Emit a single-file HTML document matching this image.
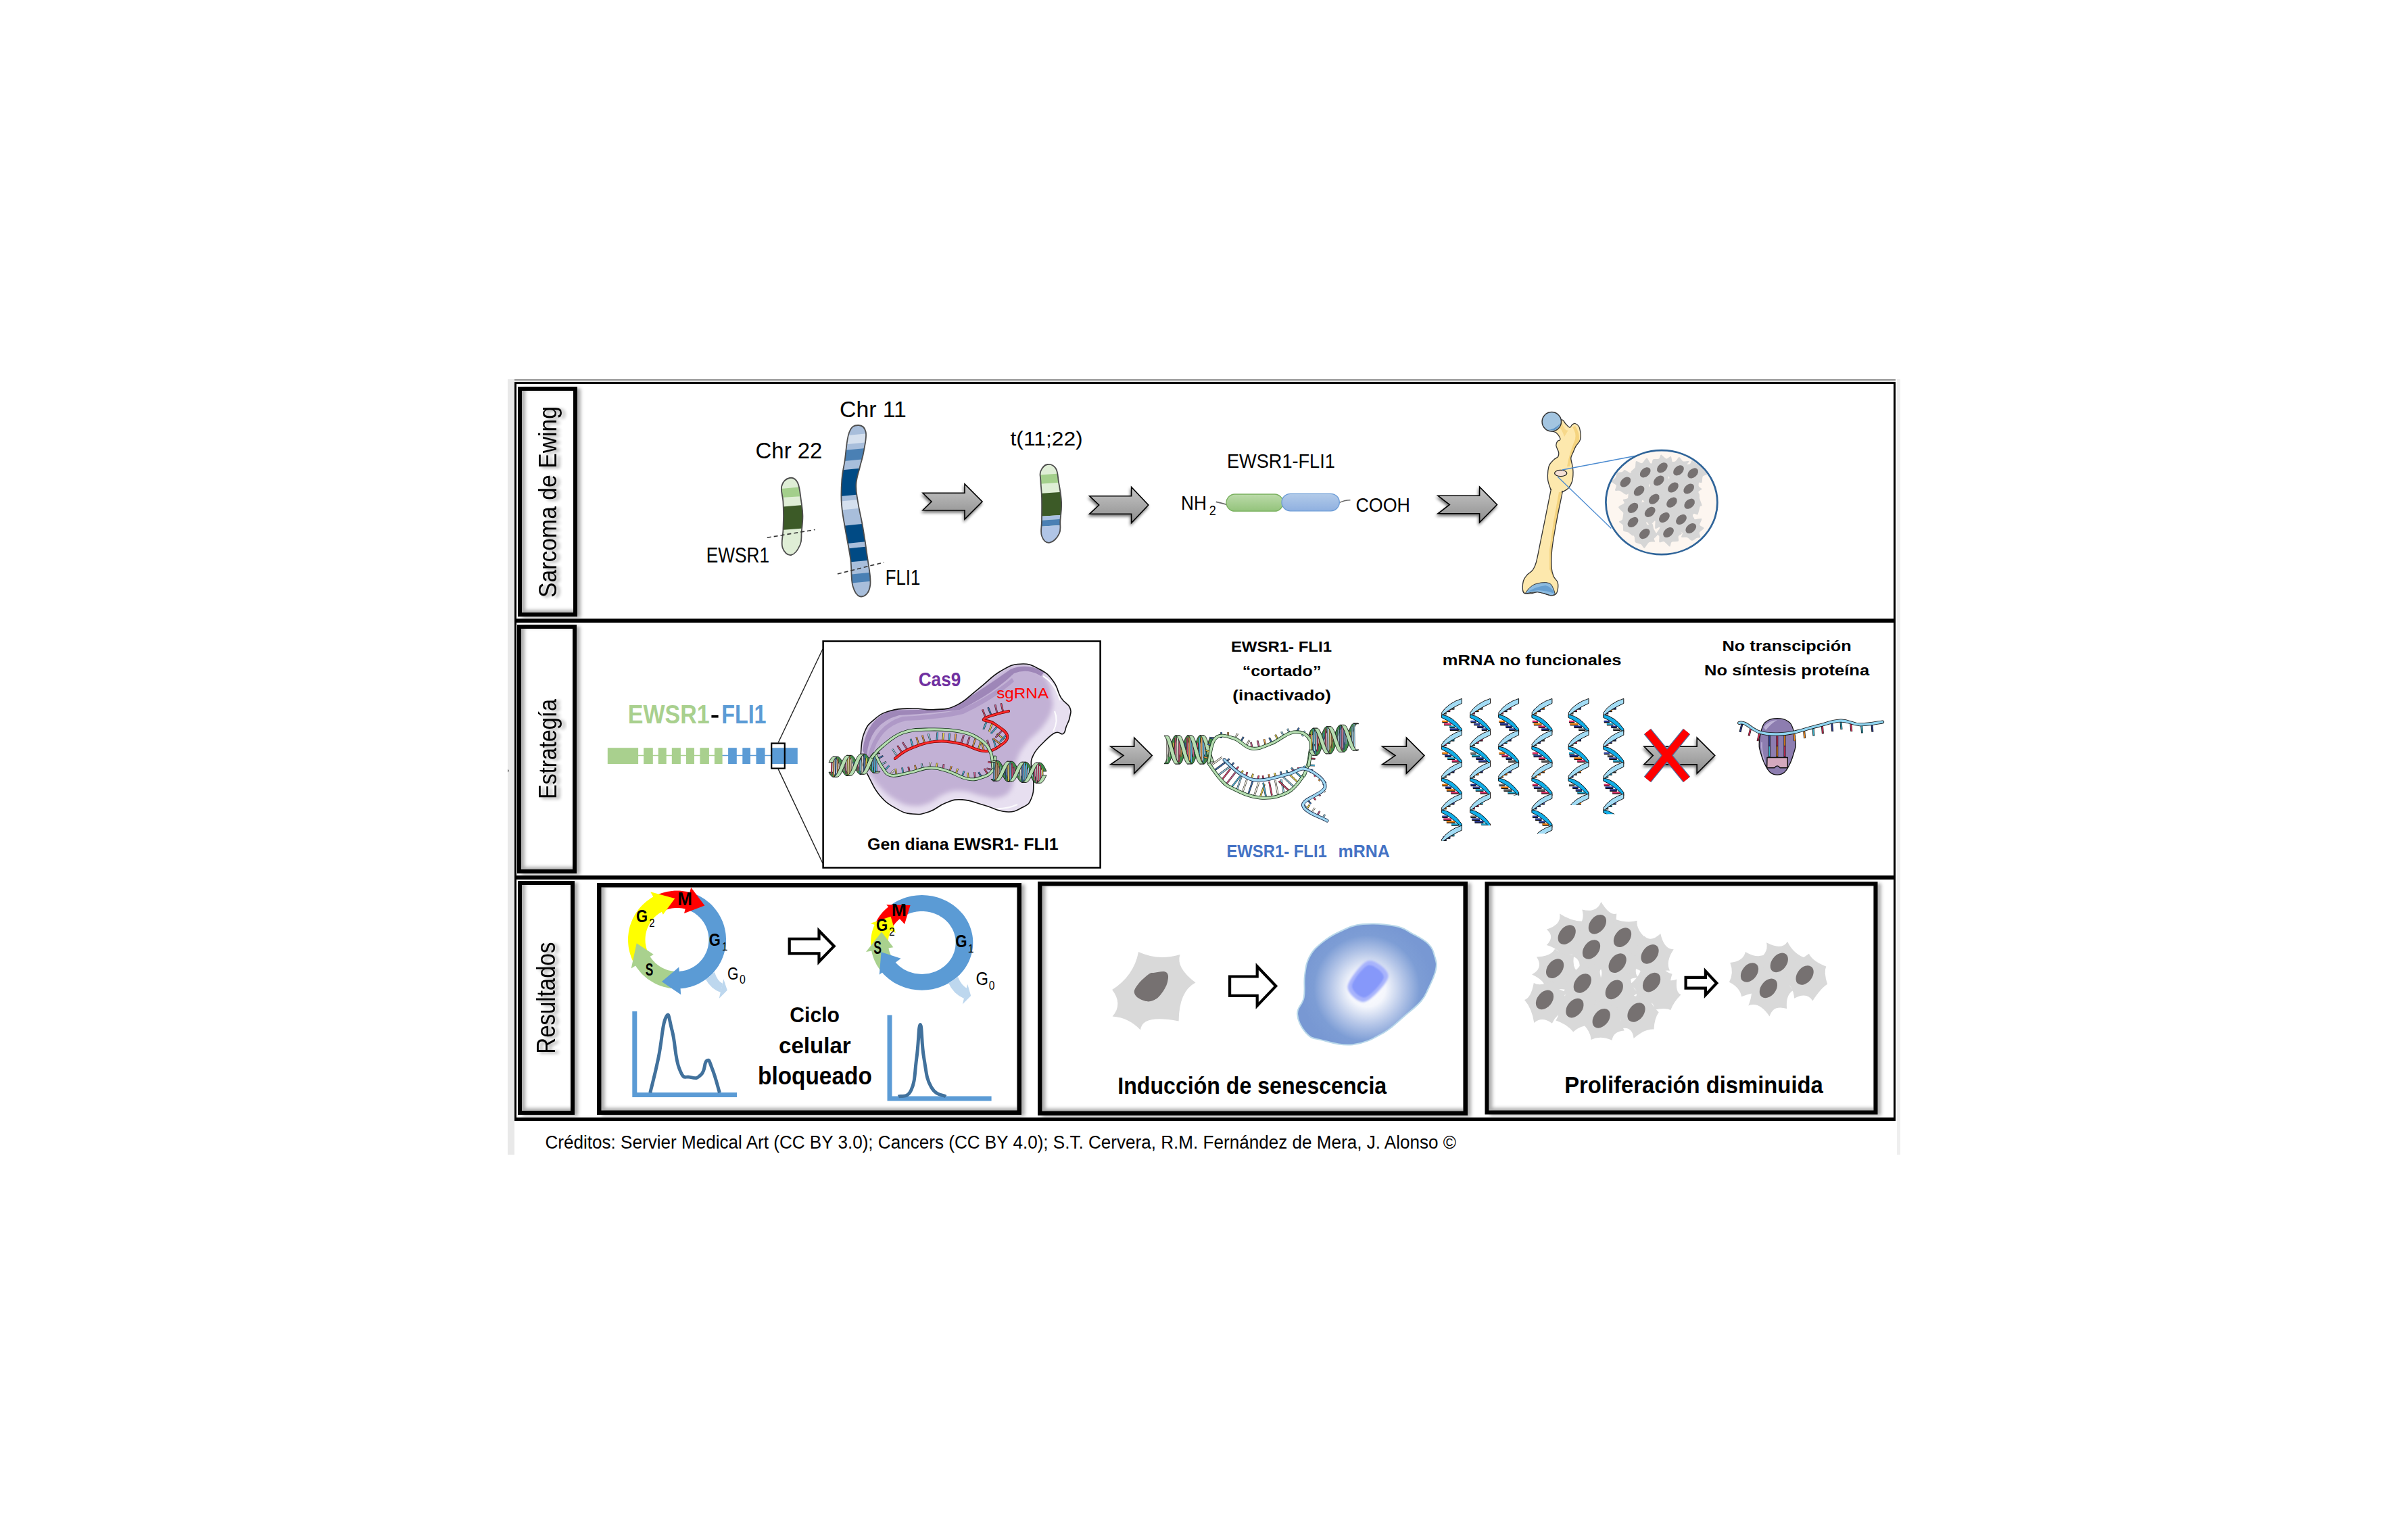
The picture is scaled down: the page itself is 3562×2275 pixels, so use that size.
<!DOCTYPE html>
<html><head><meta charset="utf-8"><style>
html,body{margin:0;padding:0;background:#fff;overflow:hidden}
svg{display:block}
text{font-family:"Liberation Sans",sans-serif}
</style></head><body>
<svg width="3562" height="2275" viewBox="0 0 3562 2275">
<rect width="3562" height="2275" fill="#fff"/>

<defs>
 <filter id="tshadow" x="-20%" y="-20%" width="140%" height="140%">
  <feGaussianBlur in="SourceAlpha" stdDeviation="2.4"/>
  <feOffset dx="4.5" dy="1.5" result="b"/>
  <feComponentTransfer><feFuncA type="linear" slope="0.38"/></feComponentTransfer>
  <feMerge><feMergeNode/><feMergeNode in="SourceGraphic"/></feMerge>
 </filter>
 <filter id="boxshadow" x="-10%" y="-10%" width="130%" height="130%">
  <feGaussianBlur in="SourceAlpha" stdDeviation="2.5"/>
  <feOffset dx="5" dy="2" result="b"/>
  <feComponentTransfer><feFuncA type="linear" slope="0.35"/></feComponentTransfer>
  <feMerge><feMergeNode/><feMergeNode in="SourceGraphic"/></feMerge>
 </filter>
 <filter id="innerblur" x="-10%" y="-10%" width="120%" height="120%">
  <feGaussianBlur stdDeviation="2.6"/>
 </filter>
 <filter id="arrowshadow" x="-20%" y="-20%" width="140%" height="160%">
  <feGaussianBlur in="SourceAlpha" stdDeviation="2"/>
  <feOffset dx="-1" dy="3" result="b"/>
  <feComponentTransfer><feFuncA type="linear" slope="0.55"/></feComponentTransfer>
  <feMerge><feMergeNode/><feMergeNode in="SourceGraphic"/></feMerge>
 </filter>
 <linearGradient id="arrowgrad" x1="0" y1="0" x2="0" y2="1">
  <stop offset="0" stop-color="#c6c6c6"/><stop offset="1" stop-color="#8e8e8e"/>
 </linearGradient>
</defs>

<rect x="751" y="561" width="10" height="1147" fill="#e9e9e9"/>
<rect x="2806" y="561" width="5" height="1147" fill="#efefef"/>
<path d="M751,1137.4 L753.2,1140.2 L751,1142.6 Z" fill="#666"/>
<rect x="761" y="561" width="2043" height="1.8" fill="#8f8f8f"/>
<rect x="761" y="562.8" width="2043" height="1.6" fill="#c4c4c4"/>
<rect x="761" y="565" width="2043" height="3" fill="#000"/>
<rect x="761" y="565" width="3" height="1093" fill="#000"/>
<rect x="2801" y="565" width="3" height="1093" fill="#000"/>
<rect x="761" y="1653" width="2043" height="5" fill="#000"/>
<rect x="761" y="915" width="2043" height="6" fill="#000"/>
<rect x="761" y="1295" width="2043" height="6" fill="#000"/>
<rect x="768" y="573" width="86" height="339" fill="#000" fill-opacity="0.32" filter="url(#innerblur)" transform="translate(5,1.5)"/>
<rect x="772" y="578" width="76" height="328" fill="#fff"/>
<clipPath id="clip12_766_572"><rect x="772" y="578" width="76" height="328"/></clipPath>
<g clip-path="url(#clip12_766_572)"><rect x="769.0" y="575.0" width="82" height="334" fill="none" stroke="#000" stroke-opacity="0.32" stroke-width="8" filter="url(#innerblur)" transform="translate(4,-2.5)"/></g>
<rect x="769.0" y="575.0" width="82" height="334" fill="none" stroke="#000" stroke-width="6"/>
<rect x="767" y="925" width="86" height="367" fill="#000" fill-opacity="0.32" filter="url(#innerblur)" transform="translate(5,1.5)"/>
<rect x="771" y="930" width="76" height="356" fill="#fff"/>
<clipPath id="clip13_765_924"><rect x="771" y="930" width="76" height="356"/></clipPath>
<g clip-path="url(#clip13_765_924)"><rect x="768.0" y="927.0" width="82" height="362" fill="none" stroke="#000" stroke-opacity="0.32" stroke-width="8" filter="url(#innerblur)" transform="translate(4,-2.5)"/></g>
<rect x="768.0" y="927.0" width="82" height="362" fill="none" stroke="#000" stroke-width="6"/>
<rect x="768" y="1304" width="82" height="345" fill="#000" fill-opacity="0.32" filter="url(#innerblur)" transform="translate(5,1.5)"/>
<rect x="772" y="1309" width="72" height="334" fill="#fff"/>
<clipPath id="clip14_766_1303"><rect x="772" y="1309" width="72" height="334"/></clipPath>
<g clip-path="url(#clip14_766_1303)"><rect x="769.0" y="1306.0" width="78" height="340" fill="none" stroke="#000" stroke-opacity="0.32" stroke-width="8" filter="url(#innerblur)" transform="translate(4,-2.5)"/></g>
<rect x="769.0" y="1306.0" width="78" height="340" fill="none" stroke="#000" stroke-width="6"/>
<rect x="885" y="1307" width="626" height="342" fill="#000" fill-opacity="0.32" filter="url(#innerblur)" transform="translate(5,1.5)"/>
<rect x="889.5" y="1312.5" width="615.0" height="330.0" fill="#fff"/>
<clipPath id="clip15_883_1306"><rect x="889.5" y="1312.5" width="615.0" height="330.0"/></clipPath>
<g clip-path="url(#clip15_883_1306)"><rect x="886.25" y="1309.25" width="621.5" height="336.5" fill="none" stroke="#000" stroke-opacity="0.32" stroke-width="8.5" filter="url(#innerblur)" transform="translate(4,-2.5)"/></g>
<rect x="886.25" y="1309.25" width="621.5" height="336.5" fill="none" stroke="#000" stroke-width="6.5"/>
<rect x="1537" y="1305" width="634" height="345" fill="#000" fill-opacity="0.32" filter="url(#innerblur)" transform="translate(5,1.5)"/>
<rect x="1541.5" y="1310.5" width="623.0" height="333.0" fill="#fff"/>
<clipPath id="clip16_1535_1304"><rect x="1541.5" y="1310.5" width="623.0" height="333.0"/></clipPath>
<g clip-path="url(#clip16_1535_1304)"><rect x="1538.25" y="1307.25" width="629.5" height="339.5" fill="none" stroke="#000" stroke-opacity="0.32" stroke-width="8.5" filter="url(#innerblur)" transform="translate(4,-2.5)"/></g>
<rect x="1538.25" y="1307.25" width="629.5" height="339.5" fill="none" stroke="#000" stroke-width="6.5"/>
<rect x="2198.5" y="1305.3" width="579.0" height="343.20000000000005" fill="#000" fill-opacity="0.32" filter="url(#innerblur)" transform="translate(5,1.5)"/>
<rect x="2202.5" y="1310.3" width="569.0" height="332.20000000000005" fill="#fff"/>
<clipPath id="clip17_2196_1304"><rect x="2202.5" y="1310.3" width="569.0" height="332.20000000000005"/></clipPath>
<g clip-path="url(#clip17_2196_1304)"><rect x="2199.5" y="1307.3" width="575.0" height="338.20000000000005" fill="none" stroke="#000" stroke-opacity="0.32" stroke-width="8" filter="url(#innerblur)" transform="translate(4,-2.5)"/></g>
<rect x="2199.5" y="1307.3" width="575.0" height="338.20000000000005" fill="none" stroke="#000" stroke-width="6"/>
<g filter="url(#tshadow)"><text transform="translate(823.20,884.00) rotate(-90)" x="0.00" y="0" font-size="37.36" textLength="283.00" lengthAdjust="spacingAndGlyphs" fill="#000">Sarcoma de Ewing</text></g>
<g filter="url(#tshadow)"><text transform="translate(822.70,1182.10) rotate(-90)" x="0.00" y="0" font-size="36.48" textLength="148.07" lengthAdjust="spacingAndGlyphs" fill="#000">Estrategía</text></g>
<g filter="url(#tshadow)"><text transform="translate(821.30,1558.70) rotate(-90)" x="0.00" y="0" font-size="38.08" textLength="165.10" lengthAdjust="spacingAndGlyphs" fill="#000">Resultados</text></g>
<text x="806.50" y="1699.30" font-size="27.62" font-weight="normal" fill="#000" textLength="1347.50" lengthAdjust="spacingAndGlyphs" >Créditos: Servier Medical Art (CC BY 3.0); Cancers (CC BY 4.0); S.T. Cervera, R.M. Fernández de Mera, J. Alonso ©</text>
<text x="1117.60" y="678.40" font-size="34.01" font-weight="normal" fill="#000" textLength="98.82" lengthAdjust="spacingAndGlyphs" >Chr 22</text>
<text x="1242.00" y="616.80" font-size="33.72" font-weight="normal" fill="#000" textLength="98.81" lengthAdjust="spacingAndGlyphs" >Chr 11</text>
<text x="1044.70" y="831.80" font-size="31.25" font-weight="normal" fill="#000" textLength="93.30" lengthAdjust="spacingAndGlyphs" >EWSR1</text>
<text x="1309.70" y="865.00" font-size="31.11" font-weight="normal" fill="#000" textLength="51.50" lengthAdjust="spacingAndGlyphs" >FLI1</text>
<text x="1494.50" y="659.00" font-size="30.09" font-weight="normal" fill="#000" textLength="107.20" lengthAdjust="spacingAndGlyphs" >t(11;22)</text>
<text x="1815.00" y="691.50" font-size="29.51" font-weight="normal" fill="#000" textLength="159.80" lengthAdjust="spacingAndGlyphs" >EWSR1-FLI1</text>
<text x="1747.00" y="753.60" font-size="29.80" font-weight="normal" fill="#000" textLength="37.81" lengthAdjust="spacingAndGlyphs" >NH</text>
<text x="1788.70" y="761.90" font-size="20.20" font-weight="normal" fill="#000" textLength="10.10" lengthAdjust="spacingAndGlyphs" >2</text>
<text x="2005.50" y="756.90" font-size="29.80" font-weight="normal" fill="#000" textLength="80.50" lengthAdjust="spacingAndGlyphs" >COOH</text>
<clipPath id="c22"><path d="M1168.0,707.0 C1172.7,706.0 1176.5,707.1 1179.9,714.0 C1183.3,720.9 1183.7,731.9 1185.2,741.7 C1186.7,751.5 1187.3,754.0 1187.4,763.0 C1187.5,772.0 1186.5,778.1 1185.7,786.7 C1184.9,795.3 1186.6,799.1 1183.5,806.0 C1180.4,812.9 1175.4,820.2 1170.2,821.0 C1165.0,821.8 1159.9,817.3 1157.5,810.0 C1155.1,802.7 1158.1,794.0 1158.4,784.6 C1158.7,775.2 1159.0,771.6 1159.0,763.0 C1159.0,754.4 1158.9,750.5 1158.4,741.7 C1157.9,732.9 1154.4,725.9 1156.3,719.0 C1158.2,712.1 1163.3,708.0 1168.0,707.0 Z"/></clipPath>
<path d="M1168.0,707.0 C1172.7,706.0 1176.5,707.1 1179.9,714.0 C1183.3,720.9 1183.7,731.9 1185.2,741.7 C1186.7,751.5 1187.3,754.0 1187.4,763.0 C1187.5,772.0 1186.5,778.1 1185.7,786.7 C1184.9,795.3 1186.6,799.1 1183.5,806.0 C1180.4,812.9 1175.4,820.2 1170.2,821.0 C1165.0,821.8 1159.9,817.3 1157.5,810.0 C1155.1,802.7 1158.1,794.0 1158.4,784.6 C1158.7,775.2 1159.0,771.6 1159.0,763.0 C1159.0,754.4 1158.9,750.5 1158.4,741.7 C1157.9,732.9 1154.4,725.9 1156.3,719.0 C1158.2,712.1 1163.3,708.0 1168.0,707.0 Z" fill="#dfeed6"/>
<g clip-path="url(#c22)">
<path d="M1150.0,723.4 L1195.0,719.5 L1195.0,733.5 L1150.0,736.3 Z" fill="#a3cf8b"/>
<path d="M1150.0,750.2 L1195.0,746.5 L1195.0,781.0 L1150.0,784.6 Z" fill="#3c5a27"/>
</g>
<path d="M1168.0,707.0 C1172.7,706.0 1176.5,707.1 1179.9,714.0 C1183.3,720.9 1183.7,731.9 1185.2,741.7 C1186.7,751.5 1187.3,754.0 1187.4,763.0 C1187.5,772.0 1186.5,778.1 1185.7,786.7 C1184.9,795.3 1186.6,799.1 1183.5,806.0 C1180.4,812.9 1175.4,820.2 1170.2,821.0 C1165.0,821.8 1159.9,817.3 1157.5,810.0 C1155.1,802.7 1158.1,794.0 1158.4,784.6 C1158.7,775.2 1159.0,771.6 1159.0,763.0 C1159.0,754.4 1158.9,750.5 1158.4,741.7 C1157.9,732.9 1154.4,725.9 1156.3,719.0 C1158.2,712.1 1163.3,708.0 1168.0,707.0 Z" fill="none" stroke="#4d4d4d" stroke-width="1.8"/>
<clipPath id="c11"><path d="M1269.0,629.0 C1273.9,628.8 1279.0,631.1 1280.7,639.0 C1282.4,646.9 1279.2,658.5 1277.5,668.7 C1275.8,678.9 1274.3,680.7 1272.1,690.2 C1269.9,699.7 1267.0,705.7 1266.4,716.0 C1265.8,726.3 1266.9,728.8 1268.9,741.7 C1270.9,754.6 1273.6,764.0 1276.4,780.3 C1279.2,796.6 1280.7,806.1 1282.9,823.2 C1285.1,840.3 1288.9,854.1 1287.2,866.0 C1285.5,877.9 1279.4,882.3 1274.3,882.5 C1269.2,882.7 1264.7,878.0 1261.5,867.0 C1258.3,856.0 1260.4,844.0 1258.2,827.5 C1256.0,811.0 1253.4,800.9 1250.7,784.6 C1248.0,768.3 1246.0,761.0 1244.9,746.0 C1243.8,731.0 1244.4,722.4 1245.3,709.5 C1246.2,696.6 1247.5,695.5 1249.6,681.6 C1251.7,667.7 1252.1,650.5 1256.0,640.0 C1259.9,629.5 1264.1,629.2 1269.0,629.0 Z"/></clipPath>
<path d="M1269.0,629.0 C1273.9,628.8 1279.0,631.1 1280.7,639.0 C1282.4,646.9 1279.2,658.5 1277.5,668.7 C1275.8,678.9 1274.3,680.7 1272.1,690.2 C1269.9,699.7 1267.0,705.7 1266.4,716.0 C1265.8,726.3 1266.9,728.8 1268.9,741.7 C1270.9,754.6 1273.6,764.0 1276.4,780.3 C1279.2,796.6 1280.7,806.1 1282.9,823.2 C1285.1,840.3 1288.9,854.1 1287.2,866.0 C1285.5,877.9 1279.4,882.3 1274.3,882.5 C1269.2,882.7 1264.7,878.0 1261.5,867.0 C1258.3,856.0 1260.4,844.0 1258.2,827.5 C1256.0,811.0 1253.4,800.9 1250.7,784.6 C1248.0,768.3 1246.0,761.0 1244.9,746.0 C1243.8,731.0 1244.4,722.4 1245.3,709.5 C1246.2,696.6 1247.5,695.5 1249.6,681.6 C1251.7,667.7 1252.1,650.5 1256.0,640.0 C1259.9,629.5 1264.1,629.2 1269.0,629.0 Z" fill="#a8bedb"/>
<g clip-path="url(#c11)">
<path d="M1235.0,646.0 L1295.0,640.0 L1295.0,653.0 L1235.0,659.0 Z" fill="#d5e0ee"/>
<path d="M1235.0,667.4 L1295.0,661.4 L1295.0,677.5 L1235.0,683.5 Z" fill="#4a80b4"/>
<path d="M1235.0,696.4 L1295.0,690.4 L1295.0,729.0 L1235.0,735.0 Z" fill="#004a84"/>
<path d="M1235.0,742.5 L1295.0,736.5 L1295.0,749.4 L1235.0,755.4 Z" fill="#d5e0ee"/>
<path d="M1235.0,779.0 L1295.0,773.0 L1295.0,799.8 L1235.0,805.8 Z" fill="#004a84"/>
<path d="M1235.0,813.3 L1295.0,807.3 L1295.0,827.7 L1235.0,833.7 Z" fill="#004a84"/>
<path d="M1235.0,852.0 L1295.0,846.0 L1295.0,859.0 L1235.0,865.0 Z" fill="#4a80b4"/>
</g>
<path d="M1269.0,629.0 C1273.9,628.8 1279.0,631.1 1280.7,639.0 C1282.4,646.9 1279.2,658.5 1277.5,668.7 C1275.8,678.9 1274.3,680.7 1272.1,690.2 C1269.9,699.7 1267.0,705.7 1266.4,716.0 C1265.8,726.3 1266.9,728.8 1268.9,741.7 C1270.9,754.6 1273.6,764.0 1276.4,780.3 C1279.2,796.6 1280.7,806.1 1282.9,823.2 C1285.1,840.3 1288.9,854.1 1287.2,866.0 C1285.5,877.9 1279.4,882.3 1274.3,882.5 C1269.2,882.7 1264.7,878.0 1261.5,867.0 C1258.3,856.0 1260.4,844.0 1258.2,827.5 C1256.0,811.0 1253.4,800.9 1250.7,784.6 C1248.0,768.3 1246.0,761.0 1244.9,746.0 C1243.8,731.0 1244.4,722.4 1245.3,709.5 C1246.2,696.6 1247.5,695.5 1249.6,681.6 C1251.7,667.7 1252.1,650.5 1256.0,640.0 C1259.9,629.5 1264.1,629.2 1269.0,629.0 Z" fill="none" stroke="#4d4d4d" stroke-width="1.8"/>
<line x1="1134.8" y1="795.3" x2="1205.6" y2="783.5" stroke="#333" stroke-width="1.6" stroke-dasharray="6,4"/>
<line x1="1238.9" y1="849" x2="1307.5" y2="831.8" stroke="#333" stroke-width="1.6" stroke-dasharray="6,4"/>
<clipPath id="ct"><path d="M1549.3,687.0 C1553.8,686.2 1558.5,687.8 1561.8,693.0 C1565.1,698.2 1564.3,703.0 1566.0,713.0 C1567.7,723.0 1569.6,731.7 1570.1,743.0 C1570.6,754.3 1569.1,760.2 1568.4,769.5 C1567.7,778.8 1569.9,782.8 1566.8,789.4 C1563.7,796.0 1557.9,802.0 1552.7,802.7 C1547.5,803.4 1543.3,799.4 1541.0,792.8 C1538.7,786.2 1541.0,780.8 1541.0,769.5 C1541.0,758.2 1541.3,747.9 1541.0,736.3 C1540.7,724.7 1539.7,719.3 1539.4,711.4 C1539.1,703.5 1537.4,701.9 1539.4,697.0 C1541.4,692.1 1544.8,687.8 1549.3,687.0 Z"/></clipPath>
<path d="M1549.3,687.0 C1553.8,686.2 1558.5,687.8 1561.8,693.0 C1565.1,698.2 1564.3,703.0 1566.0,713.0 C1567.7,723.0 1569.6,731.7 1570.1,743.0 C1570.6,754.3 1569.1,760.2 1568.4,769.5 C1567.7,778.8 1569.9,782.8 1566.8,789.4 C1563.7,796.0 1557.9,802.0 1552.7,802.7 C1547.5,803.4 1543.3,799.4 1541.0,792.8 C1538.7,786.2 1541.0,780.8 1541.0,769.5 C1541.0,758.2 1541.3,747.9 1541.0,736.3 C1540.7,724.7 1539.7,719.3 1539.4,711.4 C1539.1,703.5 1537.4,701.9 1539.4,697.0 C1541.4,692.1 1544.8,687.8 1549.3,687.0 Z" fill="#dfeed6"/>
<g clip-path="url(#ct)">
<path d="M1530.0,703.0 L1580.0,699.7 L1580.0,713.0 L1530.0,716.3 Z" fill="#a3cf8b"/>
<path d="M1530.0,730.5 L1580.0,727.0 L1580.0,761.2 L1530.0,764.5 Z" fill="#3c5a27"/>
<path d="M1530.0,764.5 L1580.0,761.2 L1580.0,767.0 L1530.0,770.3 Z" fill="#a9c0e2"/>
<path d="M1530.0,770.3 L1580.0,767.0 L1580.0,776.0 L1530.0,779.5 Z" fill="#4a80b4"/>
<path d="M1530.0,779.5 L1580.0,776.0 L1580.0,810.0 L1530.0,810.0 Z" fill="#b0c5e6"/>
</g>
<path d="M1549.3,687.0 C1553.8,686.2 1558.5,687.8 1561.8,693.0 C1565.1,698.2 1564.3,703.0 1566.0,713.0 C1567.7,723.0 1569.6,731.7 1570.1,743.0 C1570.6,754.3 1569.1,760.2 1568.4,769.5 C1567.7,778.8 1569.9,782.8 1566.8,789.4 C1563.7,796.0 1557.9,802.0 1552.7,802.7 C1547.5,803.4 1543.3,799.4 1541.0,792.8 C1538.7,786.2 1541.0,780.8 1541.0,769.5 C1541.0,758.2 1541.3,747.9 1541.0,736.3 C1540.7,724.7 1539.7,719.3 1539.4,711.4 C1539.1,703.5 1537.4,701.9 1539.4,697.0 C1541.4,692.1 1544.8,687.8 1549.3,687.0 Z" fill="none" stroke="#4d4d4d" stroke-width="1.8"/>
<path d="M1365.0,729.2 L1427.0,729.2 L1427.0,716.0 L1453.0,742.0 L1427.0,768.0 L1427.0,754.8 L1365.0,754.8 L1378.0,742.0 Z" fill="url(#arrowgrad)" stroke="#000" stroke-width="1.6" stroke-linejoin="miter" filter="url(#arrowshadow)"/>
<path d="M1611.6,733.7 L1673.6,733.7 L1673.6,720.5 L1698.8,747.0 L1673.6,773.5 L1673.6,760.3 L1611.6,760.3 L1625.7,747.0 Z" fill="url(#arrowgrad)" stroke="#000" stroke-width="1.6" stroke-linejoin="miter" filter="url(#arrowshadow)"/>
<path d="M2127.0,733.2 L2188.6,733.2 L2188.6,720.1 L2214.5,746.5 L2188.6,772.9 L2188.6,759.8 L2127.0,759.8 L2144.3,746.5 Z" fill="url(#arrowgrad)" stroke="#000" stroke-width="1.6" stroke-linejoin="miter" filter="url(#arrowshadow)"/>
<defs><linearGradient id="gpill" x1="0" y1="0" x2="0" y2="1"><stop offset="0" stop-color="#bcdbaa"/><stop offset="1" stop-color="#93c37b"/></linearGradient><linearGradient id="bpill" x1="0" y1="0" x2="0" y2="1"><stop offset="0" stop-color="#b3cbe9"/><stop offset="1" stop-color="#8fb0e0"/></linearGradient></defs>
<path d="M1798.8,742.4 Q1806,744 1815,746.5" fill="none" stroke="#666" stroke-width="1.6"/>
<path d="M1980,744 Q1990,739.5 1997.5,739.8" fill="none" stroke="#666" stroke-width="1.6"/>
<rect x="1814" y="731" width="84" height="25.2" rx="12.6" fill="url(#gpill)" stroke="#79b05e" stroke-width="1.3"/>
<rect x="1896" y="730.3" width="85.3" height="25.5" rx="12.7" fill="url(#bpill)" stroke="#6b9bd6" stroke-width="1.3"/>
<clipPath id="boneclip"><path d="M2309.2,621.0 C2313.1,619.7 2313.9,625.1 2316.0,627.0 C2318.1,628.9 2320.4,632.1 2322.0,632.3 C2323.6,632.5 2324.2,629.2 2325.6,628.2 C2326.9,627.2 2328.4,626.0 2330.1,626.5 C2331.8,627.0 2334.3,628.8 2335.6,631.0 C2336.9,633.2 2337.4,637.4 2337.9,640.0 C2338.4,642.6 2338.5,644.3 2338.3,646.4 C2338.1,648.5 2337.7,650.5 2336.5,652.8 C2335.3,655.1 2332.5,657.5 2331.0,660.1 C2329.5,662.7 2328.6,665.4 2327.4,668.3 C2326.2,671.2 2324.1,674.2 2323.8,677.4 C2323.5,680.6 2325.1,683.9 2325.6,687.4 C2326.1,690.9 2327.0,694.2 2327.0,698.3 C2327.0,702.4 2326.8,708.0 2325.6,712.0 C2324.4,716.0 2322.5,719.3 2320.1,722.0 C2317.7,724.7 2312.6,726.7 2311.0,728.0 C2309.4,729.3 2312.2,722.7 2310.8,730.0 C2309.4,737.3 2304.9,757.7 2302.4,771.6 C2299.9,785.5 2296.9,801.8 2295.7,813.2 C2294.5,824.7 2294.8,833.7 2295.2,840.3 C2295.6,846.9 2296.8,849.3 2298.3,852.8 C2299.8,856.3 2303.0,858.1 2304.0,861.1 C2305.0,864.1 2304.9,867.5 2304.5,870.5 C2304.1,873.5 2303.1,877.1 2301.4,878.8 C2299.7,880.5 2297.1,881.1 2294.1,880.9 C2291.1,880.7 2287.0,878.7 2283.7,877.8 C2280.4,876.9 2277.4,875.7 2274.3,875.7 C2271.2,875.7 2268.1,877.4 2265.0,877.8 C2261.9,878.1 2257.7,878.7 2255.6,877.8 C2253.5,876.9 2252.8,875.7 2252.5,872.6 C2252.2,869.5 2252.5,862.6 2253.5,859.0 C2254.5,855.4 2256.4,853.3 2258.7,850.7 C2260.9,848.1 2264.7,846.5 2267.0,843.4 C2269.3,840.3 2270.2,839.6 2272.3,832.0 C2274.4,824.4 2276.0,814.6 2279.5,797.6 C2283.0,780.6 2290.7,742.3 2293.1,730.0 C2295.5,717.7 2294.3,727.2 2293.7,723.8 C2293.1,720.3 2290.0,714.9 2289.6,709.3 C2289.2,703.7 2289.6,695.0 2291.0,690.1 C2292.4,685.2 2296.0,682.5 2298.3,680.1 C2300.6,677.7 2303.4,677.4 2304.6,675.6 C2305.8,673.8 2306.0,671.9 2305.6,669.2 C2305.2,666.5 2302.2,661.9 2301.9,659.2 C2301.6,656.5 2302.8,654.2 2303.7,652.8 C2304.6,651.4 2306.8,651.9 2307.4,651.0 C2308.0,650.1 2308.3,649.1 2307.4,647.3 C2306.5,645.5 2304.3,642.1 2301.9,640.1 C2299.5,638.1 2291.6,638.2 2292.8,635.0 C2294.0,631.8 2305.3,622.3 2309.2,621.0 Z"/></clipPath>
<path d="M2309.2,621.0 C2313.1,619.7 2313.9,625.1 2316.0,627.0 C2318.1,628.9 2320.4,632.1 2322.0,632.3 C2323.6,632.5 2324.2,629.2 2325.6,628.2 C2326.9,627.2 2328.4,626.0 2330.1,626.5 C2331.8,627.0 2334.3,628.8 2335.6,631.0 C2336.9,633.2 2337.4,637.4 2337.9,640.0 C2338.4,642.6 2338.5,644.3 2338.3,646.4 C2338.1,648.5 2337.7,650.5 2336.5,652.8 C2335.3,655.1 2332.5,657.5 2331.0,660.1 C2329.5,662.7 2328.6,665.4 2327.4,668.3 C2326.2,671.2 2324.1,674.2 2323.8,677.4 C2323.5,680.6 2325.1,683.9 2325.6,687.4 C2326.1,690.9 2327.0,694.2 2327.0,698.3 C2327.0,702.4 2326.8,708.0 2325.6,712.0 C2324.4,716.0 2322.5,719.3 2320.1,722.0 C2317.7,724.7 2312.6,726.7 2311.0,728.0 C2309.4,729.3 2312.2,722.7 2310.8,730.0 C2309.4,737.3 2304.9,757.7 2302.4,771.6 C2299.9,785.5 2296.9,801.8 2295.7,813.2 C2294.5,824.7 2294.8,833.7 2295.2,840.3 C2295.6,846.9 2296.8,849.3 2298.3,852.8 C2299.8,856.3 2303.0,858.1 2304.0,861.1 C2305.0,864.1 2304.9,867.5 2304.5,870.5 C2304.1,873.5 2303.1,877.1 2301.4,878.8 C2299.7,880.5 2297.1,881.1 2294.1,880.9 C2291.1,880.7 2287.0,878.7 2283.7,877.8 C2280.4,876.9 2277.4,875.7 2274.3,875.7 C2271.2,875.7 2268.1,877.4 2265.0,877.8 C2261.9,878.1 2257.7,878.7 2255.6,877.8 C2253.5,876.9 2252.8,875.7 2252.5,872.6 C2252.2,869.5 2252.5,862.6 2253.5,859.0 C2254.5,855.4 2256.4,853.3 2258.7,850.7 C2260.9,848.1 2264.7,846.5 2267.0,843.4 C2269.3,840.3 2270.2,839.6 2272.3,832.0 C2274.4,824.4 2276.0,814.6 2279.5,797.6 C2283.0,780.6 2290.7,742.3 2293.1,730.0 C2295.5,717.7 2294.3,727.2 2293.7,723.8 C2293.1,720.3 2290.0,714.9 2289.6,709.3 C2289.2,703.7 2289.6,695.0 2291.0,690.1 C2292.4,685.2 2296.0,682.5 2298.3,680.1 C2300.6,677.7 2303.4,677.4 2304.6,675.6 C2305.8,673.8 2306.0,671.9 2305.6,669.2 C2305.2,666.5 2302.2,661.9 2301.9,659.2 C2301.6,656.5 2302.8,654.2 2303.7,652.8 C2304.6,651.4 2306.8,651.9 2307.4,651.0 C2308.0,650.1 2308.3,649.1 2307.4,647.3 C2306.5,645.5 2304.3,642.1 2301.9,640.1 C2299.5,638.1 2291.6,638.2 2292.8,635.0 C2294.0,631.8 2305.3,622.3 2309.2,621.0 Z" fill="#fde8ad"/>
<g clip-path="url(#boneclip)">
<path d="M2330,630 Q2337,640 2336,652 Q2328,668 2322,690 L2318,690 Q2322,668 2330,650 Q2332,640 2326,632 Z" fill="#f4d27a" opacity="0.9"/>
<path d="M2306,728 L2298,772 L2292,813 L2292,842 L2298,856 L2296,842 L2296.5,813 L2303,772 L2310,728 Z" fill="#f4d27a" opacity="0.9"/>
<path d="M2309.5,624 Q2316,640 2320,636 L2314,646 Q2310,634 2306,632 Z" fill="#f4d27a" opacity="0.7"/>
</g>
<path d="M2309.2,621.0 C2313.1,619.7 2313.9,625.1 2316.0,627.0 C2318.1,628.9 2320.4,632.1 2322.0,632.3 C2323.6,632.5 2324.2,629.2 2325.6,628.2 C2326.9,627.2 2328.4,626.0 2330.1,626.5 C2331.8,627.0 2334.3,628.8 2335.6,631.0 C2336.9,633.2 2337.4,637.4 2337.9,640.0 C2338.4,642.6 2338.5,644.3 2338.3,646.4 C2338.1,648.5 2337.7,650.5 2336.5,652.8 C2335.3,655.1 2332.5,657.5 2331.0,660.1 C2329.5,662.7 2328.6,665.4 2327.4,668.3 C2326.2,671.2 2324.1,674.2 2323.8,677.4 C2323.5,680.6 2325.1,683.9 2325.6,687.4 C2326.1,690.9 2327.0,694.2 2327.0,698.3 C2327.0,702.4 2326.8,708.0 2325.6,712.0 C2324.4,716.0 2322.5,719.3 2320.1,722.0 C2317.7,724.7 2312.6,726.7 2311.0,728.0 C2309.4,729.3 2312.2,722.7 2310.8,730.0 C2309.4,737.3 2304.9,757.7 2302.4,771.6 C2299.9,785.5 2296.9,801.8 2295.7,813.2 C2294.5,824.7 2294.8,833.7 2295.2,840.3 C2295.6,846.9 2296.8,849.3 2298.3,852.8 C2299.8,856.3 2303.0,858.1 2304.0,861.1 C2305.0,864.1 2304.9,867.5 2304.5,870.5 C2304.1,873.5 2303.1,877.1 2301.4,878.8 C2299.7,880.5 2297.1,881.1 2294.1,880.9 C2291.1,880.7 2287.0,878.7 2283.7,877.8 C2280.4,876.9 2277.4,875.7 2274.3,875.7 C2271.2,875.7 2268.1,877.4 2265.0,877.8 C2261.9,878.1 2257.7,878.7 2255.6,877.8 C2253.5,876.9 2252.8,875.7 2252.5,872.6 C2252.2,869.5 2252.5,862.6 2253.5,859.0 C2254.5,855.4 2256.4,853.3 2258.7,850.7 C2260.9,848.1 2264.7,846.5 2267.0,843.4 C2269.3,840.3 2270.2,839.6 2272.3,832.0 C2274.4,824.4 2276.0,814.6 2279.5,797.6 C2283.0,780.6 2290.7,742.3 2293.1,730.0 C2295.5,717.7 2294.3,727.2 2293.7,723.8 C2293.1,720.3 2290.0,714.9 2289.6,709.3 C2289.2,703.7 2289.6,695.0 2291.0,690.1 C2292.4,685.2 2296.0,682.5 2298.3,680.1 C2300.6,677.7 2303.4,677.4 2304.6,675.6 C2305.8,673.8 2306.0,671.9 2305.6,669.2 C2305.2,666.5 2302.2,661.9 2301.9,659.2 C2301.6,656.5 2302.8,654.2 2303.7,652.8 C2304.6,651.4 2306.8,651.9 2307.4,651.0 C2308.0,650.1 2308.3,649.1 2307.4,647.3 C2306.5,645.5 2304.3,642.1 2301.9,640.1 C2299.5,638.1 2291.6,638.2 2292.8,635.0 C2294.0,631.8 2305.3,622.3 2309.2,621.0 Z" fill="none" stroke="#333" stroke-width="1.3"/>
<circle cx="2295.3" cy="623.7" r="14.2" fill="#a3c5e1" stroke="#333" stroke-width="1.5"/>
<path d="M2287,636 Q2300,636 2308,626 Q2306,632 2300,636 Z" fill="#5c95c9"/>
<path d="M2256.6,877.2 Q2262,868 2270.2,864.2 Q2280,861 2286.8,861.6 Q2293,862 2295.2,865.3 Q2299,872 2300.4,878.8 Q2297,881 2294.1,880.9 Q2284,877 2274.3,875.7 Q2265,876 2256.6,878 Z" fill="#8cbbe0" stroke="#333" stroke-width="1"/>
<path d="M2258,877 Q2270,868 2286,866 Q2296,868 2299,878 Q2290,874 2275,873 Q2265,874 2258,877 Z" fill="#5e98cc" opacity="0.8"/>
<ellipse cx="2308.7" cy="700" rx="9.1" ry="4.6" fill="#f6e0d4" stroke="#222" stroke-width="1.3"/>
<line x1="2311" y1="695" x2="2418.5" y2="674.5" stroke="#4a8ad0" stroke-width="1.3"/>
<line x1="2304" y1="705" x2="2383.3" y2="781.5" stroke="#4a8ad0" stroke-width="1.3"/>
<ellipse cx="2457.9" cy="743.2" rx="82.5" ry="77" fill="#fdf6f0"/>
<clipPath id="magclip"><ellipse cx="2457.9" cy="743.2" rx="81" ry="75.5"/></clipPath>
<g clip-path="url(#magclip)"><path d="M2424.3,711.4 C2424.2,712.7 2420.0,716.7 2419.2,718.5 C2418.3,720.2 2417.5,725.4 2416.8,726.4 C2416.1,727.4 2414.1,726.4 2412.8,727.1 C2411.5,727.7 2407.7,731.9 2405.8,731.8 C2403.9,731.7 2398.4,726.9 2396.5,726.2 C2394.5,725.4 2389.8,726.4 2389.1,725.5 C2388.5,724.5 2391.5,719.5 2390.8,718.0 C2390.1,716.4 2383.4,713.5 2383.3,712.1 C2383.1,710.8 2388.5,708.2 2389.5,706.7 C2390.6,705.2 2391.0,700.5 2392.2,699.5 C2393.4,698.5 2398.2,698.6 2399.5,698.1 C2400.8,697.5 2401.9,694.8 2403.3,694.9 C2404.8,695.1 2409.8,699.0 2411.8,699.5 C2413.8,700.0 2419.3,698.1 2420.3,699.0 C2421.3,700.0 2419.7,706.2 2420.1,707.6 C2420.6,709.1 2424.4,710.2 2424.3,711.4 Z" fill="#d6d6d6"/>
<path d="M2454.6,698.1 C2454.6,699.4 2450.3,703.2 2449.2,704.9 C2448.1,706.7 2446.1,712.4 2445.1,713.2 C2444.1,713.9 2442.4,711.1 2440.7,711.6 C2439.1,712.2 2432.5,718.1 2431.0,718.2 C2429.4,718.3 2428.8,713.0 2427.5,712.3 C2426.2,711.7 2420.9,713.3 2420.0,712.5 C2419.0,711.7 2420.4,707.1 2419.5,705.4 C2418.6,703.8 2412.5,699.9 2412.5,698.3 C2412.4,696.6 2417.8,693.5 2418.7,691.6 C2419.6,689.7 2419.0,682.8 2420.2,682.0 C2421.3,681.3 2427.0,685.7 2428.8,685.1 C2430.7,684.6 2434.6,677.4 2436.0,677.5 C2437.5,677.5 2440.0,684.1 2441.4,685.2 C2442.8,686.2 2446.9,685.4 2447.8,686.4 C2448.6,687.5 2447.9,692.9 2448.7,694.3 C2449.5,695.6 2454.5,696.9 2454.6,698.1 Z" fill="#d6d6d6"/>
<path d="M2477.1,690.6 C2477.1,692.4 2473.9,698.2 2473.7,699.8 C2473.5,701.5 2476.4,704.0 2475.4,704.6 C2474.3,705.2 2466.6,704.1 2464.8,705.0 C2463.0,705.9 2461.7,712.6 2460.2,712.5 C2458.7,712.4 2453.8,705.2 2452.1,704.2 C2450.4,703.2 2446.5,705.1 2445.6,704.2 C2444.8,703.3 2445.7,698.3 2444.7,696.6 C2443.8,694.9 2437.7,690.7 2437.5,689.3 C2437.3,688.0 2442.4,686.5 2443.3,685.3 C2444.3,684.2 2444.0,680.4 2445.3,679.6 C2446.5,678.8 2452.5,679.4 2453.9,678.6 C2455.3,677.7 2455.9,672.4 2457.1,672.4 C2458.4,672.4 2463.2,678.3 2464.9,678.6 C2466.6,678.9 2470.6,674.3 2471.7,675.0 C2472.7,675.7 2473.3,682.7 2474.0,684.5 C2474.6,686.4 2477.1,688.8 2477.1,690.6 Z" fill="#d6d6d6"/>
<path d="M2502.2,698.1 C2502.5,699.6 2498.0,700.1 2497.4,701.6 C2496.7,703.0 2497.6,709.6 2496.6,710.6 C2495.6,711.7 2490.7,709.9 2488.8,710.5 C2486.9,711.0 2481.7,715.4 2480.4,715.5 C2479.0,715.5 2478.3,711.4 2477.2,710.8 C2476.0,710.2 2471.7,711.6 2470.6,710.3 C2469.5,709.0 2468.6,701.3 2468.0,699.6 C2467.3,697.9 2464.9,696.6 2465.0,695.5 C2465.0,694.4 2468.2,691.6 2468.4,690.2 C2468.6,688.8 2465.7,684.6 2466.8,683.7 C2467.9,682.8 2476.1,683.4 2478.1,682.5 C2480.1,681.6 2482.4,676.2 2483.8,676.1 C2485.1,676.1 2487.8,681.5 2489.5,682.2 C2491.2,682.9 2497.8,681.4 2498.5,682.1 C2499.2,682.9 2494.8,686.7 2495.2,688.5 C2495.7,690.4 2502.0,696.6 2502.2,698.1 Z" fill="#d6d6d6"/>
<path d="M2525.6,701.0 C2525.7,702.4 2519.7,703.2 2518.8,704.7 C2517.8,706.2 2518.3,712.8 2517.4,713.8 C2516.4,714.8 2511.9,712.7 2510.5,713.4 C2509.0,714.2 2506.3,719.9 2505.0,720.0 C2503.7,720.1 2501.0,715.2 2499.3,714.2 C2497.6,713.2 2491.6,712.6 2490.4,711.6 C2489.2,710.6 2489.8,707.0 2489.2,705.8 C2488.6,704.5 2485.2,702.5 2485.4,701.0 C2485.7,699.5 2490.7,694.6 2491.2,693.1 C2491.6,691.5 2488.2,688.2 2489.1,687.4 C2490.1,686.6 2497.9,687.1 2499.5,686.4 C2501.2,685.6 2501.8,680.7 2503.2,680.7 C2504.6,680.7 2509.6,685.6 2511.4,686.4 C2513.2,687.3 2517.9,687.4 2518.7,688.2 C2519.5,689.0 2517.7,691.6 2518.5,693.1 C2519.4,694.6 2525.6,699.7 2525.6,701.0 Z" fill="#d6d6d6"/>
<path d="M2473.3,713.3 C2473.2,714.2 2468.2,714.1 2467.5,715.4 C2466.7,716.7 2467.9,723.0 2466.9,724.3 C2465.9,725.6 2460.0,726.0 2458.7,726.7 C2457.3,727.3 2457.0,730.1 2455.6,729.9 C2454.2,729.7 2448.4,725.8 2446.4,725.0 C2444.5,724.2 2439.7,724.1 2439.0,723.3 C2438.3,722.5 2441.3,719.8 2440.8,718.2 C2440.3,716.5 2435.0,710.8 2434.9,709.3 C2434.7,707.9 2438.9,707.2 2439.5,705.8 C2440.1,704.5 2438.5,698.6 2439.7,697.6 C2440.9,696.5 2448.7,697.9 2450.0,697.0 C2451.3,696.1 2449.2,689.9 2450.6,689.8 C2452.0,689.8 2459.9,695.6 2462.0,696.3 C2464.1,697.0 2467.9,694.3 2468.6,695.6 C2469.3,696.8 2467.4,705.1 2468.0,707.2 C2468.5,709.2 2473.3,712.3 2473.3,713.3 Z" fill="#d6d6d6"/>
<path d="M2445.6,727.5 C2445.4,729.1 2439.4,731.3 2438.6,732.6 C2437.8,733.9 2439.9,738.0 2439.0,738.7 C2438.2,739.4 2432.8,737.9 2431.1,738.7 C2429.4,739.4 2425.6,745.0 2424.1,745.0 C2422.6,745.0 2419.8,739.3 2418.0,738.5 C2416.2,737.8 2409.6,739.6 2408.5,738.6 C2407.4,737.7 2409.1,732.1 2408.6,730.3 C2408.2,728.6 2404.6,724.6 2404.7,723.6 C2404.7,722.6 2408.4,723.2 2409.0,722.1 C2409.6,720.9 2408.6,715.1 2409.8,713.9 C2411.1,712.7 2417.7,712.5 2419.4,711.4 C2421.0,710.3 2422.7,704.5 2424.0,704.6 C2425.4,704.7 2429.1,711.7 2430.8,712.3 C2432.5,713.0 2437.4,709.2 2438.4,710.0 C2439.4,710.9 2438.7,717.6 2439.6,719.7 C2440.4,721.7 2445.7,726.0 2445.6,727.5 Z" fill="#d6d6d6"/>
<path d="M2493.7,720.2 C2493.8,721.7 2490.3,725.8 2490.0,727.4 C2489.7,729.0 2492.4,733.1 2491.1,734.2 C2489.9,735.3 2481.4,736.2 2479.3,736.7 C2477.2,737.3 2474.6,739.0 2473.3,738.9 C2472.0,738.9 2469.3,736.3 2468.1,736.0 C2467.0,735.6 2464.3,737.0 2463.5,736.1 C2462.7,735.2 2462.1,729.6 2461.1,727.9 C2460.1,726.2 2455.1,723.0 2455.3,721.5 C2455.5,719.9 2461.9,715.9 2462.5,714.6 C2463.1,713.2 2459.7,710.5 2460.3,709.8 C2461.0,709.1 2466.0,709.7 2468.1,708.5 C2470.2,707.4 2476.7,700.4 2478.0,700.1 C2479.3,699.9 2478.0,705.3 2479.1,706.1 C2480.2,706.9 2486.6,705.8 2487.8,706.7 C2489.0,707.7 2488.7,712.7 2489.4,714.3 C2490.1,715.9 2493.6,718.6 2493.7,720.2 Z" fill="#d6d6d6"/>
<path d="M2517.5,723.5 C2517.5,724.5 2512.9,726.0 2512.5,727.4 C2512.1,728.8 2514.9,734.3 2513.8,735.5 C2512.7,736.6 2504.6,736.6 2503.1,737.3 C2501.5,738.0 2501.7,741.4 2500.5,741.5 C2499.3,741.5 2494.7,738.5 2492.7,737.8 C2490.7,737.1 2484.5,736.7 2483.4,735.5 C2482.3,734.3 2483.7,729.1 2483.1,727.7 C2482.6,726.3 2478.8,724.7 2478.9,723.4 C2478.9,722.1 2482.9,718.6 2483.4,716.9 C2483.9,715.2 2482.3,709.7 2483.4,708.9 C2484.4,708.0 2490.6,710.2 2492.4,709.5 C2494.2,708.7 2497.3,702.6 2498.4,702.5 C2499.6,702.4 2500.5,707.7 2502.2,708.3 C2503.9,708.9 2511.6,706.4 2512.8,707.7 C2514.1,709.0 2512.2,717.3 2512.8,719.1 C2513.3,720.9 2517.5,722.5 2517.5,723.5 Z" fill="#d6d6d6"/>
<path d="M2467.5,740.7 C2467.6,741.7 2461.9,741.8 2461.4,743.0 C2460.9,744.3 2464.2,750.0 2463.2,751.2 C2462.1,752.5 2454.5,752.9 2452.4,753.8 C2450.3,754.6 2446.5,758.7 2445.0,758.5 C2443.5,758.3 2441.1,752.7 2439.8,752.2 C2438.6,751.7 2435.0,754.8 2434.4,754.0 C2433.7,753.3 2435.1,747.7 2434.4,745.6 C2433.8,743.6 2428.9,738.0 2428.7,736.7 C2428.5,735.4 2432.2,735.9 2433.0,734.4 C2433.8,732.8 2434.6,724.8 2435.2,723.6 C2435.8,722.4 2437.4,724.8 2438.4,724.1 C2439.5,723.4 2442.6,717.4 2444.4,717.3 C2446.2,717.2 2451.7,722.4 2453.9,723.4 C2456.0,724.4 2462.0,724.8 2462.8,726.1 C2463.5,727.3 2459.7,732.3 2460.3,734.0 C2460.8,735.7 2467.4,739.6 2467.5,740.7 Z" fill="#d6d6d6"/>
<path d="M2492.8,744.8 C2492.6,746.2 2486.5,747.8 2485.9,749.5 C2485.2,751.2 2487.6,758.6 2486.9,759.4 C2486.3,760.2 2482.2,755.6 2480.5,756.1 C2478.8,756.7 2474.0,764.1 2472.6,764.2 C2471.2,764.3 2470.0,757.7 2468.5,757.0 C2467.0,756.4 2461.0,759.6 2459.8,758.5 C2458.7,757.5 2459.3,749.6 2458.6,747.9 C2457.9,746.2 2453.6,745.1 2453.6,744.0 C2453.6,742.8 2458.3,739.5 2458.7,738.0 C2459.1,736.5 2456.1,732.2 2457.4,731.1 C2458.6,729.9 2467.2,729.2 2469.2,728.5 C2471.2,727.7 2473.1,724.7 2474.4,724.7 C2475.6,724.7 2478.5,728.0 2480.0,728.6 C2481.6,729.3 2486.9,728.9 2487.8,729.9 C2488.6,730.9 2487.0,735.3 2487.6,737.1 C2488.2,738.8 2493.0,743.3 2492.8,744.8 Z" fill="#d6d6d6"/>
<path d="M2517.6,747.4 C2517.7,748.9 2515.5,748.0 2514.7,749.5 C2514.0,751.1 2512.5,759.7 2511.4,760.9 C2510.3,762.1 2506.8,759.6 2505.6,759.9 C2504.4,760.3 2502.3,764.1 2501.0,764.1 C2499.7,764.1 2496.2,760.7 2494.5,760.2 C2492.9,759.6 2487.9,760.3 2486.6,759.2 C2485.3,758.1 2484.3,752.2 2483.4,750.7 C2482.5,749.2 2478.6,747.8 2478.7,746.5 C2478.8,745.1 2483.0,741.1 2483.9,739.3 C2484.7,737.6 2485.1,732.2 2486.1,731.5 C2487.2,730.7 2491.2,733.3 2492.7,732.7 C2494.2,732.0 2497.8,726.0 2499.1,725.8 C2500.3,725.6 2501.9,730.3 2503.6,730.8 C2505.2,731.3 2511.9,729.0 2513.1,729.7 C2514.3,730.5 2513.4,735.1 2514.0,737.1 C2514.5,739.2 2517.5,746.0 2517.6,747.4 Z" fill="#d6d6d6"/>
<path d="M2435.7,751.2 C2435.8,752.4 2431.6,755.6 2430.7,757.4 C2429.8,759.2 2429.3,765.7 2428.2,766.7 C2427.2,767.8 2423.5,765.7 2421.7,766.1 C2420.0,766.6 2415.0,770.6 2413.4,770.6 C2411.8,770.6 2409.3,767.0 2408.0,766.3 C2406.7,765.6 2403.1,765.6 2402.3,764.7 C2401.5,763.8 2402.2,760.3 2401.2,758.6 C2400.2,756.9 2393.9,751.8 2394.1,750.2 C2394.2,748.5 2401.8,745.5 2402.6,744.3 C2403.4,743.0 2400.3,740.0 2400.9,739.2 C2401.6,738.4 2406.0,738.2 2408.0,737.1 C2410.0,736.1 2416.3,730.4 2417.8,730.2 C2419.3,730.0 2419.4,734.9 2420.7,735.7 C2421.9,736.4 2427.5,735.4 2428.5,736.7 C2429.5,738.0 2428.2,745.1 2429.0,746.8 C2429.9,748.4 2435.5,749.9 2435.7,751.2 Z" fill="#d6d6d6"/>
<path d="M2461.5,754.7 C2461.5,756.2 2455.7,760.2 2454.9,762.2 C2454.1,764.2 2455.6,771.2 2454.8,772.1 C2454.0,773.0 2450.0,769.6 2448.4,770.1 C2446.8,770.7 2442.5,776.8 2441.1,777.0 C2439.6,777.3 2437.8,773.2 2436.0,772.3 C2434.1,771.3 2426.2,770.2 2425.2,769.0 C2424.2,767.9 2427.9,763.8 2427.3,762.6 C2426.8,761.4 2420.6,759.8 2420.4,758.7 C2420.1,757.5 2423.7,754.6 2424.8,752.8 C2425.9,750.9 2428.0,744.0 2429.4,742.8 C2430.8,741.7 2435.3,743.4 2436.8,742.7 C2438.3,742.0 2441.3,736.7 2442.4,736.6 C2443.5,736.6 2444.3,741.5 2445.9,742.2 C2447.5,743.0 2455.1,742.3 2456.1,743.2 C2457.2,744.1 2454.5,748.7 2455.2,750.1 C2455.8,751.4 2461.6,753.3 2461.5,754.7 Z" fill="#d6d6d6"/>
<path d="M2482.1,768.2 C2482.0,769.4 2475.9,769.8 2475.1,771.0 C2474.3,772.3 2476.5,777.9 2475.5,779.0 C2474.6,780.1 2468.7,779.9 2467.0,780.5 C2465.4,781.1 2462.9,784.1 2461.5,784.1 C2460.2,784.0 2456.7,780.0 2455.2,779.7 C2453.7,779.5 2449.2,782.9 2448.4,781.8 C2447.6,780.7 2448.9,772.5 2448.4,770.3 C2447.8,768.1 2443.7,764.2 2443.5,763.0 C2443.4,761.8 2446.2,761.4 2446.8,760.0 C2447.3,758.6 2447.0,751.9 2448.2,750.9 C2449.3,749.8 2455.2,751.5 2456.7,751.0 C2458.1,750.5 2459.8,746.9 2460.9,746.8 C2461.9,746.7 2464.2,749.2 2466.1,749.9 C2468.0,750.6 2475.9,751.2 2477.0,752.4 C2478.2,753.7 2475.6,758.8 2476.2,760.7 C2476.8,762.5 2482.3,767.0 2482.1,768.2 Z" fill="#d6d6d6"/>
<path d="M2506.3,767.0 C2506.1,768.5 2500.1,773.5 2499.4,775.2 C2498.7,777.0 2501.2,780.9 2500.3,781.8 C2499.4,782.6 2493.1,782.0 2491.6,782.7 C2490.2,783.4 2489.3,787.8 2488.0,787.8 C2486.7,787.9 2482.4,783.8 2480.6,783.3 C2478.8,782.8 2473.5,784.8 2472.8,783.9 C2472.0,783.0 2474.6,777.2 2474.1,775.6 C2473.6,774.1 2468.9,772.3 2468.7,770.6 C2468.6,768.9 2472.3,762.7 2472.7,761.0 C2473.2,759.4 2471.7,757.4 2472.6,756.5 C2473.5,755.6 2478.5,754.7 2480.5,753.7 C2482.4,752.6 2487.5,747.6 2489.0,747.8 C2490.4,748.0 2491.6,754.4 2492.9,755.2 C2494.2,756.0 2498.8,753.9 2499.8,754.8 C2500.8,755.6 2500.7,761.1 2501.5,762.5 C2502.3,764.0 2506.6,765.6 2506.3,767.0 Z" fill="#d6d6d6"/>
<path d="M2434.3,770.7 C2434.0,772.2 2428.7,776.8 2428.0,778.9 C2427.4,781.0 2430.1,787.7 2429.1,788.7 C2428.1,789.6 2421.0,786.6 2419.4,787.0 C2417.7,787.5 2416.5,792.4 2415.2,792.5 C2413.9,792.6 2410.1,788.5 2408.5,787.6 C2406.8,786.8 2402.2,786.4 2401.3,785.1 C2400.4,783.8 2401.5,778.3 2400.7,776.7 C2400.0,775.2 2395.0,772.7 2394.9,771.8 C2394.8,770.8 2398.9,770.1 2399.8,768.5 C2400.6,766.9 2401.1,759.0 2402.2,757.8 C2403.4,756.6 2408.4,758.8 2409.7,758.2 C2411.1,757.6 2412.5,752.7 2413.7,752.6 C2414.8,752.5 2417.5,756.7 2419.4,757.4 C2421.3,758.2 2428.6,758.1 2430.0,759.2 C2431.3,760.2 2430.6,765.0 2431.1,766.3 C2431.6,767.7 2434.7,769.2 2434.3,770.7 Z" fill="#d6d6d6"/>
<path d="M2451.1,791.8 C2451.1,793.5 2447.1,795.8 2446.7,796.9 C2446.4,798.0 2448.9,800.7 2448.1,801.3 C2447.2,801.9 2441.0,801.2 2439.2,802.3 C2437.4,803.4 2433.8,810.6 2432.5,810.9 C2431.1,811.3 2428.8,806.2 2427.2,805.1 C2425.6,804.1 2420.0,803.2 2418.9,801.9 C2417.8,800.6 2418.4,795.8 2417.6,794.0 C2416.8,792.3 2412.1,788.3 2412.3,787.0 C2412.5,785.7 2418.5,784.5 2419.3,782.9 C2420.1,781.3 2418.0,774.1 2419.1,773.2 C2420.1,772.3 2426.6,775.3 2428.4,774.9 C2430.2,774.6 2433.3,769.8 2434.2,769.9 C2435.2,770.0 2435.4,775.4 2436.6,776.0 C2437.7,776.5 2443.0,774.1 2444.2,774.8 C2445.3,775.5 2445.5,780.3 2446.3,782.3 C2447.1,784.3 2451.0,790.1 2451.1,791.8 Z" fill="#d6d6d6"/>
<path d="M2487.9,788.7 C2488.2,790.2 2483.4,791.8 2482.8,793.2 C2482.2,794.6 2483.9,799.6 2482.7,800.6 C2481.5,801.6 2474.2,801.0 2472.7,801.9 C2471.2,802.9 2471.4,808.7 2470.0,808.6 C2468.7,808.5 2463.1,801.8 2461.3,801.0 C2459.5,800.3 2455.3,803.1 2454.5,802.1 C2453.7,801.1 2454.9,794.1 2454.3,792.7 C2453.7,791.3 2449.4,791.7 2449.5,790.3 C2449.6,788.9 2454.6,782.7 2455.2,780.9 C2455.8,779.0 2453.9,775.2 2454.6,774.4 C2455.3,773.7 2459.8,775.3 2461.3,774.6 C2462.8,774.0 2466.3,769.0 2467.5,768.9 C2468.7,768.8 2470.0,773.2 2471.6,773.6 C2473.1,774.0 2479.5,771.4 2480.5,772.2 C2481.5,773.0 2479.3,778.5 2480.2,780.4 C2481.1,782.4 2487.6,787.2 2487.9,788.7 Z" fill="#d6d6d6"/>
<path d="M2520.7,781.2 C2520.6,782.5 2514.6,786.1 2513.9,787.7 C2513.3,789.3 2515.8,793.9 2515.3,794.8 C2514.8,795.8 2511.2,795.3 2509.7,795.9 C2508.3,796.5 2504.4,799.9 2502.7,799.8 C2501.1,799.7 2497.6,795.5 2495.8,794.9 C2493.9,794.3 2487.9,795.4 2487.1,794.6 C2486.3,793.8 2489.4,790.0 2488.8,788.4 C2488.2,786.7 2482.4,781.8 2482.3,780.2 C2482.1,778.6 2486.7,776.0 2487.6,774.4 C2488.4,772.8 2488.8,767.1 2489.6,766.4 C2490.4,765.7 2493.0,768.9 2494.5,768.3 C2496.1,767.7 2501.8,761.4 2503.1,761.3 C2504.5,761.3 2504.4,767.4 2506.1,768.0 C2507.7,768.7 2516.2,766.2 2517.2,767.2 C2518.2,768.1 2513.9,774.8 2514.3,776.5 C2514.7,778.1 2520.7,779.9 2520.7,781.2 Z" fill="#d6d6d6"/>
<ellipse cx="2404.4" cy="713.0" rx="9" ry="6.2" transform="rotate(-42 2404.4 713.0)" fill="#767171"/>
<ellipse cx="2433.7" cy="698.8" rx="9" ry="6.2" transform="rotate(-42 2433.7 698.8)" fill="#767171"/>
<ellipse cx="2458.9" cy="691.8" rx="9" ry="6.2" transform="rotate(-42 2458.9 691.8)" fill="#767171"/>
<ellipse cx="2483.0" cy="695.8" rx="9" ry="6.2" transform="rotate(-42 2483.0 695.8)" fill="#767171"/>
<ellipse cx="2504.2" cy="699.9" rx="9" ry="6.2" transform="rotate(-42 2504.2 699.9)" fill="#767171"/>
<ellipse cx="2453.8" cy="711.0" rx="9" ry="6.2" transform="rotate(-42 2453.8 711.0)" fill="#767171"/>
<ellipse cx="2424.6" cy="726.0" rx="9" ry="6.2" transform="rotate(-42 2424.6 726.0)" fill="#767171"/>
<ellipse cx="2475.0" cy="721.0" rx="9" ry="6.2" transform="rotate(-42 2475.0 721.0)" fill="#767171"/>
<ellipse cx="2498.2" cy="723.0" rx="9" ry="6.2" transform="rotate(-42 2498.2 723.0)" fill="#767171"/>
<ellipse cx="2446.8" cy="738.2" rx="9" ry="6.2" transform="rotate(-42 2446.8 738.2)" fill="#767171"/>
<ellipse cx="2473.0" cy="743.2" rx="9" ry="6.2" transform="rotate(-42 2473.0 743.2)" fill="#767171"/>
<ellipse cx="2499.2" cy="745.2" rx="9" ry="6.2" transform="rotate(-42 2499.2 745.2)" fill="#767171"/>
<ellipse cx="2415.5" cy="751.3" rx="9" ry="6.2" transform="rotate(-42 2415.5 751.3)" fill="#767171"/>
<ellipse cx="2440.7" cy="757.3" rx="9" ry="6.2" transform="rotate(-42 2440.7 757.3)" fill="#767171"/>
<ellipse cx="2461.9" cy="765.4" rx="9" ry="6.2" transform="rotate(-42 2461.9 765.4)" fill="#767171"/>
<ellipse cx="2487.0" cy="768.4" rx="9" ry="6.2" transform="rotate(-42 2487.0 768.4)" fill="#767171"/>
<ellipse cx="2415.5" cy="772.4" rx="9" ry="6.2" transform="rotate(-42 2415.5 772.4)" fill="#767171"/>
<ellipse cx="2432.7" cy="789.6" rx="9" ry="6.2" transform="rotate(-42 2432.7 789.6)" fill="#767171"/>
<ellipse cx="2468.0" cy="787.5" rx="9" ry="6.2" transform="rotate(-42 2468.0 787.5)" fill="#767171"/>
<ellipse cx="2501.2" cy="781.5" rx="9" ry="6.2" transform="rotate(-42 2501.2 781.5)" fill="#767171"/></g>
<ellipse cx="2457.9" cy="743.2" rx="82.5" ry="77" fill="none" stroke="#2f6499" stroke-width="2.7"/>
<text x="928.80" y="1070.20" font-size="38.95" font-weight="bold" fill="#a9d08e" textLength="120.81" lengthAdjust="spacingAndGlyphs" >EWSR1</text>
<rect x="1052.4" y="1058" width="10.2" height="3.6" fill="#000"/>
<text x="1067.20" y="1070.20" font-size="38.95" font-weight="bold" fill="#5b9bd5" textLength="66.39" lengthAdjust="spacingAndGlyphs" >FLI1</text>
<line x1="944" y1="1117.5" x2="1057" y2="1117.5" stroke="#a9d08e" stroke-width="1.6"/>
<line x1="1057" y1="1117.5" x2="1142" y2="1117.5" stroke="#5b9bd5" stroke-width="1.6"/>
<rect x="898.8" y="1106.2" width="45.3" height="23.8" fill="#a9d08e"/>
<rect x="952.1" y="1106.2" width="13.7" height="23.8" fill="#a9d08e"/>
<rect x="973.7" y="1106.2" width="12.0" height="23.8" fill="#a9d08e"/>
<rect x="993.8" y="1106.2" width="13.1" height="23.8" fill="#a9d08e"/>
<rect x="1015" y="1106.2" width="12.0" height="23.8" fill="#a9d08e"/>
<rect x="1035.4" y="1106.2" width="13.5" height="23.8" fill="#a9d08e"/>
<rect x="1056.9" y="1106.2" width="11.7" height="23.8" fill="#a9d08e"/>
<rect x="1077.1" y="1106.2" width="12.7" height="23.8" fill="#5b9bd5"/>
<rect x="1098.3" y="1106.2" width="11.7" height="23.8" fill="#5b9bd5"/>
<rect x="1118.5" y="1106.2" width="13.0" height="23.8" fill="#5b9bd5"/>
<rect x="1142" y="1106.2" width="37.8" height="23.8" fill="#5b9bd5"/>
<rect x="1141.2" y="1099.5" width="19.6" height="37.1" fill="none" stroke="#000" stroke-width="2.2"/>
<line x1="1151.2" y1="1098.5" x2="1217" y2="960" stroke="#222" stroke-width="1.4"/>
<line x1="1151.2" y1="1137.6" x2="1217" y2="1277" stroke="#222" stroke-width="1.4"/>
<rect x="1217.6" y="948.5" width="410" height="335" fill="#fff" stroke="#000" stroke-width="2.5"/>
<defs><radialGradient id="casg" cx="0.35" cy="0.45" r="0.75"><stop offset="0" stop-color="#c4b3d6"/><stop offset="0.6" stop-color="#c1b0d4"/><stop offset="0.85" stop-color="#d9cfe6"/><stop offset="1" stop-color="#ece6f3"/></radialGradient><clipPath id="casclip"><path d="M1273.6,1111.4 C1274.3,1101.2 1274.0,1094.8 1278.5,1083.8 C1283.0,1072.8 1284.0,1071.9 1293.1,1064.3 C1302.2,1056.7 1304.2,1055.1 1317.5,1051.3 C1330.8,1047.5 1334.8,1048.4 1350.0,1048.0 C1365.2,1047.6 1367.3,1050.7 1382.5,1049.6 C1397.7,1048.5 1399.8,1050.3 1415.0,1043.1 C1430.2,1035.9 1432.3,1030.5 1447.5,1018.8 C1462.7,1007.1 1465.6,1001.3 1480.0,992.8 C1494.4,984.3 1496.0,983.0 1509.3,982.2 C1522.6,981.4 1525.5,983.6 1536.9,989.5 C1548.3,995.4 1550.4,997.5 1558.0,1007.4 C1565.6,1017.3 1563.7,1022.7 1569.4,1031.8 C1575.1,1040.9 1579.4,1039.6 1582.4,1046.4 C1585.4,1053.2 1583.5,1054.6 1582.4,1061.0 C1581.3,1067.4 1579.8,1068.3 1577.5,1074.0 C1575.2,1079.7 1576.5,1083.1 1572.7,1085.4 C1568.9,1087.7 1567.8,1081.1 1561.3,1083.8 C1554.8,1086.5 1552.6,1089.2 1545.0,1096.8 C1537.4,1104.4 1533.3,1107.2 1528.8,1116.3 C1524.2,1125.4 1525.5,1126.3 1525.5,1135.8 C1525.5,1145.3 1528.8,1146.3 1528.8,1156.9 C1528.8,1167.5 1529.3,1172.6 1525.5,1181.3 C1521.7,1190.0 1521.2,1189.8 1512.5,1194.3 C1503.8,1198.8 1501.5,1201.6 1488.2,1200.8 C1474.9,1200.0 1470.9,1195.2 1455.7,1191.0 C1440.5,1186.8 1436.5,1183.6 1423.2,1182.9 C1409.9,1182.2 1410.2,1183.6 1398.8,1187.8 C1387.4,1192.0 1385.8,1197.0 1374.4,1200.8 C1363.0,1204.6 1361.4,1205.1 1350.0,1204.0 C1338.6,1202.9 1337.0,1202.3 1325.6,1195.9 C1314.2,1189.5 1310.8,1187.4 1301.3,1176.4 C1291.8,1165.4 1291.1,1160.2 1285.0,1148.8 C1278.9,1137.4 1278.0,1136.3 1275.3,1127.6 C1272.6,1118.9 1272.9,1121.6 1273.6,1111.4 Z"/></clipPath></defs>
<path d="M1273.6,1111.4 C1274.3,1101.2 1274.0,1094.8 1278.5,1083.8 C1283.0,1072.8 1284.0,1071.9 1293.1,1064.3 C1302.2,1056.7 1304.2,1055.1 1317.5,1051.3 C1330.8,1047.5 1334.8,1048.4 1350.0,1048.0 C1365.2,1047.6 1367.3,1050.7 1382.5,1049.6 C1397.7,1048.5 1399.8,1050.3 1415.0,1043.1 C1430.2,1035.9 1432.3,1030.5 1447.5,1018.8 C1462.7,1007.1 1465.6,1001.3 1480.0,992.8 C1494.4,984.3 1496.0,983.0 1509.3,982.2 C1522.6,981.4 1525.5,983.6 1536.9,989.5 C1548.3,995.4 1550.4,997.5 1558.0,1007.4 C1565.6,1017.3 1563.7,1022.7 1569.4,1031.8 C1575.1,1040.9 1579.4,1039.6 1582.4,1046.4 C1585.4,1053.2 1583.5,1054.6 1582.4,1061.0 C1581.3,1067.4 1579.8,1068.3 1577.5,1074.0 C1575.2,1079.7 1576.5,1083.1 1572.7,1085.4 C1568.9,1087.7 1567.8,1081.1 1561.3,1083.8 C1554.8,1086.5 1552.6,1089.2 1545.0,1096.8 C1537.4,1104.4 1533.3,1107.2 1528.8,1116.3 C1524.2,1125.4 1525.5,1126.3 1525.5,1135.8 C1525.5,1145.3 1528.8,1146.3 1528.8,1156.9 C1528.8,1167.5 1529.3,1172.6 1525.5,1181.3 C1521.7,1190.0 1521.2,1189.8 1512.5,1194.3 C1503.8,1198.8 1501.5,1201.6 1488.2,1200.8 C1474.9,1200.0 1470.9,1195.2 1455.7,1191.0 C1440.5,1186.8 1436.5,1183.6 1423.2,1182.9 C1409.9,1182.2 1410.2,1183.6 1398.8,1187.8 C1387.4,1192.0 1385.8,1197.0 1374.4,1200.8 C1363.0,1204.6 1361.4,1205.1 1350.0,1204.0 C1338.6,1202.9 1337.0,1202.3 1325.6,1195.9 C1314.2,1189.5 1310.8,1187.4 1301.3,1176.4 C1291.8,1165.4 1291.1,1160.2 1285.0,1148.8 C1278.9,1137.4 1278.0,1136.3 1275.3,1127.6 C1272.6,1118.9 1272.9,1121.6 1273.6,1111.4 Z" fill="#e7dff0"/>
<filter id="casblur" x="-10%" y="-10%" width="120%" height="120%"><feGaussianBlur stdDeviation="3.5"/></filter>
<g clip-path="url(#casclip)">
<path d="M1276.0,1111.0 C1276.9,1101.0 1276.6,1094.7 1281.0,1084.0 C1285.4,1073.3 1286.4,1072.5 1295.0,1065.0 C1303.6,1057.5 1305.2,1055.7 1318.0,1052.0 C1330.8,1048.3 1335.1,1049.5 1350.0,1049.0 C1364.9,1048.5 1366.8,1051.2 1382.0,1050.0 C1397.2,1048.8 1399.8,1051.0 1415.0,1044.0 C1430.2,1037.0 1431.8,1031.7 1447.0,1020.0 C1462.2,1008.3 1465.5,1002.4 1480.0,994.0 C1494.5,985.6 1496.2,984.5 1509.0,984.0 C1521.8,983.5 1525.4,986.4 1535.0,992.0 C1544.6,997.6 1545.1,999.1 1550.0,1008.0 C1554.9,1016.9 1554.6,1020.2 1556.0,1030.0 C1557.4,1039.8 1559.3,1039.5 1556.0,1050.0 C1552.7,1060.5 1550.9,1063.3 1542.0,1075.0 C1533.1,1086.7 1526.9,1088.3 1518.0,1100.0 C1509.1,1111.7 1508.2,1113.3 1504.0,1125.0 C1499.8,1136.7 1502.3,1139.5 1500.0,1150.0 C1497.7,1160.5 1499.6,1163.0 1494.0,1170.0 C1488.4,1177.0 1485.1,1178.1 1476.0,1180.0 C1466.9,1181.9 1467.4,1180.3 1455.0,1178.0 C1442.6,1175.7 1436.3,1170.9 1423.0,1170.0 C1409.7,1169.1 1409.4,1169.8 1398.0,1174.0 C1386.6,1178.2 1385.2,1183.8 1374.0,1188.0 C1362.8,1192.2 1361.2,1192.9 1350.0,1192.0 C1338.8,1191.1 1337.0,1190.1 1326.0,1184.0 C1315.0,1177.9 1312.1,1175.1 1303.0,1166.0 C1293.9,1156.9 1293.1,1154.1 1287.0,1145.0 C1280.9,1135.9 1279.6,1134.9 1277.0,1127.0 C1274.4,1119.1 1275.1,1121.0 1276.0,1111.0 Z" fill="#c2b1d5" filter="url(#casblur)"/>
<path d="M1282,1120 Q1285,1070 1330,1058 Q1380,1055 1420,1050 Q1470,1025 1500,996 Q1520,988 1540,1000 L1545,994 Q1520,980 1495,990 Q1460,1015 1415,1043 Q1370,1052 1320,1050 Q1282,1062 1276,1110 Z" fill="#9a82b5" opacity="0.9"/>
<path d="M1290,1120 Q1300,1075 1340,1066 Q1390,1064 1425,1056 Q1470,1035 1500,1008 L1497,1003 Q1465,1030 1420,1050 Q1380,1058 1335,1060 Q1295,1072 1284,1118 Z" fill="#ab95c4" opacity="0.85"/>
<path d="M1543,1000 Q1562,1012 1568,1036" fill="none" stroke="#fff" stroke-width="2.2" opacity="0.95"/>
<path d="M1560,1052 Q1566,1066 1558,1082" fill="none" stroke="#fff" stroke-width="2" opacity="0.9"/>
<path d="M1470,1196 Q1490,1197 1505,1190" fill="none" stroke="#fff" stroke-width="2" opacity="0.8"/>
</g>
<path d="M1273.6,1111.4 C1274.3,1101.2 1274.0,1094.8 1278.5,1083.8 C1283.0,1072.8 1284.0,1071.9 1293.1,1064.3 C1302.2,1056.7 1304.2,1055.1 1317.5,1051.3 C1330.8,1047.5 1334.8,1048.4 1350.0,1048.0 C1365.2,1047.6 1367.3,1050.7 1382.5,1049.6 C1397.7,1048.5 1399.8,1050.3 1415.0,1043.1 C1430.2,1035.9 1432.3,1030.5 1447.5,1018.8 C1462.7,1007.1 1465.6,1001.3 1480.0,992.8 C1494.4,984.3 1496.0,983.0 1509.3,982.2 C1522.6,981.4 1525.5,983.6 1536.9,989.5 C1548.3,995.4 1550.4,997.5 1558.0,1007.4 C1565.6,1017.3 1563.7,1022.7 1569.4,1031.8 C1575.1,1040.9 1579.4,1039.6 1582.4,1046.4 C1585.4,1053.2 1583.5,1054.6 1582.4,1061.0 C1581.3,1067.4 1579.8,1068.3 1577.5,1074.0 C1575.2,1079.7 1576.5,1083.1 1572.7,1085.4 C1568.9,1087.7 1567.8,1081.1 1561.3,1083.8 C1554.8,1086.5 1552.6,1089.2 1545.0,1096.8 C1537.4,1104.4 1533.3,1107.2 1528.8,1116.3 C1524.2,1125.4 1525.5,1126.3 1525.5,1135.8 C1525.5,1145.3 1528.8,1146.3 1528.8,1156.9 C1528.8,1167.5 1529.3,1172.6 1525.5,1181.3 C1521.7,1190.0 1521.2,1189.8 1512.5,1194.3 C1503.8,1198.8 1501.5,1201.6 1488.2,1200.8 C1474.9,1200.0 1470.9,1195.2 1455.7,1191.0 C1440.5,1186.8 1436.5,1183.6 1423.2,1182.9 C1409.9,1182.2 1410.2,1183.6 1398.8,1187.8 C1387.4,1192.0 1385.8,1197.0 1374.4,1200.8 C1363.0,1204.6 1361.4,1205.1 1350.0,1204.0 C1338.6,1202.9 1337.0,1202.3 1325.6,1195.9 C1314.2,1189.5 1310.8,1187.4 1301.3,1176.4 C1291.8,1165.4 1291.1,1160.2 1285.0,1148.8 C1278.9,1137.4 1278.0,1136.3 1275.3,1127.6 C1272.6,1118.9 1272.9,1121.6 1273.6,1111.4 Z" fill="none" stroke="#111" stroke-width="1.6"/>
<path d="M1226.0,1142.2 L1226.8,1143.7 L1227.6,1145.1 L1228.4,1146.3 L1229.2,1147.3 L1230.0,1148.2 L1230.8,1148.8 L1231.6,1149.2 L1232.4,1149.3 L1238.4,1149.3 L1237.6,1149.2 L1236.8,1148.8 L1236.0,1148.2 L1235.2,1147.3 L1234.4,1146.3 L1233.6,1145.1 L1232.8,1143.7 L1232.0,1142.2 Z" fill="#3f8c4a" stroke="#111" stroke-width="0.9" stroke-linejoin="round"/>
<path d="M1252.6,1117.4 L1253.4,1117.3 L1254.2,1117.5 L1255.0,1117.9 L1255.8,1118.6 L1256.6,1119.5 L1257.4,1120.6 L1258.2,1121.8 L1259.0,1123.2 L1259.8,1124.8 L1260.6,1126.4 L1261.4,1128.2 L1262.2,1129.9 L1263.0,1131.8 L1263.8,1133.6 L1264.6,1135.3 L1265.4,1137.0 L1266.2,1138.6 L1267.0,1140.1 L1267.8,1141.5 L1268.6,1142.6 L1269.4,1143.6 L1270.3,1144.4 L1271.1,1144.9 L1271.9,1145.2 L1277.9,1145.2 L1277.1,1144.9 L1276.3,1144.4 L1275.4,1143.6 L1274.6,1142.6 L1273.8,1141.5 L1273.0,1140.1 L1272.2,1138.6 L1271.4,1137.0 L1270.6,1135.3 L1269.8,1133.6 L1269.0,1131.8 L1268.2,1129.9 L1267.4,1128.2 L1266.6,1126.4 L1265.8,1124.8 L1265.0,1123.2 L1264.2,1121.8 L1263.4,1120.6 L1262.6,1119.5 L1261.8,1118.6 L1261.0,1117.9 L1260.2,1117.5 L1259.4,1117.3 L1258.6,1117.4 Z" fill="#3f8c4a" stroke="#111" stroke-width="0.9" stroke-linejoin="round"/>
<path d="M1292.8,1113.3 L1293.6,1113.4 L1294.4,1113.6 L1295.2,1114.1 L1296.0,1114.8 L1302.0,1114.8 L1301.2,1114.1 L1300.4,1113.6 L1299.6,1113.4 L1298.8,1113.3 Z" fill="#3f8c4a" stroke="#111" stroke-width="0.9" stroke-linejoin="round"/>
<path d="M1232.4,1119.4 L1233.2,1119.3 L1234.0,1119.5 L1234.9,1119.9 L1235.7,1120.5 L1236.5,1121.3 L1237.3,1122.4 L1238.1,1123.6 L1238.9,1125.0 L1239.7,1126.5 L1240.5,1128.2 L1241.3,1129.9 L1242.1,1131.7 L1242.9,1133.5 L1243.7,1135.3 L1244.5,1137.1 L1245.3,1138.8 L1246.1,1140.4 L1246.9,1141.9 L1247.7,1143.3 L1248.5,1144.5 L1249.3,1145.5 L1250.1,1146.3 L1250.9,1146.9 L1251.7,1147.2 L1257.7,1147.2 L1256.9,1146.9 L1256.1,1146.3 L1255.3,1145.5 L1254.5,1144.5 L1253.7,1143.3 L1252.9,1141.9 L1252.1,1140.4 L1251.3,1138.8 L1250.5,1137.1 L1249.7,1135.3 L1248.9,1133.5 L1248.1,1131.7 L1247.3,1129.9 L1246.5,1128.2 L1245.7,1126.5 L1244.9,1125.0 L1244.1,1123.6 L1243.3,1122.4 L1242.5,1121.3 L1241.7,1120.5 L1240.9,1119.9 L1240.0,1119.5 L1239.2,1119.3 L1238.4,1119.4 Z" fill="#3f8c4a" stroke="#111" stroke-width="0.9" stroke-linejoin="round"/>
<path d="M1272.7,1115.3 L1273.5,1115.3 L1274.3,1115.6 L1275.1,1116.0 L1275.9,1116.7 L1276.7,1117.6 L1277.5,1118.7 L1278.3,1120.0 L1279.1,1121.4 L1279.9,1123.0 L1280.7,1124.7 L1281.5,1126.4 L1282.3,1128.2 L1283.1,1130.0 L1283.9,1131.8 L1284.7,1133.6 L1285.5,1135.3 L1286.3,1136.9 L1287.1,1138.3 L1288.0,1139.6 L1288.8,1140.8 L1289.6,1141.7 L1290.4,1142.5 L1291.2,1143.0 L1292.0,1143.3 L1298.0,1143.3 L1297.2,1143.0 L1296.4,1142.5 L1295.6,1141.7 L1294.8,1140.8 L1294.0,1139.6 L1293.1,1138.3 L1292.3,1136.9 L1291.5,1135.3 L1290.7,1133.6 L1289.9,1131.8 L1289.1,1130.0 L1288.3,1128.2 L1287.5,1126.4 L1286.7,1124.7 L1285.9,1123.0 L1285.1,1121.4 L1284.3,1120.0 L1283.5,1118.7 L1282.7,1117.6 L1281.9,1116.7 L1281.1,1116.0 L1280.3,1115.6 L1279.5,1115.3 L1278.7,1115.3 Z" fill="#3f8c4a" stroke="#111" stroke-width="0.9" stroke-linejoin="round"/>
<line x1="1230.0" y1="1145.7" x2="1230.5" y2="1123.9" stroke="#222" stroke-width="2.2"/>
<line x1="1230.0" y1="1145.7" x2="1230.5" y2="1123.9" stroke="#d9436a" stroke-width="1.2"/>
<line x1="1233.0" y1="1148.9" x2="1233.5" y2="1120.1" stroke="#222" stroke-width="2.2"/>
<line x1="1233.0" y1="1148.9" x2="1233.5" y2="1120.1" stroke="#e9a04a" stroke-width="1.2"/>
<line x1="1236.0" y1="1148.9" x2="1236.5" y2="1119.5" stroke="#222" stroke-width="2.2"/>
<line x1="1236.0" y1="1148.9" x2="1236.5" y2="1119.5" stroke="#3d6fb0" stroke-width="1.2"/>
<line x1="1239.0" y1="1145.8" x2="1239.5" y2="1122.0" stroke="#222" stroke-width="2.2"/>
<line x1="1239.0" y1="1145.8" x2="1239.5" y2="1122.0" stroke="#e9a04a" stroke-width="1.2"/>
<line x1="1242.0" y1="1140.0" x2="1242.5" y2="1127.2" stroke="#222" stroke-width="2.2"/>
<line x1="1242.0" y1="1140.0" x2="1242.5" y2="1127.2" stroke="#f5f0e0" stroke-width="1.2"/>
<line x1="1245.0" y1="1132.9" x2="1245.5" y2="1133.7" stroke="#222" stroke-width="2.2"/>
<line x1="1245.0" y1="1132.9" x2="1245.5" y2="1133.7" stroke="#f5f0e0" stroke-width="1.2"/>
<line x1="1248.0" y1="1125.8" x2="1248.5" y2="1140.2" stroke="#222" stroke-width="2.2"/>
<line x1="1248.0" y1="1125.8" x2="1248.5" y2="1140.2" stroke="#f5f0e0" stroke-width="1.2"/>
<line x1="1251.0" y1="1120.3" x2="1251.5" y2="1145.1" stroke="#222" stroke-width="2.2"/>
<line x1="1251.0" y1="1120.3" x2="1251.5" y2="1145.1" stroke="#c85a8a" stroke-width="1.2"/>
<line x1="1254.0" y1="1117.5" x2="1254.5" y2="1147.3" stroke="#222" stroke-width="2.2"/>
<line x1="1254.0" y1="1117.5" x2="1254.5" y2="1147.3" stroke="#f0d84a" stroke-width="1.2"/>
<line x1="1257.0" y1="1118.0" x2="1257.5" y2="1146.2" stroke="#222" stroke-width="2.2"/>
<line x1="1257.0" y1="1118.0" x2="1257.5" y2="1146.2" stroke="#e9a04a" stroke-width="1.2"/>
<line x1="1260.0" y1="1121.5" x2="1260.5" y2="1142.1" stroke="#222" stroke-width="2.2"/>
<line x1="1260.0" y1="1121.5" x2="1260.5" y2="1142.1" stroke="#f5f0e0" stroke-width="1.2"/>
<line x1="1263.0" y1="1127.3" x2="1263.5" y2="1135.7" stroke="#222" stroke-width="2.2"/>
<line x1="1263.0" y1="1127.3" x2="1263.5" y2="1135.7" stroke="#4bb3d9" stroke-width="1.2"/>
<line x1="1266.0" y1="1134.0" x2="1266.5" y2="1128.4" stroke="#222" stroke-width="2.2"/>
<line x1="1266.0" y1="1134.0" x2="1266.5" y2="1128.4" stroke="#c85a8a" stroke-width="1.2"/>
<line x1="1269.0" y1="1140.1" x2="1269.5" y2="1121.7" stroke="#222" stroke-width="2.2"/>
<line x1="1269.0" y1="1140.1" x2="1269.5" y2="1121.7" stroke="#c85a8a" stroke-width="1.2"/>
<line x1="1272.0" y1="1144.2" x2="1272.5" y2="1117.0" stroke="#222" stroke-width="2.2"/>
<line x1="1272.0" y1="1144.2" x2="1272.5" y2="1117.0" stroke="#4bb3d9" stroke-width="1.2"/>
<line x1="1275.0" y1="1145.3" x2="1275.5" y2="1115.3" stroke="#222" stroke-width="2.2"/>
<line x1="1275.0" y1="1145.3" x2="1275.5" y2="1115.3" stroke="#f5f0e0" stroke-width="1.2"/>
<line x1="1278.0" y1="1143.2" x2="1278.5" y2="1116.8" stroke="#222" stroke-width="2.2"/>
<line x1="1278.0" y1="1143.2" x2="1278.5" y2="1116.8" stroke="#3d6fb0" stroke-width="1.2"/>
<line x1="1281.0" y1="1138.2" x2="1281.5" y2="1121.2" stroke="#222" stroke-width="2.2"/>
<line x1="1281.0" y1="1138.2" x2="1281.5" y2="1121.2" stroke="#f0d84a" stroke-width="1.2"/>
<line x1="1284.0" y1="1131.3" x2="1284.5" y2="1127.5" stroke="#222" stroke-width="2.2"/>
<line x1="1284.0" y1="1131.3" x2="1284.5" y2="1127.5" stroke="#e9a04a" stroke-width="1.2"/>
<line x1="1287.0" y1="1124.1" x2="1287.5" y2="1134.1" stroke="#222" stroke-width="2.2"/>
<line x1="1287.0" y1="1124.1" x2="1287.5" y2="1134.1" stroke="#9ad0e8" stroke-width="1.2"/>
<line x1="1290.0" y1="1117.9" x2="1290.5" y2="1139.7" stroke="#222" stroke-width="2.2"/>
<line x1="1290.0" y1="1117.9" x2="1290.5" y2="1139.7" stroke="#4bb3d9" stroke-width="1.2"/>
<line x1="1293.0" y1="1114.1" x2="1293.5" y2="1142.9" stroke="#222" stroke-width="2.2"/>
<line x1="1293.0" y1="1114.1" x2="1293.5" y2="1142.9" stroke="#4bb3d9" stroke-width="1.2"/>
<line x1="1296.0" y1="1113.5" x2="1296.5" y2="1142.9" stroke="#222" stroke-width="2.2"/>
<line x1="1296.0" y1="1113.5" x2="1296.5" y2="1142.9" stroke="#4bb3d9" stroke-width="1.2"/>
<path d="M1232.4,1149.3 L1233.2,1149.2 L1234.0,1148.9 L1234.9,1148.4 L1235.7,1147.6 L1236.5,1146.6 L1237.3,1145.4 L1238.1,1144.0 L1238.9,1142.4 L1239.7,1140.7 L1240.5,1138.9 L1241.3,1137.0 L1242.1,1135.1 L1242.9,1133.1 L1243.7,1131.2 L1244.5,1129.2 L1245.3,1127.3 L1246.1,1125.6 L1246.9,1123.9 L1247.7,1122.4 L1248.5,1121.0 L1249.3,1119.9 L1250.1,1118.9 L1250.9,1118.2 L1251.7,1117.6 L1252.6,1117.4 L1258.6,1117.4 L1257.7,1117.6 L1256.9,1118.2 L1256.1,1118.9 L1255.3,1119.9 L1254.5,1121.0 L1253.7,1122.4 L1252.9,1123.9 L1252.1,1125.6 L1251.3,1127.3 L1250.5,1129.2 L1249.7,1131.2 L1248.9,1133.1 L1248.1,1135.1 L1247.3,1137.0 L1246.5,1138.9 L1245.7,1140.7 L1244.9,1142.4 L1244.1,1144.0 L1243.3,1145.4 L1242.5,1146.6 L1241.7,1147.6 L1240.9,1148.4 L1240.0,1148.9 L1239.2,1149.2 L1238.4,1149.3 Z" fill="#b5ddb0" stroke="#111" stroke-width="0.9" stroke-linejoin="round"/>
<path d="M1271.9,1145.2 L1272.7,1145.3 L1273.5,1145.2 L1274.3,1144.8 L1275.1,1144.2 L1275.9,1143.3 L1276.7,1142.2 L1277.5,1141.0 L1278.3,1139.5 L1279.1,1138.0 L1279.9,1136.2 L1280.7,1134.4 L1281.5,1132.5 L1282.3,1130.5 L1283.1,1128.6 L1283.9,1126.6 L1284.7,1124.7 L1285.5,1122.8 L1286.3,1121.1 L1287.1,1119.4 L1288.0,1118.0 L1288.8,1116.7 L1289.6,1115.6 L1290.4,1114.7 L1291.2,1114.0 L1292.0,1113.5 L1292.8,1113.3 L1298.8,1113.3 L1298.0,1113.5 L1297.2,1114.0 L1296.4,1114.7 L1295.6,1115.6 L1294.8,1116.7 L1294.0,1118.0 L1293.1,1119.4 L1292.3,1121.1 L1291.5,1122.8 L1290.7,1124.7 L1289.9,1126.6 L1289.1,1128.6 L1288.3,1130.5 L1287.5,1132.5 L1286.7,1134.4 L1285.9,1136.2 L1285.1,1138.0 L1284.3,1139.5 L1283.5,1141.0 L1282.7,1142.2 L1281.9,1143.3 L1281.1,1144.2 L1280.3,1144.8 L1279.5,1145.2 L1278.7,1145.3 L1277.9,1145.2 Z" fill="#b5ddb0" stroke="#111" stroke-width="0.9" stroke-linejoin="round"/>
<path d="M1226.0,1127.8 L1226.8,1126.1 L1227.6,1124.6 L1228.4,1123.2 L1229.2,1122.0 L1230.0,1121.0 L1230.8,1120.2 L1231.6,1119.7 L1232.4,1119.4 L1238.4,1119.4 L1237.6,1119.7 L1236.8,1120.2 L1236.0,1121.0 L1235.2,1122.0 L1234.4,1123.2 L1233.6,1124.6 L1232.8,1126.1 L1232.0,1127.8 Z" fill="#b5ddb0" stroke="#111" stroke-width="0.9" stroke-linejoin="round"/>
<path d="M1251.7,1147.2 L1252.6,1147.3 L1253.4,1147.2 L1254.2,1146.9 L1255.0,1146.3 L1255.8,1145.4 L1256.6,1144.4 L1257.4,1143.2 L1258.2,1141.8 L1259.0,1140.2 L1259.8,1138.5 L1260.6,1136.7 L1261.4,1134.8 L1262.2,1132.8 L1263.0,1130.8 L1263.8,1128.9 L1264.6,1126.9 L1265.4,1125.1 L1266.2,1123.3 L1267.0,1121.7 L1267.8,1120.2 L1268.6,1118.8 L1269.4,1117.7 L1270.3,1116.8 L1271.1,1116.1 L1271.9,1115.6 L1272.7,1115.3 L1278.7,1115.3 L1277.9,1115.6 L1277.1,1116.1 L1276.3,1116.8 L1275.4,1117.7 L1274.6,1118.8 L1273.8,1120.2 L1273.0,1121.7 L1272.2,1123.3 L1271.4,1125.1 L1270.6,1126.9 L1269.8,1128.9 L1269.0,1130.8 L1268.2,1132.8 L1267.4,1134.8 L1266.6,1136.7 L1265.8,1138.5 L1265.0,1140.2 L1264.2,1141.8 L1263.4,1143.2 L1262.6,1144.4 L1261.8,1145.4 L1261.0,1146.3 L1260.2,1146.9 L1259.4,1147.2 L1258.6,1147.3 L1257.7,1147.2 Z" fill="#b5ddb0" stroke="#111" stroke-width="0.9" stroke-linejoin="round"/>
<path d="M1292.0,1143.3 L1292.8,1143.3 L1293.6,1143.1 L1294.4,1142.7 L1295.2,1142.0 L1296.0,1141.2 L1302.0,1141.2 L1301.2,1142.0 L1300.4,1142.7 L1299.6,1143.1 L1298.8,1143.3 L1298.0,1143.3 Z" fill="#b5ddb0" stroke="#111" stroke-width="0.9" stroke-linejoin="round"/>
<line x1="1298.3" y1="1122.4" x2="1306.3" y2="1118.2" stroke="#222" stroke-width="2.6"/><line x1="1298.3" y1="1122.4" x2="1306.3" y2="1118.2" stroke="#3d6fb0" stroke-width="1.4"/>
<line x1="1303.0" y1="1131.3" x2="1311.0" y2="1127.0" stroke="#222" stroke-width="2.6"/><line x1="1303.0" y1="1131.3" x2="1311.0" y2="1127.0" stroke="#9ad0e8" stroke-width="1.4"/>
<line x1="1309.2" y1="1138.9" x2="1315.3" y2="1132.3" stroke="#222" stroke-width="2.6"/><line x1="1309.2" y1="1138.9" x2="1315.3" y2="1132.3" stroke="#4bb3d9" stroke-width="1.4"/>
<line x1="1316.6" y1="1145.7" x2="1322.7" y2="1139.1" stroke="#222" stroke-width="2.6"/><line x1="1316.6" y1="1145.7" x2="1322.7" y2="1139.1" stroke="#f5f0e0" stroke-width="1.4"/>
<line x1="1326.0" y1="1145.8" x2="1324.7" y2="1136.9" stroke="#222" stroke-width="2.6"/><line x1="1326.0" y1="1145.8" x2="1324.7" y2="1136.9" stroke="#f0d84a" stroke-width="1.4"/>
<line x1="1335.9" y1="1144.4" x2="1334.6" y2="1135.4" stroke="#222" stroke-width="2.6"/><line x1="1335.9" y1="1144.4" x2="1334.6" y2="1135.4" stroke="#4bb3d9" stroke-width="1.4"/>
<line x1="1345.8" y1="1142.8" x2="1343.6" y2="1134.1" stroke="#222" stroke-width="2.6"/><line x1="1345.8" y1="1142.8" x2="1343.6" y2="1134.1" stroke="#d9436a" stroke-width="1.4"/>
<line x1="1355.5" y1="1140.5" x2="1353.4" y2="1131.7" stroke="#222" stroke-width="2.6"/><line x1="1355.5" y1="1140.5" x2="1353.4" y2="1131.7" stroke="#e9a04a" stroke-width="1.4"/>
<line x1="1365.2" y1="1138.1" x2="1363.1" y2="1129.4" stroke="#222" stroke-width="2.6"/><line x1="1365.2" y1="1138.1" x2="1363.1" y2="1129.4" stroke="#9ad0e8" stroke-width="1.4"/>
<line x1="1374.9" y1="1136.1" x2="1376.3" y2="1127.2" stroke="#222" stroke-width="2.6"/><line x1="1374.9" y1="1136.1" x2="1376.3" y2="1127.2" stroke="#f5f0e0" stroke-width="1.4"/>
<line x1="1384.8" y1="1137.7" x2="1386.2" y2="1128.8" stroke="#222" stroke-width="2.6"/><line x1="1384.8" y1="1137.7" x2="1386.2" y2="1128.8" stroke="#f0d84a" stroke-width="1.4"/>
<line x1="1394.7" y1="1139.2" x2="1396.1" y2="1130.3" stroke="#222" stroke-width="2.6"/><line x1="1394.7" y1="1139.2" x2="1396.1" y2="1130.3" stroke="#c85a8a" stroke-width="1.4"/>
<line x1="1404.3" y1="1141.7" x2="1407.6" y2="1133.3" stroke="#222" stroke-width="2.6"/><line x1="1404.3" y1="1141.7" x2="1407.6" y2="1133.3" stroke="#e9a04a" stroke-width="1.4"/>
<line x1="1413.7" y1="1145.3" x2="1416.9" y2="1136.9" stroke="#222" stroke-width="2.6"/><line x1="1413.7" y1="1145.3" x2="1416.9" y2="1136.9" stroke="#f0d84a" stroke-width="1.4"/>
<line x1="1423.0" y1="1148.9" x2="1426.2" y2="1140.5" stroke="#222" stroke-width="2.6"/><line x1="1423.0" y1="1148.9" x2="1426.2" y2="1140.5" stroke="#4bb3d9" stroke-width="1.4"/>
<line x1="1432.4" y1="1151.9" x2="1431.5" y2="1142.9" stroke="#222" stroke-width="2.6"/><line x1="1432.4" y1="1151.9" x2="1431.5" y2="1142.9" stroke="#f0d84a" stroke-width="1.4"/>
<line x1="1442.3" y1="1150.9" x2="1441.5" y2="1142.0" stroke="#222" stroke-width="2.6"/><line x1="1442.3" y1="1150.9" x2="1441.5" y2="1142.0" stroke="#c85a8a" stroke-width="1.4"/>
<line x1="1452.3" y1="1149.8" x2="1447.5" y2="1142.2" stroke="#222" stroke-width="2.6"/><line x1="1452.3" y1="1149.8" x2="1447.5" y2="1142.2" stroke="#3d6fb0" stroke-width="1.4"/>
<line x1="1460.7" y1="1144.5" x2="1456.0" y2="1136.9" stroke="#222" stroke-width="2.6"/><line x1="1460.7" y1="1144.5" x2="1456.0" y2="1136.9" stroke="#d9436a" stroke-width="1.4"/>
<line x1="1468.3" y1="1138.6" x2="1459.5" y2="1136.8" stroke="#222" stroke-width="2.6"/><line x1="1468.3" y1="1138.6" x2="1459.5" y2="1136.8" stroke="#c85a8a" stroke-width="1.4"/>
<line x1="1470.2" y1="1128.8" x2="1461.4" y2="1127.0" stroke="#222" stroke-width="2.6"/><line x1="1470.2" y1="1128.8" x2="1461.4" y2="1127.0" stroke="#d9436a" stroke-width="1.4"/>
<path d="M1296.0,1118.0 C1297.8,1121.4 1300.6,1129.2 1305.0,1135.0 C1309.4,1140.8 1310.0,1145.4 1318.0,1147.0 C1326.0,1148.6 1333.8,1145.2 1345.0,1143.0 C1356.2,1140.8 1363.0,1136.6 1374.0,1136.0 C1385.0,1135.4 1388.6,1136.8 1400.0,1140.0 C1411.4,1143.2 1420.6,1150.0 1431.0,1152.0 C1441.4,1154.0 1444.6,1152.4 1452.0,1150.0 C1459.4,1147.6 1464.0,1146.0 1468.0,1140.0 C1472.0,1134.0 1471.2,1124.0 1472.0,1120.0" fill="none" stroke="#13301a" stroke-width="4.800000000000001" stroke-linecap="round"/><path d="M1296.0,1118.0 C1297.8,1121.4 1300.6,1129.2 1305.0,1135.0 C1309.4,1140.8 1310.0,1145.4 1318.0,1147.0 C1326.0,1148.6 1333.8,1145.2 1345.0,1143.0 C1356.2,1140.8 1363.0,1136.6 1374.0,1136.0 C1385.0,1135.4 1388.6,1136.8 1400.0,1140.0 C1411.4,1143.2 1420.6,1150.0 1431.0,1152.0 C1441.4,1154.0 1444.6,1152.4 1452.0,1150.0 C1459.4,1147.6 1464.0,1146.0 1468.0,1140.0 C1472.0,1134.0 1471.2,1124.0 1472.0,1120.0" fill="none" stroke="#b5ddb0" stroke-width="3.2" stroke-linecap="round"/>
<line x1="1327.7" y1="1119.5" x2="1320.0" y2="1107.9" stroke="#222" stroke-width="2.6"/><line x1="1327.7" y1="1119.5" x2="1320.0" y2="1107.9" stroke="#9ad0e8" stroke-width="1.4"/>
<line x1="1335.2" y1="1114.5" x2="1327.5" y2="1102.9" stroke="#222" stroke-width="2.6"/><line x1="1335.2" y1="1114.5" x2="1327.5" y2="1102.9" stroke="#d9436a" stroke-width="1.4"/>
<line x1="1342.7" y1="1109.5" x2="1335.0" y2="1097.9" stroke="#222" stroke-width="2.6"/><line x1="1342.7" y1="1109.5" x2="1335.0" y2="1097.9" stroke="#c85a8a" stroke-width="1.4"/>
<line x1="1351.0" y1="1106.2" x2="1347.0" y2="1092.8" stroke="#222" stroke-width="2.6"/><line x1="1351.0" y1="1106.2" x2="1347.0" y2="1092.8" stroke="#4bb3d9" stroke-width="1.4"/>
<line x1="1359.6" y1="1103.7" x2="1355.6" y2="1090.2" stroke="#222" stroke-width="2.6"/><line x1="1359.6" y1="1103.7" x2="1355.6" y2="1090.2" stroke="#e9a04a" stroke-width="1.4"/>
<line x1="1368.3" y1="1101.1" x2="1364.3" y2="1087.7" stroke="#222" stroke-width="2.6"/><line x1="1368.3" y1="1101.1" x2="1364.3" y2="1087.7" stroke="#e9a04a" stroke-width="1.4"/>
<line x1="1376.9" y1="1098.5" x2="1372.9" y2="1085.1" stroke="#222" stroke-width="2.6"/><line x1="1376.9" y1="1098.5" x2="1372.9" y2="1085.1" stroke="#9ad0e8" stroke-width="1.4"/>
<line x1="1385.6" y1="1097.3" x2="1386.8" y2="1083.3" stroke="#222" stroke-width="2.6"/><line x1="1385.6" y1="1097.3" x2="1386.8" y2="1083.3" stroke="#4bb3d9" stroke-width="1.4"/>
<line x1="1394.6" y1="1098.0" x2="1395.7" y2="1084.0" stroke="#222" stroke-width="2.6"/><line x1="1394.6" y1="1098.0" x2="1395.7" y2="1084.0" stroke="#f0d84a" stroke-width="1.4"/>
<line x1="1403.6" y1="1098.7" x2="1404.7" y2="1084.7" stroke="#222" stroke-width="2.6"/><line x1="1403.6" y1="1098.7" x2="1404.7" y2="1084.7" stroke="#4bb3d9" stroke-width="1.4"/>
<line x1="1412.6" y1="1099.4" x2="1413.7" y2="1085.5" stroke="#222" stroke-width="2.6"/><line x1="1412.6" y1="1099.4" x2="1413.7" y2="1085.5" stroke="#e9a04a" stroke-width="1.4"/>
<line x1="1421.5" y1="1100.5" x2="1425.7" y2="1087.1" stroke="#222" stroke-width="2.6"/><line x1="1421.5" y1="1100.5" x2="1425.7" y2="1087.1" stroke="#c85a8a" stroke-width="1.4"/>
<line x1="1430.1" y1="1103.2" x2="1434.3" y2="1089.8" stroke="#222" stroke-width="2.6"/><line x1="1430.1" y1="1103.2" x2="1434.3" y2="1089.8" stroke="#c85a8a" stroke-width="1.4"/>
<line x1="1438.6" y1="1105.9" x2="1442.8" y2="1092.5" stroke="#222" stroke-width="2.6"/><line x1="1438.6" y1="1105.9" x2="1442.8" y2="1092.5" stroke="#e9a04a" stroke-width="1.4"/>
<line x1="1447.2" y1="1108.6" x2="1451.4" y2="1095.2" stroke="#222" stroke-width="2.6"/><line x1="1447.2" y1="1108.6" x2="1451.4" y2="1095.2" stroke="#f0d84a" stroke-width="1.4"/>
<line x1="1455.8" y1="1110.8" x2="1451.7" y2="1097.4" stroke="#222" stroke-width="2.6"/><line x1="1455.8" y1="1110.8" x2="1451.7" y2="1097.4" stroke="#e9a04a" stroke-width="1.4"/>
<line x1="1464.4" y1="1108.1" x2="1460.4" y2="1094.7" stroke="#222" stroke-width="2.6"/><line x1="1464.4" y1="1108.1" x2="1460.4" y2="1094.7" stroke="#c85a8a" stroke-width="1.4"/>
<line x1="1473.0" y1="1105.5" x2="1469.0" y2="1092.1" stroke="#222" stroke-width="2.6"/><line x1="1473.0" y1="1105.5" x2="1469.0" y2="1092.1" stroke="#4bb3d9" stroke-width="1.4"/>
<line x1="1480.3" y1="1100.9" x2="1469.1" y2="1092.5" stroke="#222" stroke-width="2.6"/><line x1="1480.3" y1="1100.9" x2="1469.1" y2="1092.5" stroke="#e9a04a" stroke-width="1.4"/>
<line x1="1485.7" y1="1093.7" x2="1474.5" y2="1085.3" stroke="#222" stroke-width="2.6"/><line x1="1485.7" y1="1093.7" x2="1474.5" y2="1085.3" stroke="#f0d84a" stroke-width="1.4"/>
<line x1="1488.7" y1="1086.8" x2="1479.3" y2="1097.2" stroke="#222" stroke-width="2.6"/><line x1="1488.7" y1="1086.8" x2="1479.3" y2="1097.2" stroke="#4bb3d9" stroke-width="1.4"/>
<line x1="1482.0" y1="1080.8" x2="1472.6" y2="1091.2" stroke="#222" stroke-width="2.6"/><line x1="1482.0" y1="1080.8" x2="1472.6" y2="1091.2" stroke="#c85a8a" stroke-width="1.4"/>
<line x1="1475.3" y1="1074.7" x2="1465.9" y2="1085.2" stroke="#222" stroke-width="2.6"/><line x1="1475.3" y1="1074.7" x2="1465.9" y2="1085.2" stroke="#4bb3d9" stroke-width="1.4"/>
<line x1="1468.2" y1="1069.3" x2="1463.0" y2="1082.3" stroke="#222" stroke-width="2.6"/><line x1="1468.2" y1="1069.3" x2="1463.0" y2="1082.3" stroke="#f0d84a" stroke-width="1.4"/>
<line x1="1459.9" y1="1065.9" x2="1454.7" y2="1078.9" stroke="#222" stroke-width="2.6"/><line x1="1459.9" y1="1065.9" x2="1454.7" y2="1078.9" stroke="#4bb3d9" stroke-width="1.4"/>
<line x1="1458.5" y1="1062.6" x2="1453.3" y2="1049.6" stroke="#222" stroke-width="2.6"/><line x1="1458.5" y1="1062.6" x2="1453.3" y2="1049.6" stroke="#d9436a" stroke-width="1.4"/>
<line x1="1466.8" y1="1059.3" x2="1461.6" y2="1046.3" stroke="#222" stroke-width="2.6"/><line x1="1466.8" y1="1059.3" x2="1461.6" y2="1046.3" stroke="#3d6fb0" stroke-width="1.4"/>
<line x1="1475.2" y1="1056.0" x2="1472.0" y2="1042.3" stroke="#222" stroke-width="2.6"/><line x1="1475.2" y1="1056.0" x2="1472.0" y2="1042.3" stroke="#c85a8a" stroke-width="1.4"/>
<line x1="1484.0" y1="1053.9" x2="1480.8" y2="1040.3" stroke="#222" stroke-width="2.6"/><line x1="1484.0" y1="1053.9" x2="1480.8" y2="1040.3" stroke="#d9436a" stroke-width="1.4"/>
<path d="M1324.0,1122.0 C1328.2,1119.2 1333.4,1113.0 1345.0,1108.0 C1356.6,1103.0 1367.0,1098.6 1382.0,1097.0 C1397.0,1095.4 1405.4,1097.2 1420.0,1100.0 C1434.6,1102.8 1443.4,1110.2 1455.0,1111.0 C1466.6,1111.8 1471.0,1108.6 1478.0,1104.0 C1485.0,1099.4 1491.6,1094.8 1490.0,1088.0 C1488.4,1081.2 1477.0,1074.8 1470.0,1070.0 C1463.0,1065.2 1454.0,1066.8 1455.0,1064.0 C1456.0,1061.2 1467.6,1058.4 1475.0,1056.0 C1482.4,1053.6 1488.6,1052.8 1492.0,1052.0" fill="none" stroke="#7a0000" stroke-width="4.2" stroke-linecap="round"/><path d="M1324.0,1122.0 C1328.2,1119.2 1333.4,1113.0 1345.0,1108.0 C1356.6,1103.0 1367.0,1098.6 1382.0,1097.0 C1397.0,1095.4 1405.4,1097.2 1420.0,1100.0 C1434.6,1102.8 1443.4,1110.2 1455.0,1111.0 C1466.6,1111.8 1471.0,1108.6 1478.0,1104.0 C1485.0,1099.4 1491.6,1094.8 1490.0,1088.0 C1488.4,1081.2 1477.0,1074.8 1470.0,1070.0 C1463.0,1065.2 1454.0,1066.8 1455.0,1064.0 C1456.0,1061.2 1467.6,1058.4 1475.0,1056.0 C1482.4,1053.6 1488.6,1052.8 1492.0,1052.0" fill="none" stroke="#ff2a2a" stroke-width="2.6" stroke-linecap="round"/>
<path d="M1290.0,1120.0 C1293.0,1116.8 1296.0,1111.2 1305.0,1104.0 C1314.0,1096.8 1321.2,1089.0 1335.0,1084.0 C1348.8,1079.0 1357.0,1079.4 1374.0,1079.0 C1391.0,1078.6 1404.8,1079.0 1420.0,1082.0 C1435.2,1085.0 1441.0,1088.0 1450.0,1094.0 C1459.0,1100.0 1461.2,1103.8 1465.0,1112.0 C1468.8,1120.2 1468.2,1130.4 1469.0,1135.0" fill="none" stroke="#13301a" stroke-width="5" stroke-linecap="round"/><path d="M1290.0,1120.0 C1293.0,1116.8 1296.0,1111.2 1305.0,1104.0 C1314.0,1096.8 1321.2,1089.0 1335.0,1084.0 C1348.8,1079.0 1357.0,1079.4 1374.0,1079.0 C1391.0,1078.6 1404.8,1079.0 1420.0,1082.0 C1435.2,1085.0 1441.0,1088.0 1450.0,1094.0 C1459.0,1100.0 1461.2,1103.8 1465.0,1112.0 C1468.8,1120.2 1468.2,1130.4 1469.0,1135.0" fill="none" stroke="#b5ddb0" stroke-width="3.4" stroke-linecap="round"/>
<path d="M1466.0,1152.6 L1466.8,1153.5 L1467.6,1154.3 L1468.4,1154.8 L1469.2,1155.1 L1475.2,1155.1 L1474.4,1154.8 L1473.6,1154.3 L1472.8,1153.5 L1472.0,1152.6 Z" fill="#3f8c4a" stroke="#111" stroke-width="0.9" stroke-linejoin="round"/>
<path d="M1490.0,1126.3 L1490.8,1126.2 L1491.6,1126.4 L1492.4,1126.7 L1493.2,1127.3 L1494.0,1128.1 L1494.8,1129.0 L1495.6,1130.2 L1496.4,1131.5 L1497.2,1132.9 L1498.0,1134.5 L1498.8,1136.1 L1499.6,1137.9 L1500.4,1139.7 L1501.2,1141.5 L1502.0,1143.3 L1502.8,1145.1 L1503.6,1146.9 L1504.4,1148.6 L1505.2,1150.2 L1506.0,1151.7 L1506.8,1153.0 L1507.6,1154.2 L1508.4,1155.2 L1509.2,1156.0 L1510.0,1156.7 L1510.8,1157.1 L1511.6,1157.3 L1517.6,1157.3 L1516.8,1157.1 L1516.0,1156.7 L1515.2,1156.0 L1514.4,1155.2 L1513.6,1154.2 L1512.8,1153.0 L1512.0,1151.7 L1511.2,1150.2 L1510.4,1148.6 L1509.6,1146.9 L1508.8,1145.1 L1508.0,1143.3 L1507.2,1141.5 L1506.4,1139.7 L1505.6,1137.9 L1504.8,1136.1 L1504.0,1134.5 L1503.2,1132.9 L1502.4,1131.5 L1501.6,1130.2 L1500.8,1129.0 L1500.0,1128.1 L1499.2,1127.3 L1498.4,1126.7 L1497.6,1126.4 L1496.8,1126.2 L1496.0,1126.3 Z" fill="#3f8c4a" stroke="#111" stroke-width="0.9" stroke-linejoin="round"/>
<path d="M1532.4,1128.3 L1533.2,1128.4 L1534.0,1128.6 L1534.8,1129.1 L1535.6,1129.8 L1536.4,1130.6 L1537.2,1131.7 L1538.0,1132.9 L1538.8,1134.3 L1539.6,1135.8 L1540.4,1137.4 L1541.2,1139.1 L1542.0,1140.9 L1548.0,1140.9 L1547.2,1139.1 L1546.4,1137.4 L1545.6,1135.8 L1544.8,1134.3 L1544.0,1132.9 L1543.2,1131.7 L1542.4,1130.6 L1541.6,1129.8 L1540.8,1129.1 L1540.0,1128.6 L1539.2,1128.4 L1538.4,1128.3 Z" fill="#3f8c4a" stroke="#111" stroke-width="0.9" stroke-linejoin="round"/>
<path d="M1469.2,1125.2 L1470.0,1125.2 L1470.8,1125.4 L1471.6,1125.8 L1472.4,1126.4 L1473.2,1127.2 L1474.0,1128.2 L1474.8,1129.4 L1475.6,1130.8 L1476.4,1132.2 L1477.2,1133.8 L1478.0,1135.5 L1478.8,1137.3 L1479.6,1139.1 L1480.4,1140.9 L1481.2,1142.7 L1482.0,1144.5 L1482.8,1146.3 L1483.6,1148.0 L1484.4,1149.5 L1485.2,1151.0 L1486.0,1152.3 L1486.8,1153.4 L1487.6,1154.4 L1488.4,1155.2 L1489.2,1155.7 L1490.0,1156.1 L1490.8,1156.2 L1496.8,1156.2 L1496.0,1156.1 L1495.2,1155.7 L1494.4,1155.2 L1493.6,1154.4 L1492.8,1153.4 L1492.0,1152.3 L1491.2,1151.0 L1490.4,1149.5 L1489.6,1148.0 L1488.8,1146.3 L1488.0,1144.5 L1487.2,1142.7 L1486.4,1140.9 L1485.6,1139.1 L1484.8,1137.3 L1484.0,1135.5 L1483.2,1133.8 L1482.4,1132.2 L1481.6,1130.8 L1480.8,1129.4 L1480.0,1128.2 L1479.2,1127.2 L1478.4,1126.4 L1477.6,1125.8 L1476.8,1125.4 L1476.0,1125.2 L1475.2,1125.2 Z" fill="#3f8c4a" stroke="#111" stroke-width="0.9" stroke-linejoin="round"/>
<path d="M1511.6,1127.3 L1512.4,1127.4 L1513.2,1127.7 L1514.0,1128.2 L1514.8,1128.9 L1515.6,1129.8 L1516.4,1130.9 L1517.2,1132.2 L1518.0,1133.6 L1518.8,1135.1 L1519.6,1136.8 L1520.4,1138.5 L1521.2,1140.3 L1522.0,1142.1 L1522.8,1143.9 L1523.6,1145.7 L1524.4,1147.5 L1525.2,1149.2 L1526.0,1150.9 L1526.8,1152.4 L1527.6,1153.7 L1528.4,1155.0 L1529.2,1156.0 L1530.0,1156.9 L1530.8,1157.6 L1531.6,1158.0 L1532.4,1158.3 L1538.4,1158.3 L1537.6,1158.0 L1536.8,1157.6 L1536.0,1156.9 L1535.2,1156.0 L1534.4,1155.0 L1533.6,1153.7 L1532.8,1152.4 L1532.0,1150.9 L1531.2,1149.2 L1530.4,1147.5 L1529.6,1145.7 L1528.8,1143.9 L1528.0,1142.1 L1527.2,1140.3 L1526.4,1138.5 L1525.6,1136.8 L1524.8,1135.1 L1524.0,1133.6 L1523.2,1132.2 L1522.4,1130.9 L1521.6,1129.8 L1520.8,1128.9 L1520.0,1128.2 L1519.2,1127.7 L1518.4,1127.4 L1517.6,1127.3 Z" fill="#3f8c4a" stroke="#111" stroke-width="0.9" stroke-linejoin="round"/>
<line x1="1470.0" y1="1154.6" x2="1470.5" y2="1125.6" stroke="#222" stroke-width="2.2"/>
<line x1="1470.0" y1="1154.6" x2="1470.5" y2="1125.6" stroke="#4bb3d9" stroke-width="1.2"/>
<line x1="1473.0" y1="1155.0" x2="1473.5" y2="1125.5" stroke="#222" stroke-width="2.2"/>
<line x1="1473.0" y1="1155.0" x2="1473.5" y2="1125.5" stroke="#e9a04a" stroke-width="1.2"/>
<line x1="1476.0" y1="1152.6" x2="1476.5" y2="1128.2" stroke="#222" stroke-width="2.2"/>
<line x1="1476.0" y1="1152.6" x2="1476.5" y2="1128.2" stroke="#e9a04a" stroke-width="1.2"/>
<line x1="1479.0" y1="1147.7" x2="1479.5" y2="1133.4" stroke="#222" stroke-width="2.2"/>
<line x1="1479.0" y1="1147.7" x2="1479.5" y2="1133.4" stroke="#9ad0e8" stroke-width="1.2"/>
<line x1="1482.0" y1="1141.4" x2="1482.5" y2="1140.0" stroke="#222" stroke-width="2.2"/>
<line x1="1482.0" y1="1141.4" x2="1482.5" y2="1140.0" stroke="#d9436a" stroke-width="1.2"/>
<line x1="1485.0" y1="1135.0" x2="1485.5" y2="1146.7" stroke="#222" stroke-width="2.2"/>
<line x1="1485.0" y1="1135.0" x2="1485.5" y2="1146.7" stroke="#3d6fb0" stroke-width="1.2"/>
<line x1="1488.0" y1="1129.7" x2="1488.5" y2="1152.3" stroke="#222" stroke-width="2.2"/>
<line x1="1488.0" y1="1129.7" x2="1488.5" y2="1152.3" stroke="#3d6fb0" stroke-width="1.2"/>
<line x1="1491.0" y1="1126.7" x2="1491.5" y2="1155.6" stroke="#222" stroke-width="2.2"/>
<line x1="1491.0" y1="1126.7" x2="1491.5" y2="1155.6" stroke="#f0d84a" stroke-width="1.2"/>
<line x1="1494.0" y1="1126.5" x2="1494.5" y2="1156.1" stroke="#222" stroke-width="2.2"/>
<line x1="1494.0" y1="1126.5" x2="1494.5" y2="1156.1" stroke="#4bb3d9" stroke-width="1.2"/>
<line x1="1497.0" y1="1129.3" x2="1497.5" y2="1153.6" stroke="#222" stroke-width="2.2"/>
<line x1="1497.0" y1="1129.3" x2="1497.5" y2="1153.6" stroke="#d9436a" stroke-width="1.2"/>
<line x1="1500.0" y1="1134.5" x2="1500.5" y2="1148.7" stroke="#222" stroke-width="2.2"/>
<line x1="1500.0" y1="1134.5" x2="1500.5" y2="1148.7" stroke="#c85a8a" stroke-width="1.2"/>
<line x1="1503.0" y1="1141.0" x2="1503.5" y2="1142.5" stroke="#222" stroke-width="2.2"/>
<line x1="1503.0" y1="1141.0" x2="1503.5" y2="1142.5" stroke="#c85a8a" stroke-width="1.2"/>
<line x1="1506.0" y1="1147.8" x2="1506.5" y2="1136.0" stroke="#222" stroke-width="2.2"/>
<line x1="1506.0" y1="1147.8" x2="1506.5" y2="1136.0" stroke="#9ad0e8" stroke-width="1.2"/>
<line x1="1509.0" y1="1153.3" x2="1509.5" y2="1130.8" stroke="#222" stroke-width="2.2"/>
<line x1="1509.0" y1="1153.3" x2="1509.5" y2="1130.8" stroke="#f5f0e0" stroke-width="1.2"/>
<line x1="1512.0" y1="1156.7" x2="1512.5" y2="1127.7" stroke="#222" stroke-width="2.2"/>
<line x1="1512.0" y1="1156.7" x2="1512.5" y2="1127.7" stroke="#3d6fb0" stroke-width="1.2"/>
<line x1="1515.0" y1="1157.1" x2="1515.5" y2="1127.6" stroke="#222" stroke-width="2.2"/>
<line x1="1515.0" y1="1157.1" x2="1515.5" y2="1127.6" stroke="#4bb3d9" stroke-width="1.2"/>
<line x1="1518.0" y1="1154.7" x2="1518.5" y2="1130.3" stroke="#222" stroke-width="2.2"/>
<line x1="1518.0" y1="1154.7" x2="1518.5" y2="1130.3" stroke="#4bb3d9" stroke-width="1.2"/>
<line x1="1521.0" y1="1149.8" x2="1521.5" y2="1135.5" stroke="#222" stroke-width="2.2"/>
<line x1="1521.0" y1="1149.8" x2="1521.5" y2="1135.5" stroke="#9ad0e8" stroke-width="1.2"/>
<line x1="1524.0" y1="1143.5" x2="1524.5" y2="1142.1" stroke="#222" stroke-width="2.2"/>
<line x1="1524.0" y1="1143.5" x2="1524.5" y2="1142.1" stroke="#f5f0e0" stroke-width="1.2"/>
<line x1="1527.0" y1="1137.1" x2="1527.5" y2="1148.8" stroke="#222" stroke-width="2.2"/>
<line x1="1527.0" y1="1137.1" x2="1527.5" y2="1148.8" stroke="#9ad0e8" stroke-width="1.2"/>
<line x1="1530.0" y1="1131.8" x2="1530.5" y2="1154.4" stroke="#222" stroke-width="2.2"/>
<line x1="1530.0" y1="1131.8" x2="1530.5" y2="1154.4" stroke="#c85a8a" stroke-width="1.2"/>
<line x1="1533.0" y1="1128.8" x2="1533.5" y2="1157.7" stroke="#222" stroke-width="2.2"/>
<line x1="1533.0" y1="1128.8" x2="1533.5" y2="1157.7" stroke="#c85a8a" stroke-width="1.2"/>
<line x1="1536.0" y1="1128.6" x2="1536.5" y2="1158.2" stroke="#222" stroke-width="2.2"/>
<line x1="1536.0" y1="1128.6" x2="1536.5" y2="1158.2" stroke="#d9436a" stroke-width="1.2"/>
<line x1="1539.0" y1="1131.4" x2="1539.5" y2="1155.7" stroke="#222" stroke-width="2.2"/>
<line x1="1539.0" y1="1131.4" x2="1539.5" y2="1155.7" stroke="#d9436a" stroke-width="1.2"/>
<line x1="1542.0" y1="1136.6" x2="1542.5" y2="1150.8" stroke="#222" stroke-width="2.2"/>
<line x1="1542.0" y1="1136.6" x2="1542.5" y2="1150.8" stroke="#f0d84a" stroke-width="1.2"/>
<path d="M1469.2,1155.1 L1470.0,1155.2 L1470.8,1155.1 L1471.6,1154.7 L1472.4,1154.2 L1473.2,1153.5 L1474.0,1152.6 L1474.8,1151.5 L1475.6,1150.2 L1476.4,1148.8 L1477.2,1147.3 L1478.0,1145.7 L1478.8,1144.0 L1479.6,1142.3 L1480.4,1140.5 L1481.2,1138.8 L1482.0,1137.1 L1482.8,1135.4 L1483.6,1133.8 L1484.4,1132.3 L1485.2,1130.9 L1486.0,1129.7 L1486.8,1128.7 L1487.6,1127.8 L1488.4,1127.1 L1489.2,1126.6 L1490.0,1126.3 L1496.0,1126.3 L1495.2,1126.6 L1494.4,1127.1 L1493.6,1127.8 L1492.8,1128.7 L1492.0,1129.7 L1491.2,1130.9 L1490.4,1132.3 L1489.6,1133.8 L1488.8,1135.4 L1488.0,1137.1 L1487.2,1138.8 L1486.4,1140.5 L1485.6,1142.3 L1484.8,1144.0 L1484.0,1145.7 L1483.2,1147.3 L1482.4,1148.8 L1481.6,1150.2 L1480.8,1151.5 L1480.0,1152.6 L1479.2,1153.5 L1478.4,1154.2 L1477.6,1154.7 L1476.8,1155.1 L1476.0,1155.2 L1475.2,1155.1 Z" fill="#b5ddb0" stroke="#111" stroke-width="0.9" stroke-linejoin="round"/>
<path d="M1511.6,1157.3 L1512.4,1157.3 L1513.2,1157.0 L1514.0,1156.6 L1514.8,1156.0 L1515.6,1155.1 L1516.4,1154.1 L1517.2,1153.0 L1518.0,1151.6 L1518.8,1150.2 L1519.6,1148.6 L1520.4,1147.0 L1521.2,1145.3 L1522.0,1143.5 L1522.8,1141.8 L1523.6,1140.0 L1524.4,1138.3 L1525.2,1136.7 L1526.0,1135.1 L1526.8,1133.7 L1527.6,1132.4 L1528.4,1131.3 L1529.2,1130.3 L1530.0,1129.5 L1530.8,1128.9 L1531.6,1128.5 L1532.4,1128.3 L1538.4,1128.3 L1537.6,1128.5 L1536.8,1128.9 L1536.0,1129.5 L1535.2,1130.3 L1534.4,1131.3 L1533.6,1132.4 L1532.8,1133.7 L1532.0,1135.1 L1531.2,1136.7 L1530.4,1138.3 L1529.6,1140.0 L1528.8,1141.8 L1528.0,1143.5 L1527.2,1145.3 L1526.4,1147.0 L1525.6,1148.6 L1524.8,1150.2 L1524.0,1151.6 L1523.2,1153.0 L1522.4,1154.1 L1521.6,1155.1 L1520.8,1156.0 L1520.0,1156.6 L1519.2,1157.0 L1518.4,1157.3 L1517.6,1157.3 Z" fill="#b5ddb0" stroke="#111" stroke-width="0.9" stroke-linejoin="round"/>
<path d="M1466.0,1127.4 L1466.8,1126.5 L1467.6,1125.9 L1468.4,1125.5 L1469.2,1125.2 L1475.2,1125.2 L1474.4,1125.5 L1473.6,1125.9 L1472.8,1126.5 L1472.0,1127.4 Z" fill="#b5ddb0" stroke="#111" stroke-width="0.9" stroke-linejoin="round"/>
<path d="M1490.8,1156.2 L1491.6,1156.2 L1492.4,1155.9 L1493.2,1155.4 L1494.0,1154.7 L1494.8,1153.9 L1495.6,1152.8 L1496.4,1151.6 L1497.2,1150.2 L1498.0,1148.7 L1498.8,1147.2 L1499.6,1145.5 L1500.4,1143.8 L1501.2,1142.0 L1502.0,1140.3 L1502.8,1138.5 L1503.6,1136.9 L1504.4,1135.2 L1505.2,1133.7 L1506.0,1132.3 L1506.8,1131.1 L1507.6,1130.0 L1508.4,1129.0 L1509.2,1128.3 L1510.0,1127.7 L1510.8,1127.4 L1511.6,1127.3 L1517.6,1127.3 L1516.8,1127.4 L1516.0,1127.7 L1515.2,1128.3 L1514.4,1129.0 L1513.6,1130.0 L1512.8,1131.1 L1512.0,1132.3 L1511.2,1133.7 L1510.4,1135.2 L1509.6,1136.9 L1508.8,1138.5 L1508.0,1140.3 L1507.2,1142.0 L1506.4,1143.8 L1505.6,1145.5 L1504.8,1147.2 L1504.0,1148.7 L1503.2,1150.2 L1502.4,1151.6 L1501.6,1152.8 L1500.8,1153.9 L1500.0,1154.7 L1499.2,1155.4 L1498.4,1155.9 L1497.6,1156.2 L1496.8,1156.2 Z" fill="#b5ddb0" stroke="#111" stroke-width="0.9" stroke-linejoin="round"/>
<path d="M1532.4,1158.3 L1533.2,1158.3 L1534.0,1158.2 L1534.8,1157.8 L1535.6,1157.2 L1536.4,1156.4 L1537.2,1155.4 L1538.0,1154.3 L1538.8,1153.0 L1539.6,1151.6 L1540.4,1150.1 L1541.2,1148.4 L1542.0,1146.7 L1548.0,1146.7 L1547.2,1148.4 L1546.4,1150.1 L1545.6,1151.6 L1544.8,1153.0 L1544.0,1154.3 L1543.2,1155.4 L1542.4,1156.4 L1541.6,1157.2 L1540.8,1157.8 L1540.0,1158.2 L1539.2,1158.3 L1538.4,1158.3 Z" fill="#b5ddb0" stroke="#111" stroke-width="0.9" stroke-linejoin="round"/>
<text x="1358.70" y="1015.40" font-size="29.65" font-weight="bold" fill="#7030a0" textLength="62.59" lengthAdjust="spacingAndGlyphs" >Cas9</text>
<text x="1474.20" y="1033.40" font-size="22.67" font-weight="normal" fill="#ff0000" textLength="76.89" lengthAdjust="spacingAndGlyphs" >sgRNA</text>
<text x="1283.00" y="1257.10" font-size="24.71" font-weight="bold" fill="#000" textLength="282.60" lengthAdjust="spacingAndGlyphs" >Gen diana EWSR1- FLI1</text>
<path d="M1643.0,1104.3 L1677.7,1104.3 L1677.7,1091.1 L1704.2,1117.6 L1677.7,1144.0 L1677.7,1130.8 L1643.0,1130.8 L1662.0,1117.6 Z" fill="url(#arrowgrad)" stroke="#000" stroke-width="1.6" stroke-linejoin="miter" filter="url(#arrowshadow)"/>
<path d="M2044.8,1104.3 L2080.4,1104.3 L2080.4,1091.1 L2106.9,1117.6 L2080.4,1144.0 L2080.4,1130.8 L2044.8,1130.8 L2064.0,1117.6 Z" fill="url(#arrowgrad)" stroke="#000" stroke-width="1.6" stroke-linejoin="miter" filter="url(#arrowshadow)"/>
<path d="M2432.0,1104.3 L2510.2,1104.3 L2510.2,1091.1 L2536.7,1117.6 L2510.2,1144.0 L2510.2,1130.8 L2432.0,1130.8 L2445.3,1117.6 Z" fill="url(#arrowgrad)" stroke="#000" stroke-width="1.6" stroke-linejoin="miter" filter="url(#arrowshadow)"/>
<text x="1820.90" y="963.70" font-size="22.82" font-weight="bold" fill="#000" textLength="149.09" lengthAdjust="spacingAndGlyphs" >EWSR1- FLI1</text>
<text x="1837.70" y="999.80" font-size="22.82" font-weight="bold" fill="#000" textLength="116.70" lengthAdjust="spacingAndGlyphs" >“cortado”</text>
<text x="1823.30" y="1035.80" font-size="22.82" font-weight="bold" fill="#000" textLength="145.50" lengthAdjust="spacingAndGlyphs" >(inactivado)</text>
<text x="1814.40" y="1268.00" font-size="26.16" font-weight="bold" fill="#4472c4" textLength="148.39" lengthAdjust="spacingAndGlyphs" >EWSR1- FLI1</text>
<text x="1979.60" y="1268.00" font-size="26.16" font-weight="bold" fill="#4472c4" textLength="76.29" lengthAdjust="spacingAndGlyphs" >mRNA</text>
<text x="2133.80" y="984.10" font-size="22.82" font-weight="bold" fill="#000" textLength="264.59" lengthAdjust="spacingAndGlyphs" >mRNA no funcionales</text>
<text x="2547.50" y="962.50" font-size="22.82" font-weight="bold" fill="#000" textLength="191.29" lengthAdjust="spacingAndGlyphs" >No transcipción</text>
<text x="2521.00" y="998.60" font-size="22.82" font-weight="bold" fill="#000" textLength="244.11" lengthAdjust="spacingAndGlyphs" >No síntesis proteína</text>
<path d="M1738.8,1130.0 L1739.6,1129.9 L1740.4,1129.4 L1741.2,1128.5 L1742.0,1127.2 L1742.8,1125.6 L1743.6,1123.6 L1744.4,1121.4 L1745.2,1118.9 L1746.0,1116.3 L1746.8,1113.4 L1747.6,1110.5 L1748.4,1107.6 L1749.2,1104.7 L1750.0,1101.9 L1750.8,1099.2 L1751.6,1096.7 L1752.4,1094.5 L1753.2,1092.5 L1754.0,1090.9 L1754.8,1089.6 L1755.6,1088.6 L1756.4,1088.1 L1762.4,1088.1 L1761.6,1088.6 L1760.8,1089.6 L1760.0,1090.9 L1759.2,1092.5 L1758.4,1094.5 L1757.6,1096.7 L1756.8,1099.2 L1756.0,1101.9 L1755.2,1104.7 L1754.4,1107.6 L1753.6,1110.5 L1752.8,1113.4 L1752.0,1116.3 L1751.2,1118.9 L1750.4,1121.4 L1749.6,1123.6 L1748.8,1125.6 L1748.0,1127.2 L1747.2,1128.5 L1746.4,1129.4 L1745.6,1129.9 L1744.8,1130.0 Z" fill="#3f8c4a" stroke="#111" stroke-width="0.9" stroke-linejoin="round"/>
<path d="M1774.8,1130.0 L1775.6,1129.9 L1776.4,1129.4 L1777.2,1128.5 L1778.0,1127.2 L1778.8,1125.6 L1779.6,1123.6 L1780.4,1121.4 L1781.2,1118.9 L1782.0,1116.3 L1782.8,1113.4 L1783.6,1110.5 L1784.4,1107.6 L1785.2,1104.7 L1786.0,1101.9 L1786.8,1099.2 L1787.6,1096.7 L1788.4,1094.5 L1789.2,1092.5 L1790.0,1090.9 L1796.0,1090.9 L1795.2,1092.5 L1794.4,1094.5 L1793.6,1096.7 L1792.8,1099.2 L1792.0,1101.9 L1791.2,1104.7 L1790.4,1107.6 L1789.6,1110.5 L1788.8,1113.4 L1788.0,1116.3 L1787.2,1118.9 L1786.4,1121.4 L1785.6,1123.6 L1784.8,1125.6 L1784.0,1127.2 L1783.2,1128.5 L1782.4,1129.4 L1781.6,1129.9 L1780.8,1130.0 Z" fill="#3f8c4a" stroke="#111" stroke-width="0.9" stroke-linejoin="round"/>
<path d="M1722.0,1129.7 L1722.8,1129.0 L1723.6,1127.9 L1724.4,1126.5 L1725.2,1124.7 L1726.0,1122.6 L1726.8,1120.2 L1727.6,1117.6 L1728.4,1114.9 L1729.2,1112.0 L1730.0,1109.1 L1730.8,1106.2 L1731.6,1103.3 L1732.4,1100.5 L1733.2,1097.9 L1734.0,1095.6 L1734.8,1093.4 L1735.6,1091.6 L1736.4,1090.2 L1737.2,1089.1 L1738.0,1088.3 L1738.8,1088.0 L1744.8,1088.0 L1744.0,1088.3 L1743.2,1089.1 L1742.4,1090.2 L1741.6,1091.6 L1740.8,1093.4 L1740.0,1095.6 L1739.2,1097.9 L1738.4,1100.5 L1737.6,1103.3 L1736.8,1106.2 L1736.0,1109.1 L1735.2,1112.0 L1734.4,1114.9 L1733.6,1117.6 L1732.8,1120.2 L1732.0,1122.6 L1731.2,1124.7 L1730.4,1126.5 L1729.6,1127.9 L1728.8,1129.0 L1728.0,1129.7 Z" fill="#3f8c4a" stroke="#111" stroke-width="0.9" stroke-linejoin="round"/>
<path d="M1756.4,1129.9 L1757.2,1130.0 L1758.0,1129.7 L1758.8,1129.0 L1759.6,1127.9 L1760.4,1126.5 L1761.2,1124.7 L1762.0,1122.6 L1762.8,1120.2 L1763.6,1117.6 L1764.4,1114.9 L1765.2,1112.0 L1766.0,1109.1 L1766.8,1106.2 L1767.6,1103.3 L1768.4,1100.5 L1769.2,1097.9 L1770.0,1095.6 L1770.8,1093.4 L1771.6,1091.6 L1772.4,1090.2 L1773.2,1089.1 L1774.0,1088.3 L1774.8,1088.0 L1780.8,1088.0 L1780.0,1088.3 L1779.2,1089.1 L1778.4,1090.2 L1777.6,1091.6 L1776.8,1093.4 L1776.0,1095.6 L1775.2,1097.9 L1774.4,1100.5 L1773.6,1103.3 L1772.8,1106.2 L1772.0,1109.1 L1771.2,1112.0 L1770.4,1114.9 L1769.6,1117.6 L1768.8,1120.2 L1768.0,1122.6 L1767.2,1124.7 L1766.4,1126.5 L1765.6,1127.9 L1764.8,1129.0 L1764.0,1129.7 L1763.2,1130.0 L1762.4,1129.9 Z" fill="#3f8c4a" stroke="#111" stroke-width="0.9" stroke-linejoin="round"/>
<line x1="1726.0" y1="1090.8" x2="1726.5" y2="1127.2" stroke="#222" stroke-width="2.2"/>
<line x1="1726.0" y1="1090.8" x2="1726.5" y2="1127.2" stroke="#f5f0e0" stroke-width="1.2"/>
<line x1="1729.0" y1="1098.4" x2="1729.5" y2="1119.6" stroke="#222" stroke-width="2.2"/>
<line x1="1729.0" y1="1098.4" x2="1729.5" y2="1119.6" stroke="#f5f0e0" stroke-width="1.2"/>
<line x1="1732.0" y1="1108.9" x2="1732.5" y2="1109.1" stroke="#222" stroke-width="2.2"/>
<line x1="1732.0" y1="1108.9" x2="1732.5" y2="1109.1" stroke="#f5f0e0" stroke-width="1.2"/>
<line x1="1735.0" y1="1119.4" x2="1735.5" y2="1098.6" stroke="#222" stroke-width="2.2"/>
<line x1="1735.0" y1="1119.4" x2="1735.5" y2="1098.6" stroke="#f0d84a" stroke-width="1.2"/>
<line x1="1738.0" y1="1127.1" x2="1738.5" y2="1090.9" stroke="#222" stroke-width="2.2"/>
<line x1="1738.0" y1="1127.1" x2="1738.5" y2="1090.9" stroke="#d9436a" stroke-width="1.2"/>
<line x1="1741.0" y1="1130.0" x2="1741.5" y2="1088.0" stroke="#222" stroke-width="2.2"/>
<line x1="1741.0" y1="1130.0" x2="1741.5" y2="1088.0" stroke="#f5f0e0" stroke-width="1.2"/>
<line x1="1744.0" y1="1127.2" x2="1744.5" y2="1090.8" stroke="#222" stroke-width="2.2"/>
<line x1="1744.0" y1="1127.2" x2="1744.5" y2="1090.8" stroke="#d9436a" stroke-width="1.2"/>
<line x1="1747.0" y1="1119.6" x2="1747.5" y2="1098.4" stroke="#222" stroke-width="2.2"/>
<line x1="1747.0" y1="1119.6" x2="1747.5" y2="1098.4" stroke="#e9a04a" stroke-width="1.2"/>
<line x1="1750.0" y1="1109.1" x2="1750.5" y2="1108.9" stroke="#222" stroke-width="2.2"/>
<line x1="1750.0" y1="1109.1" x2="1750.5" y2="1108.9" stroke="#f5f0e0" stroke-width="1.2"/>
<line x1="1753.0" y1="1098.6" x2="1753.5" y2="1119.4" stroke="#222" stroke-width="2.2"/>
<line x1="1753.0" y1="1098.6" x2="1753.5" y2="1119.4" stroke="#3d6fb0" stroke-width="1.2"/>
<line x1="1756.0" y1="1090.9" x2="1756.5" y2="1127.1" stroke="#222" stroke-width="2.2"/>
<line x1="1756.0" y1="1090.9" x2="1756.5" y2="1127.1" stroke="#d9436a" stroke-width="1.2"/>
<line x1="1759.0" y1="1088.0" x2="1759.5" y2="1130.0" stroke="#222" stroke-width="2.2"/>
<line x1="1759.0" y1="1088.0" x2="1759.5" y2="1130.0" stroke="#e9a04a" stroke-width="1.2"/>
<line x1="1762.0" y1="1090.8" x2="1762.5" y2="1127.2" stroke="#222" stroke-width="2.2"/>
<line x1="1762.0" y1="1090.8" x2="1762.5" y2="1127.2" stroke="#4bb3d9" stroke-width="1.2"/>
<line x1="1765.0" y1="1098.4" x2="1765.5" y2="1119.6" stroke="#222" stroke-width="2.2"/>
<line x1="1765.0" y1="1098.4" x2="1765.5" y2="1119.6" stroke="#c85a8a" stroke-width="1.2"/>
<line x1="1768.0" y1="1108.9" x2="1768.5" y2="1109.1" stroke="#222" stroke-width="2.2"/>
<line x1="1768.0" y1="1108.9" x2="1768.5" y2="1109.1" stroke="#f5f0e0" stroke-width="1.2"/>
<line x1="1771.0" y1="1119.4" x2="1771.5" y2="1098.6" stroke="#222" stroke-width="2.2"/>
<line x1="1771.0" y1="1119.4" x2="1771.5" y2="1098.6" stroke="#d9436a" stroke-width="1.2"/>
<line x1="1774.0" y1="1127.1" x2="1774.5" y2="1090.9" stroke="#222" stroke-width="2.2"/>
<line x1="1774.0" y1="1127.1" x2="1774.5" y2="1090.9" stroke="#4bb3d9" stroke-width="1.2"/>
<line x1="1777.0" y1="1130.0" x2="1777.5" y2="1088.0" stroke="#222" stroke-width="2.2"/>
<line x1="1777.0" y1="1130.0" x2="1777.5" y2="1088.0" stroke="#e9a04a" stroke-width="1.2"/>
<line x1="1780.0" y1="1127.2" x2="1780.5" y2="1090.8" stroke="#222" stroke-width="2.2"/>
<line x1="1780.0" y1="1127.2" x2="1780.5" y2="1090.8" stroke="#4bb3d9" stroke-width="1.2"/>
<line x1="1783.0" y1="1119.6" x2="1783.5" y2="1098.4" stroke="#222" stroke-width="2.2"/>
<line x1="1783.0" y1="1119.6" x2="1783.5" y2="1098.4" stroke="#4bb3d9" stroke-width="1.2"/>
<line x1="1786.0" y1="1109.1" x2="1786.5" y2="1108.9" stroke="#222" stroke-width="2.2"/>
<line x1="1786.0" y1="1109.1" x2="1786.5" y2="1108.9" stroke="#f0d84a" stroke-width="1.2"/>
<line x1="1789.0" y1="1098.6" x2="1789.5" y2="1119.4" stroke="#222" stroke-width="2.2"/>
<line x1="1789.0" y1="1098.6" x2="1789.5" y2="1119.4" stroke="#f0d84a" stroke-width="1.2"/>
<path d="M1722.0,1088.3 L1722.8,1089.0 L1723.6,1090.1 L1724.4,1091.5 L1725.2,1093.3 L1726.0,1095.4 L1726.8,1097.8 L1727.6,1100.4 L1728.4,1103.1 L1729.2,1106.0 L1730.0,1108.9 L1730.8,1111.8 L1731.6,1114.7 L1732.4,1117.5 L1733.2,1120.1 L1734.0,1122.4 L1734.8,1124.6 L1735.6,1126.4 L1736.4,1127.8 L1737.2,1128.9 L1738.0,1129.7 L1738.8,1130.0 L1744.8,1130.0 L1744.0,1129.7 L1743.2,1128.9 L1742.4,1127.8 L1741.6,1126.4 L1740.8,1124.6 L1740.0,1122.4 L1739.2,1120.1 L1738.4,1117.5 L1737.6,1114.7 L1736.8,1111.8 L1736.0,1108.9 L1735.2,1106.0 L1734.4,1103.1 L1733.6,1100.4 L1732.8,1097.8 L1732.0,1095.4 L1731.2,1093.3 L1730.4,1091.5 L1729.6,1090.1 L1728.8,1089.0 L1728.0,1088.3 Z" fill="#b5ddb0" stroke="#111" stroke-width="0.9" stroke-linejoin="round"/>
<path d="M1756.4,1088.1 L1757.2,1088.0 L1758.0,1088.3 L1758.8,1089.0 L1759.6,1090.1 L1760.4,1091.5 L1761.2,1093.3 L1762.0,1095.4 L1762.8,1097.8 L1763.6,1100.4 L1764.4,1103.1 L1765.2,1106.0 L1766.0,1108.9 L1766.8,1111.8 L1767.6,1114.7 L1768.4,1117.5 L1769.2,1120.1 L1770.0,1122.4 L1770.8,1124.6 L1771.6,1126.4 L1772.4,1127.8 L1773.2,1128.9 L1774.0,1129.7 L1774.8,1130.0 L1780.8,1130.0 L1780.0,1129.7 L1779.2,1128.9 L1778.4,1127.8 L1777.6,1126.4 L1776.8,1124.6 L1776.0,1122.4 L1775.2,1120.1 L1774.4,1117.5 L1773.6,1114.7 L1772.8,1111.8 L1772.0,1108.9 L1771.2,1106.0 L1770.4,1103.1 L1769.6,1100.4 L1768.8,1097.8 L1768.0,1095.4 L1767.2,1093.3 L1766.4,1091.5 L1765.6,1090.1 L1764.8,1089.0 L1764.0,1088.3 L1763.2,1088.0 L1762.4,1088.1 Z" fill="#b5ddb0" stroke="#111" stroke-width="0.9" stroke-linejoin="round"/>
<path d="M1738.8,1088.0 L1739.6,1088.1 L1740.4,1088.6 L1741.2,1089.5 L1742.0,1090.8 L1742.8,1092.4 L1743.6,1094.4 L1744.4,1096.6 L1745.2,1099.1 L1746.0,1101.7 L1746.8,1104.6 L1747.6,1107.5 L1748.4,1110.4 L1749.2,1113.3 L1750.0,1116.1 L1750.8,1118.8 L1751.6,1121.3 L1752.4,1123.5 L1753.2,1125.5 L1754.0,1127.1 L1754.8,1128.4 L1755.6,1129.4 L1756.4,1129.9 L1762.4,1129.9 L1761.6,1129.4 L1760.8,1128.4 L1760.0,1127.1 L1759.2,1125.5 L1758.4,1123.5 L1757.6,1121.3 L1756.8,1118.8 L1756.0,1116.1 L1755.2,1113.3 L1754.4,1110.4 L1753.6,1107.5 L1752.8,1104.6 L1752.0,1101.7 L1751.2,1099.1 L1750.4,1096.6 L1749.6,1094.4 L1748.8,1092.4 L1748.0,1090.8 L1747.2,1089.5 L1746.4,1088.6 L1745.6,1088.1 L1744.8,1088.0 Z" fill="#b5ddb0" stroke="#111" stroke-width="0.9" stroke-linejoin="round"/>
<path d="M1774.8,1088.0 L1775.6,1088.1 L1776.4,1088.6 L1777.2,1089.5 L1778.0,1090.8 L1778.8,1092.4 L1779.6,1094.4 L1780.4,1096.6 L1781.2,1099.1 L1782.0,1101.7 L1782.8,1104.6 L1783.6,1107.5 L1784.4,1110.4 L1785.2,1113.3 L1786.0,1116.1 L1786.8,1118.8 L1787.6,1121.3 L1788.4,1123.5 L1789.2,1125.5 L1790.0,1127.1 L1796.0,1127.1 L1795.2,1125.5 L1794.4,1123.5 L1793.6,1121.3 L1792.8,1118.8 L1792.0,1116.1 L1791.2,1113.3 L1790.4,1110.4 L1789.6,1107.5 L1788.8,1104.6 L1788.0,1101.7 L1787.2,1099.1 L1786.4,1096.6 L1785.6,1094.4 L1784.8,1092.4 L1784.0,1090.8 L1783.2,1089.5 L1782.4,1088.6 L1781.6,1088.1 L1780.8,1088.0 Z" fill="#b5ddb0" stroke="#111" stroke-width="0.9" stroke-linejoin="round"/>
<line x1="1790.7" y1="1132.6" x2="1807.6" y2="1120.1" stroke="#222" stroke-width="2.6"/><line x1="1790.7" y1="1132.6" x2="1807.6" y2="1120.1" stroke="#f5f0e0" stroke-width="1.4"/>
<line x1="1796.0" y1="1139.9" x2="1812.9" y2="1127.4" stroke="#222" stroke-width="2.6"/><line x1="1796.0" y1="1139.9" x2="1812.9" y2="1127.4" stroke="#3d6fb0" stroke-width="1.4"/>
<line x1="1801.4" y1="1147.1" x2="1818.3" y2="1134.6" stroke="#222" stroke-width="2.6"/><line x1="1801.4" y1="1147.1" x2="1818.3" y2="1134.6" stroke="#9ad0e8" stroke-width="1.4"/>
<line x1="1807.3" y1="1153.8" x2="1820.2" y2="1137.2" stroke="#222" stroke-width="2.6"/><line x1="1807.3" y1="1153.8" x2="1820.2" y2="1137.2" stroke="#d9436a" stroke-width="1.4"/>
<line x1="1814.4" y1="1159.3" x2="1827.3" y2="1142.7" stroke="#222" stroke-width="2.6"/><line x1="1814.4" y1="1159.3" x2="1827.3" y2="1142.7" stroke="#c85a8a" stroke-width="1.4"/>
<line x1="1821.5" y1="1164.8" x2="1834.4" y2="1148.3" stroke="#222" stroke-width="2.6"/><line x1="1821.5" y1="1164.8" x2="1834.4" y2="1148.3" stroke="#4bb3d9" stroke-width="1.4"/>
<line x1="1829.7" y1="1168.3" x2="1836.5" y2="1148.4" stroke="#222" stroke-width="2.6"/><line x1="1829.7" y1="1168.3" x2="1836.5" y2="1148.4" stroke="#9ad0e8" stroke-width="1.4"/>
<line x1="1838.2" y1="1171.2" x2="1845.0" y2="1151.3" stroke="#222" stroke-width="2.6"/><line x1="1838.2" y1="1171.2" x2="1845.0" y2="1151.3" stroke="#f5f0e0" stroke-width="1.4"/>
<line x1="1846.7" y1="1174.1" x2="1853.5" y2="1154.2" stroke="#222" stroke-width="2.6"/><line x1="1846.7" y1="1174.1" x2="1853.5" y2="1154.2" stroke="#3d6fb0" stroke-width="1.4"/>
<line x1="1855.3" y1="1177.0" x2="1862.1" y2="1157.1" stroke="#222" stroke-width="2.6"/><line x1="1855.3" y1="1177.0" x2="1862.1" y2="1157.1" stroke="#f5f0e0" stroke-width="1.4"/>
<line x1="1863.8" y1="1179.9" x2="1870.6" y2="1160.1" stroke="#222" stroke-width="2.6"/><line x1="1863.8" y1="1179.9" x2="1870.6" y2="1160.1" stroke="#f0d84a" stroke-width="1.4"/>
<line x1="1872.6" y1="1178.3" x2="1868.6" y2="1157.7" stroke="#222" stroke-width="2.6"/><line x1="1872.6" y1="1178.3" x2="1868.6" y2="1157.7" stroke="#4bb3d9" stroke-width="1.4"/>
<line x1="1881.4" y1="1176.6" x2="1877.4" y2="1156.0" stroke="#222" stroke-width="2.6"/><line x1="1881.4" y1="1176.6" x2="1877.4" y2="1156.0" stroke="#d9436a" stroke-width="1.4"/>
<line x1="1890.3" y1="1174.9" x2="1886.3" y2="1154.3" stroke="#222" stroke-width="2.6"/><line x1="1890.3" y1="1174.9" x2="1886.3" y2="1154.3" stroke="#f5f0e0" stroke-width="1.4"/>
<line x1="1899.1" y1="1173.1" x2="1895.1" y2="1152.5" stroke="#222" stroke-width="2.6"/><line x1="1899.1" y1="1173.1" x2="1895.1" y2="1152.5" stroke="#9ad0e8" stroke-width="1.4"/>
<line x1="1907.0" y1="1169.8" x2="1891.6" y2="1155.5" stroke="#222" stroke-width="2.6"/><line x1="1907.0" y1="1169.8" x2="1891.6" y2="1155.5" stroke="#d9436a" stroke-width="1.4"/>
<line x1="1913.2" y1="1163.2" x2="1897.7" y2="1148.9" stroke="#222" stroke-width="2.6"/><line x1="1913.2" y1="1163.2" x2="1897.7" y2="1148.9" stroke="#9ad0e8" stroke-width="1.4"/>
<line x1="1919.3" y1="1156.6" x2="1903.9" y2="1142.3" stroke="#222" stroke-width="2.6"/><line x1="1919.3" y1="1156.6" x2="1903.9" y2="1142.3" stroke="#f0d84a" stroke-width="1.4"/>
<line x1="1925.4" y1="1150.0" x2="1910.0" y2="1135.7" stroke="#222" stroke-width="2.6"/><line x1="1925.4" y1="1150.0" x2="1910.0" y2="1135.7" stroke="#4bb3d9" stroke-width="1.4"/>
<path d="M1788.0,1129.0 C1791.4,1133.6 1798.0,1144.6 1805.0,1152.0 C1812.0,1159.4 1811.2,1160.4 1823.0,1166.0 C1834.8,1171.6 1847.6,1178.8 1864.0,1180.0 C1880.4,1181.2 1891.8,1179.0 1905.0,1172.0 C1918.2,1165.0 1925.0,1150.4 1930.0,1145.0" fill="none" stroke="#13301a" stroke-width="5.0" stroke-linecap="round"/><path d="M1788.0,1129.0 C1791.4,1133.6 1798.0,1144.6 1805.0,1152.0 C1812.0,1159.4 1811.2,1160.4 1823.0,1166.0 C1834.8,1171.6 1847.6,1178.8 1864.0,1180.0 C1880.4,1181.2 1891.8,1179.0 1905.0,1172.0 C1918.2,1165.0 1925.0,1150.4 1930.0,1145.0" fill="none" stroke="#b5ddb0" stroke-width="3.4" stroke-linecap="round"/>
<path d="M1929.0,1147.0 C1930.8,1141.9 1932.3,1140.5 1935.0,1130.0 C1937.7,1119.5 1937.1,1117.4 1938.0,1112.0" fill="none" stroke="#1d3d22" stroke-width="5.0" stroke-linecap="round" stroke-linejoin="round"/><path d="M1929.0,1147.0 C1930.8,1141.9 1932.3,1140.5 1935.0,1130.0 C1937.7,1119.5 1937.1,1117.4 1938.0,1112.0" fill="none" stroke="#b5ddb0" stroke-width="3.4" stroke-linecap="round" stroke-linejoin="round"/>
<line x1="1814.4" y1="1126.9" x2="1818.3" y2="1122.3" stroke="#222" stroke-width="2.6"/><line x1="1814.4" y1="1126.9" x2="1818.3" y2="1122.3" stroke="#3d6fb0" stroke-width="1.4"/>
<line x1="1821.3" y1="1132.7" x2="1825.2" y2="1128.1" stroke="#222" stroke-width="2.6"/><line x1="1821.3" y1="1132.7" x2="1825.2" y2="1128.1" stroke="#3d6fb0" stroke-width="1.4"/>
<line x1="1828.2" y1="1138.5" x2="1832.1" y2="1134.0" stroke="#222" stroke-width="2.6"/><line x1="1828.2" y1="1138.5" x2="1832.1" y2="1134.0" stroke="#d9436a" stroke-width="1.4"/>
<line x1="1835.0" y1="1144.3" x2="1838.9" y2="1139.8" stroke="#222" stroke-width="2.6"/><line x1="1835.0" y1="1144.3" x2="1838.9" y2="1139.8" stroke="#f0d84a" stroke-width="1.4"/>
<line x1="1843.2" y1="1147.8" x2="1844.9" y2="1142.0" stroke="#222" stroke-width="2.6"/><line x1="1843.2" y1="1147.8" x2="1844.9" y2="1142.0" stroke="#d9436a" stroke-width="1.4"/>
<line x1="1851.8" y1="1150.3" x2="1853.5" y2="1144.6" stroke="#222" stroke-width="2.6"/><line x1="1851.8" y1="1150.3" x2="1853.5" y2="1144.6" stroke="#f0d84a" stroke-width="1.4"/>
<line x1="1860.5" y1="1152.8" x2="1862.1" y2="1147.1" stroke="#222" stroke-width="2.6"/><line x1="1860.5" y1="1152.8" x2="1862.1" y2="1147.1" stroke="#d9436a" stroke-width="1.4"/>
<line x1="1869.2" y1="1153.0" x2="1867.9" y2="1147.1" stroke="#222" stroke-width="2.6"/><line x1="1869.2" y1="1153.0" x2="1867.9" y2="1147.1" stroke="#d9436a" stroke-width="1.4"/>
<line x1="1878.0" y1="1151.0" x2="1876.7" y2="1145.2" stroke="#222" stroke-width="2.6"/><line x1="1878.0" y1="1151.0" x2="1876.7" y2="1145.2" stroke="#e9a04a" stroke-width="1.4"/>
<line x1="1886.8" y1="1149.1" x2="1885.5" y2="1143.3" stroke="#222" stroke-width="2.6"/><line x1="1886.8" y1="1149.1" x2="1885.5" y2="1143.3" stroke="#f0d84a" stroke-width="1.4"/>
<line x1="1895.6" y1="1147.2" x2="1894.3" y2="1141.3" stroke="#222" stroke-width="2.6"/><line x1="1895.6" y1="1147.2" x2="1894.3" y2="1141.3" stroke="#3d6fb0" stroke-width="1.4"/>
<line x1="1904.4" y1="1145.3" x2="1903.1" y2="1139.4" stroke="#222" stroke-width="2.6"/><line x1="1904.4" y1="1145.3" x2="1903.1" y2="1139.4" stroke="#4bb3d9" stroke-width="1.4"/>
<line x1="1913.1" y1="1143.1" x2="1911.6" y2="1137.3" stroke="#222" stroke-width="2.6"/><line x1="1913.1" y1="1143.1" x2="1911.6" y2="1137.3" stroke="#c85a8a" stroke-width="1.4"/>
<line x1="1921.8" y1="1140.9" x2="1920.3" y2="1135.0" stroke="#222" stroke-width="2.6"/><line x1="1921.8" y1="1140.9" x2="1920.3" y2="1135.0" stroke="#d9436a" stroke-width="1.4"/>
<line x1="1930.5" y1="1138.6" x2="1929.0" y2="1132.8" stroke="#222" stroke-width="2.6"/><line x1="1930.5" y1="1138.6" x2="1929.0" y2="1132.8" stroke="#4bb3d9" stroke-width="1.4"/>
<line x1="1937.6" y1="1142.5" x2="1941.8" y2="1138.2" stroke="#222" stroke-width="2.6"/><line x1="1937.6" y1="1142.5" x2="1941.8" y2="1138.2" stroke="#3d6fb0" stroke-width="1.4"/>
<line x1="1944.1" y1="1148.7" x2="1948.3" y2="1144.4" stroke="#222" stroke-width="2.6"/><line x1="1944.1" y1="1148.7" x2="1948.3" y2="1144.4" stroke="#d9436a" stroke-width="1.4"/>
<line x1="1950.6" y1="1155.0" x2="1954.8" y2="1150.6" stroke="#222" stroke-width="2.6"/><line x1="1950.6" y1="1155.0" x2="1954.8" y2="1150.6" stroke="#e9a04a" stroke-width="1.4"/>
<line x1="1957.1" y1="1161.2" x2="1961.3" y2="1156.9" stroke="#222" stroke-width="2.6"/><line x1="1957.1" y1="1161.2" x2="1961.3" y2="1156.9" stroke="#3d6fb0" stroke-width="1.4"/>
<line x1="1956.2" y1="1167.2" x2="1960.0" y2="1171.8" stroke="#222" stroke-width="2.6"/><line x1="1956.2" y1="1167.2" x2="1960.0" y2="1171.8" stroke="#f5f0e0" stroke-width="1.4"/>
<line x1="1949.3" y1="1172.9" x2="1953.1" y2="1177.5" stroke="#222" stroke-width="2.6"/><line x1="1949.3" y1="1172.9" x2="1953.1" y2="1177.5" stroke="#c85a8a" stroke-width="1.4"/>
<line x1="1942.3" y1="1178.7" x2="1946.2" y2="1183.3" stroke="#222" stroke-width="2.6"/><line x1="1942.3" y1="1178.7" x2="1946.2" y2="1183.3" stroke="#d9436a" stroke-width="1.4"/>
<line x1="1935.4" y1="1184.4" x2="1939.2" y2="1189.0" stroke="#222" stroke-width="2.6"/><line x1="1935.4" y1="1184.4" x2="1939.2" y2="1189.0" stroke="#3d6fb0" stroke-width="1.4"/>
<line x1="1928.5" y1="1190.2" x2="1932.3" y2="1194.8" stroke="#222" stroke-width="2.6"/><line x1="1928.5" y1="1190.2" x2="1932.3" y2="1194.8" stroke="#9ad0e8" stroke-width="1.4"/>
<line x1="1934.0" y1="1195.2" x2="1937.2" y2="1190.2" stroke="#222" stroke-width="2.6"/><line x1="1934.0" y1="1195.2" x2="1937.2" y2="1190.2" stroke="#f0d84a" stroke-width="1.4"/>
<line x1="1941.5" y1="1200.1" x2="1944.8" y2="1195.1" stroke="#222" stroke-width="2.6"/><line x1="1941.5" y1="1200.1" x2="1944.8" y2="1195.1" stroke="#f5f0e0" stroke-width="1.4"/>
<line x1="1949.1" y1="1205.0" x2="1952.3" y2="1199.9" stroke="#222" stroke-width="2.6"/><line x1="1949.1" y1="1205.0" x2="1952.3" y2="1199.9" stroke="#c85a8a" stroke-width="1.4"/>
<line x1="1956.6" y1="1209.9" x2="1959.9" y2="1204.8" stroke="#222" stroke-width="2.6"/><line x1="1956.6" y1="1209.9" x2="1959.9" y2="1204.8" stroke="#9ad0e8" stroke-width="1.4"/>
<path d="M1811.0,1124.0 C1816.2,1128.4 1826.3,1140.0 1837.0,1146.0 C1847.7,1152.0 1850.8,1154.2 1864.5,1154.0 C1878.2,1153.8 1891.9,1148.2 1905.6,1145.0 C1919.3,1141.8 1922.1,1134.2 1933.0,1138.0 C1943.9,1141.8 1961.1,1153.4 1960.0,1164.0 C1958.9,1174.6 1926.9,1181.0 1927.5,1191.0 C1928.1,1201.0 1955.9,1209.4 1963.0,1214.0" fill="none" stroke="#102040" stroke-width="5.0" stroke-linecap="round"/><path d="M1811.0,1124.0 C1816.2,1128.4 1826.3,1140.0 1837.0,1146.0 C1847.7,1152.0 1850.8,1154.2 1864.5,1154.0 C1878.2,1153.8 1891.9,1148.2 1905.6,1145.0 C1919.3,1141.8 1922.1,1134.2 1933.0,1138.0 C1943.9,1141.8 1961.1,1153.4 1960.0,1164.0 C1958.9,1174.6 1926.9,1181.0 1927.5,1191.0 C1928.1,1201.0 1955.9,1209.4 1963.0,1214.0" fill="none" stroke="#9fd7f2" stroke-width="3.4" stroke-linecap="round"/>
<line x1="1789.4" y1="1122.2" x2="1780.7" y2="1119.7" stroke="#222" stroke-width="2.6"/><line x1="1789.4" y1="1122.2" x2="1780.7" y2="1119.7" stroke="#e9a04a" stroke-width="1.4"/>
<line x1="1792.1" y1="1112.6" x2="1783.5" y2="1110.1" stroke="#222" stroke-width="2.6"/><line x1="1792.1" y1="1112.6" x2="1783.5" y2="1110.1" stroke="#f0d84a" stroke-width="1.4"/>
<line x1="1794.9" y1="1103.0" x2="1786.2" y2="1100.5" stroke="#222" stroke-width="2.6"/><line x1="1794.9" y1="1103.0" x2="1786.2" y2="1100.5" stroke="#3d6fb0" stroke-width="1.4"/>
<line x1="1797.6" y1="1093.3" x2="1789.0" y2="1090.9" stroke="#222" stroke-width="2.6"/><line x1="1797.6" y1="1093.3" x2="1789.0" y2="1090.9" stroke="#3d6fb0" stroke-width="1.4"/>
<line x1="1806.6" y1="1092.0" x2="1806.6" y2="1083.0" stroke="#222" stroke-width="2.6"/><line x1="1806.6" y1="1092.0" x2="1806.6" y2="1083.0" stroke="#3d6fb0" stroke-width="1.4"/>
<line x1="1816.6" y1="1092.0" x2="1816.6" y2="1083.0" stroke="#222" stroke-width="2.6"/><line x1="1816.6" y1="1092.0" x2="1816.6" y2="1083.0" stroke="#e9a04a" stroke-width="1.4"/>
<line x1="1826.4" y1="1092.8" x2="1830.9" y2="1085.0" stroke="#222" stroke-width="2.6"/><line x1="1826.4" y1="1092.8" x2="1830.9" y2="1085.0" stroke="#f5f0e0" stroke-width="1.4"/>
<line x1="1835.0" y1="1097.8" x2="1839.5" y2="1090.0" stroke="#222" stroke-width="2.6"/><line x1="1835.0" y1="1097.8" x2="1839.5" y2="1090.0" stroke="#3d6fb0" stroke-width="1.4"/>
<line x1="1843.7" y1="1102.8" x2="1848.2" y2="1095.0" stroke="#222" stroke-width="2.6"/><line x1="1843.7" y1="1102.8" x2="1848.2" y2="1095.0" stroke="#f5f0e0" stroke-width="1.4"/>
<line x1="1852.5" y1="1106.6" x2="1850.4" y2="1097.9" stroke="#222" stroke-width="2.6"/><line x1="1852.5" y1="1106.6" x2="1850.4" y2="1097.9" stroke="#c85a8a" stroke-width="1.4"/>
<line x1="1862.3" y1="1104.3" x2="1860.1" y2="1095.5" stroke="#222" stroke-width="2.6"/><line x1="1862.3" y1="1104.3" x2="1860.1" y2="1095.5" stroke="#c85a8a" stroke-width="1.4"/>
<line x1="1872.0" y1="1101.9" x2="1869.9" y2="1093.2" stroke="#222" stroke-width="2.6"/><line x1="1872.0" y1="1101.9" x2="1869.9" y2="1093.2" stroke="#e9a04a" stroke-width="1.4"/>
<line x1="1881.6" y1="1099.2" x2="1877.5" y2="1091.2" stroke="#222" stroke-width="2.6"/><line x1="1881.6" y1="1099.2" x2="1877.5" y2="1091.2" stroke="#3d6fb0" stroke-width="1.4"/>
<line x1="1890.5" y1="1094.7" x2="1886.5" y2="1086.7" stroke="#222" stroke-width="2.6"/><line x1="1890.5" y1="1094.7" x2="1886.5" y2="1086.7" stroke="#f0d84a" stroke-width="1.4"/>
<line x1="1899.5" y1="1090.3" x2="1895.4" y2="1082.2" stroke="#222" stroke-width="2.6"/><line x1="1899.5" y1="1090.3" x2="1895.4" y2="1082.2" stroke="#9ad0e8" stroke-width="1.4"/>
<line x1="1908.4" y1="1085.8" x2="1904.4" y2="1077.8" stroke="#222" stroke-width="2.6"/><line x1="1908.4" y1="1085.8" x2="1904.4" y2="1077.8" stroke="#9ad0e8" stroke-width="1.4"/>
<line x1="1917.3" y1="1084.7" x2="1921.4" y2="1076.6" stroke="#222" stroke-width="2.6"/><line x1="1917.3" y1="1084.7" x2="1921.4" y2="1076.6" stroke="#3d6fb0" stroke-width="1.4"/>
<line x1="1926.3" y1="1089.1" x2="1930.3" y2="1081.1" stroke="#222" stroke-width="2.6"/><line x1="1926.3" y1="1089.1" x2="1930.3" y2="1081.1" stroke="#9ad0e8" stroke-width="1.4"/>
<line x1="1935.2" y1="1093.6" x2="1939.3" y2="1085.6" stroke="#222" stroke-width="2.6"/><line x1="1935.2" y1="1093.6" x2="1939.3" y2="1085.6" stroke="#d9436a" stroke-width="1.4"/>
<line x1="1937.6" y1="1101.9" x2="1946.6" y2="1102.4" stroke="#222" stroke-width="2.6"/><line x1="1937.6" y1="1101.9" x2="1946.6" y2="1102.4" stroke="#d9436a" stroke-width="1.4"/>
<line x1="1937.1" y1="1111.9" x2="1946.1" y2="1112.4" stroke="#222" stroke-width="2.6"/><line x1="1937.1" y1="1111.9" x2="1946.1" y2="1112.4" stroke="#3d6fb0" stroke-width="1.4"/>
<line x1="1936.5" y1="1121.9" x2="1945.5" y2="1122.4" stroke="#222" stroke-width="2.6"/><line x1="1936.5" y1="1121.9" x2="1945.5" y2="1122.4" stroke="#d9436a" stroke-width="1.4"/>
<line x1="1936.0" y1="1131.9" x2="1945.0" y2="1132.3" stroke="#222" stroke-width="2.6"/><line x1="1936.0" y1="1131.9" x2="1945.0" y2="1132.3" stroke="#4bb3d9" stroke-width="1.4"/>
<path d="M1788.0,1127.0 C1790.0,1120.0 1790.6,1099.0 1798.0,1092.0 C1805.4,1085.0 1814.4,1089.0 1825.0,1092.0 C1835.6,1095.0 1840.0,1105.4 1851.0,1107.0 C1862.0,1108.6 1867.4,1104.8 1880.0,1100.0 C1892.6,1095.2 1902.4,1084.0 1914.0,1083.0 C1925.6,1082.0 1933.6,1085.2 1938.0,1095.0 C1942.4,1104.8 1936.4,1124.6 1936.0,1132.0" fill="none" stroke="#13301a" stroke-width="5.0" stroke-linecap="round"/><path d="M1788.0,1127.0 C1790.0,1120.0 1790.6,1099.0 1798.0,1092.0 C1805.4,1085.0 1814.4,1089.0 1825.0,1092.0 C1835.6,1095.0 1840.0,1105.4 1851.0,1107.0 C1862.0,1108.6 1867.4,1104.8 1880.0,1100.0 C1892.6,1095.2 1902.4,1084.0 1914.0,1083.0 C1925.6,1082.0 1933.6,1085.2 1938.0,1095.0 C1942.4,1104.8 1936.4,1124.6 1936.0,1132.0" fill="none" stroke="#b5ddb0" stroke-width="3.4" stroke-linecap="round"/>
<path d="M1941.6,1117.2 L1942.4,1117.2 L1943.2,1116.9 L1944.0,1116.2 L1944.8,1115.3 L1945.6,1114.0 L1946.4,1112.5 L1947.2,1110.8 L1948.0,1108.8 L1948.8,1106.6 L1949.6,1104.3 L1950.4,1101.8 L1951.2,1099.2 L1952.0,1096.6 L1952.8,1094.0 L1953.6,1091.5 L1954.4,1089.0 L1955.2,1086.6 L1956.0,1084.3 L1956.8,1082.2 L1957.6,1080.4 L1958.4,1078.7 L1959.2,1077.4 L1960.0,1076.3 L1960.8,1075.5 L1961.6,1075.0 L1962.4,1074.8 L1968.4,1074.8 L1967.6,1075.0 L1966.8,1075.5 L1966.0,1076.3 L1965.2,1077.4 L1964.4,1078.7 L1963.6,1080.4 L1962.8,1082.2 L1962.0,1084.3 L1961.2,1086.6 L1960.4,1089.0 L1959.6,1091.5 L1958.8,1094.0 L1958.0,1096.6 L1957.2,1099.2 L1956.4,1101.8 L1955.6,1104.3 L1954.8,1106.6 L1954.0,1108.8 L1953.2,1110.8 L1952.4,1112.5 L1951.6,1114.0 L1950.8,1115.3 L1950.0,1116.2 L1949.2,1116.9 L1948.4,1117.2 L1947.6,1117.2 Z" fill="#3f8c4a" stroke="#111" stroke-width="0.9" stroke-linejoin="round"/>
<path d="M1981.6,1112.4 L1982.4,1112.4 L1983.2,1112.1 L1984.0,1111.4 L1984.8,1110.5 L1985.6,1109.2 L1986.4,1107.7 L1987.2,1106.0 L1988.0,1104.0 L1988.8,1101.8 L1989.6,1099.5 L1990.4,1097.0 L1991.2,1094.4 L1992.0,1091.8 L1992.8,1089.2 L1993.6,1086.7 L1994.4,1084.2 L1995.2,1081.8 L1996.0,1079.5 L1996.8,1077.4 L1997.6,1075.6 L1998.4,1073.9 L1999.2,1072.6 L2000.0,1071.5 L2000.8,1070.7 L2001.6,1070.2 L2002.4,1070.0 L2008.4,1070.0 L2007.6,1070.2 L2006.8,1070.7 L2006.0,1071.5 L2005.2,1072.6 L2004.4,1073.9 L2003.6,1075.6 L2002.8,1077.4 L2002.0,1079.5 L2001.2,1081.8 L2000.4,1084.2 L1999.6,1086.7 L1998.8,1089.2 L1998.0,1091.8 L1997.2,1094.4 L1996.4,1097.0 L1995.6,1099.5 L1994.8,1101.8 L1994.0,1104.0 L1993.2,1106.0 L1992.4,1107.7 L1991.6,1109.2 L1990.8,1110.5 L1990.0,1111.4 L1989.2,1112.1 L1988.4,1112.4 L1987.6,1112.4 Z" fill="#3f8c4a" stroke="#111" stroke-width="0.9" stroke-linejoin="round"/>
<path d="M1936.0,1086.7 L1936.8,1084.6 L1937.6,1082.8 L1938.4,1081.1 L1939.2,1079.8 L1940.0,1078.7 L1940.8,1077.9 L1941.6,1077.4 L1942.4,1077.2 L1948.4,1077.2 L1947.6,1077.4 L1946.8,1077.9 L1946.0,1078.7 L1945.2,1079.8 L1944.4,1081.1 L1943.6,1082.8 L1942.8,1084.6 L1942.0,1086.7 Z" fill="#3f8c4a" stroke="#111" stroke-width="0.9" stroke-linejoin="round"/>
<path d="M1961.6,1114.8 L1962.4,1114.8 L1963.2,1114.5 L1964.0,1113.8 L1964.8,1112.9 L1965.6,1111.6 L1966.4,1110.1 L1967.2,1108.4 L1968.0,1106.4 L1968.8,1104.2 L1969.6,1101.9 L1970.4,1099.4 L1971.2,1096.8 L1972.0,1094.2 L1972.8,1091.6 L1973.6,1089.1 L1974.4,1086.6 L1975.2,1084.2 L1976.0,1081.9 L1976.8,1079.8 L1977.6,1078.0 L1978.4,1076.3 L1979.2,1075.0 L1980.0,1073.9 L1980.8,1073.1 L1981.6,1072.6 L1982.4,1072.4 L1988.4,1072.4 L1987.6,1072.6 L1986.8,1073.1 L1986.0,1073.9 L1985.2,1075.0 L1984.4,1076.3 L1983.6,1078.0 L1982.8,1079.8 L1982.0,1081.9 L1981.2,1084.2 L1980.4,1086.6 L1979.6,1089.1 L1978.8,1091.6 L1978.0,1094.2 L1977.2,1096.8 L1976.4,1099.4 L1975.6,1101.9 L1974.8,1104.2 L1974.0,1106.4 L1973.2,1108.4 L1972.4,1110.1 L1971.6,1111.6 L1970.8,1112.9 L1970.0,1113.8 L1969.2,1114.5 L1968.4,1114.8 L1967.6,1114.8 Z" fill="#3f8c4a" stroke="#111" stroke-width="0.9" stroke-linejoin="round"/>
<path d="M2001.6,1110.0 L2002.4,1110.0 L2003.2,1109.7 L2004.0,1109.0 L2010.0,1109.0 L2009.2,1109.7 L2008.4,1110.0 L2007.6,1110.0 Z" fill="#3f8c4a" stroke="#111" stroke-width="0.9" stroke-linejoin="round"/>
<line x1="1940.0" y1="1113.6" x2="1940.5" y2="1081.9" stroke="#222" stroke-width="2.2"/>
<line x1="1940.0" y1="1113.6" x2="1940.5" y2="1081.9" stroke="#f0d84a" stroke-width="1.2"/>
<line x1="1943.0" y1="1117.1" x2="1943.5" y2="1077.7" stroke="#222" stroke-width="2.2"/>
<line x1="1943.0" y1="1117.1" x2="1943.5" y2="1077.7" stroke="#4bb3d9" stroke-width="1.2"/>
<line x1="1946.0" y1="1116.2" x2="1946.5" y2="1077.9" stroke="#222" stroke-width="2.2"/>
<line x1="1946.0" y1="1116.2" x2="1946.5" y2="1077.9" stroke="#4bb3d9" stroke-width="1.2"/>
<line x1="1949.0" y1="1111.2" x2="1949.5" y2="1082.1" stroke="#222" stroke-width="2.2"/>
<line x1="1949.0" y1="1111.2" x2="1949.5" y2="1082.1" stroke="#d9436a" stroke-width="1.2"/>
<line x1="1952.0" y1="1103.0" x2="1952.5" y2="1089.6" stroke="#222" stroke-width="2.2"/>
<line x1="1952.0" y1="1103.0" x2="1952.5" y2="1089.6" stroke="#f0d84a" stroke-width="1.2"/>
<line x1="1955.0" y1="1093.4" x2="1955.5" y2="1098.5" stroke="#222" stroke-width="2.2"/>
<line x1="1955.0" y1="1093.4" x2="1955.5" y2="1098.5" stroke="#4bb3d9" stroke-width="1.2"/>
<line x1="1958.0" y1="1084.3" x2="1958.5" y2="1106.9" stroke="#222" stroke-width="2.2"/>
<line x1="1958.0" y1="1084.3" x2="1958.5" y2="1106.9" stroke="#4bb3d9" stroke-width="1.2"/>
<line x1="1961.0" y1="1077.7" x2="1961.5" y2="1112.8" stroke="#222" stroke-width="2.2"/>
<line x1="1961.0" y1="1077.7" x2="1961.5" y2="1112.8" stroke="#d9436a" stroke-width="1.2"/>
<line x1="1964.0" y1="1074.9" x2="1964.5" y2="1114.9" stroke="#222" stroke-width="2.2"/>
<line x1="1964.0" y1="1074.9" x2="1964.5" y2="1114.9" stroke="#9ad0e8" stroke-width="1.2"/>
<line x1="1967.0" y1="1076.4" x2="1967.5" y2="1112.6" stroke="#222" stroke-width="2.2"/>
<line x1="1967.0" y1="1076.4" x2="1967.5" y2="1112.6" stroke="#f0d84a" stroke-width="1.2"/>
<line x1="1970.0" y1="1082.0" x2="1970.5" y2="1106.4" stroke="#222" stroke-width="2.2"/>
<line x1="1970.0" y1="1082.0" x2="1970.5" y2="1106.4" stroke="#e9a04a" stroke-width="1.2"/>
<line x1="1973.0" y1="1090.1" x2="1973.5" y2="1097.5" stroke="#222" stroke-width="2.2"/>
<line x1="1973.0" y1="1090.1" x2="1973.5" y2="1097.5" stroke="#9ad0e8" stroke-width="1.2"/>
<line x1="1976.0" y1="1099.1" x2="1976.5" y2="1087.8" stroke="#222" stroke-width="2.2"/>
<line x1="1976.0" y1="1099.1" x2="1976.5" y2="1087.8" stroke="#f5f0e0" stroke-width="1.2"/>
<line x1="1979.0" y1="1106.8" x2="1979.5" y2="1079.3" stroke="#222" stroke-width="2.2"/>
<line x1="1979.0" y1="1106.8" x2="1979.5" y2="1079.3" stroke="#9ad0e8" stroke-width="1.2"/>
<line x1="1982.0" y1="1111.6" x2="1982.5" y2="1073.9" stroke="#222" stroke-width="2.2"/>
<line x1="1982.0" y1="1111.6" x2="1982.5" y2="1073.9" stroke="#3d6fb0" stroke-width="1.2"/>
<line x1="1985.0" y1="1112.2" x2="1985.5" y2="1072.5" stroke="#222" stroke-width="2.2"/>
<line x1="1985.0" y1="1112.2" x2="1985.5" y2="1072.5" stroke="#c85a8a" stroke-width="1.2"/>
<line x1="1988.0" y1="1108.5" x2="1988.5" y2="1075.5" stroke="#222" stroke-width="2.2"/>
<line x1="1988.0" y1="1108.5" x2="1988.5" y2="1075.5" stroke="#3d6fb0" stroke-width="1.2"/>
<line x1="1991.0" y1="1101.2" x2="1991.5" y2="1082.1" stroke="#222" stroke-width="2.2"/>
<line x1="1991.0" y1="1101.2" x2="1991.5" y2="1082.1" stroke="#9ad0e8" stroke-width="1.2"/>
<line x1="1994.0" y1="1091.8" x2="1994.5" y2="1090.7" stroke="#222" stroke-width="2.2"/>
<line x1="1994.0" y1="1091.8" x2="1994.5" y2="1090.7" stroke="#f0d84a" stroke-width="1.2"/>
<line x1="1997.0" y1="1082.3" x2="1997.5" y2="1099.5" stroke="#222" stroke-width="2.2"/>
<line x1="1997.0" y1="1082.3" x2="1997.5" y2="1099.5" stroke="#f0d84a" stroke-width="1.2"/>
<line x1="2000.0" y1="1074.7" x2="2000.5" y2="1106.4" stroke="#222" stroke-width="2.2"/>
<line x1="2000.0" y1="1074.7" x2="2000.5" y2="1106.4" stroke="#9ad0e8" stroke-width="1.2"/>
<line x1="2003.0" y1="1070.5" x2="2003.5" y2="1109.9" stroke="#222" stroke-width="2.2"/>
<line x1="2003.0" y1="1070.5" x2="2003.5" y2="1109.9" stroke="#9ad0e8" stroke-width="1.2"/>
<path d="M1936.0,1109.3 L1936.8,1111.2 L1937.6,1112.9 L1938.4,1114.3 L1939.2,1115.5 L1940.0,1116.4 L1940.8,1117.0 L1941.6,1117.2 L1947.6,1117.2 L1946.8,1117.0 L1946.0,1116.4 L1945.2,1115.5 L1944.4,1114.3 L1943.6,1112.9 L1942.8,1111.2 L1942.0,1109.3 Z" fill="#b5ddb0" stroke="#111" stroke-width="0.9" stroke-linejoin="round"/>
<path d="M1962.4,1074.8 L1963.2,1075.0 L1964.0,1075.5 L1964.8,1076.2 L1965.6,1077.3 L1966.4,1078.6 L1967.2,1080.2 L1968.0,1082.0 L1968.8,1083.9 L1969.6,1086.1 L1970.4,1088.4 L1971.2,1090.7 L1972.0,1093.1 L1972.8,1095.5 L1973.6,1097.9 L1974.4,1100.2 L1975.2,1102.4 L1976.0,1104.5 L1976.8,1106.4 L1977.6,1108.1 L1978.4,1109.5 L1979.2,1110.7 L1980.0,1111.6 L1980.8,1112.2 L1981.6,1112.4 L1987.6,1112.4 L1986.8,1112.2 L1986.0,1111.6 L1985.2,1110.7 L1984.4,1109.5 L1983.6,1108.1 L1982.8,1106.4 L1982.0,1104.5 L1981.2,1102.4 L1980.4,1100.2 L1979.6,1097.9 L1978.8,1095.5 L1978.0,1093.1 L1977.2,1090.7 L1976.4,1088.4 L1975.6,1086.1 L1974.8,1083.9 L1974.0,1082.0 L1973.2,1080.2 L1972.4,1078.6 L1971.6,1077.3 L1970.8,1076.2 L1970.0,1075.5 L1969.2,1075.0 L1968.4,1074.8 Z" fill="#b5ddb0" stroke="#111" stroke-width="0.9" stroke-linejoin="round"/>
<path d="M2002.4,1070.0 L2003.2,1070.2 L2004.0,1070.7 L2010.0,1070.7 L2009.2,1070.2 L2008.4,1070.0 Z" fill="#b5ddb0" stroke="#111" stroke-width="0.9" stroke-linejoin="round"/>
<path d="M1942.4,1077.2 L1943.2,1077.4 L1944.0,1077.9 L1944.8,1078.6 L1945.6,1079.7 L1946.4,1081.0 L1947.2,1082.6 L1948.0,1084.4 L1948.8,1086.3 L1949.6,1088.5 L1950.4,1090.8 L1951.2,1093.1 L1952.0,1095.5 L1952.8,1097.9 L1953.6,1100.3 L1954.4,1102.6 L1955.2,1104.8 L1956.0,1106.9 L1956.8,1108.8 L1957.6,1110.5 L1958.4,1111.9 L1959.2,1113.1 L1960.0,1114.0 L1960.8,1114.6 L1961.6,1114.8 L1967.6,1114.8 L1966.8,1114.6 L1966.0,1114.0 L1965.2,1113.1 L1964.4,1111.9 L1963.6,1110.5 L1962.8,1108.8 L1962.0,1106.9 L1961.2,1104.8 L1960.4,1102.6 L1959.6,1100.3 L1958.8,1097.9 L1958.0,1095.5 L1957.2,1093.1 L1956.4,1090.8 L1955.6,1088.5 L1954.8,1086.3 L1954.0,1084.4 L1953.2,1082.6 L1952.4,1081.0 L1951.6,1079.7 L1950.8,1078.6 L1950.0,1077.9 L1949.2,1077.4 L1948.4,1077.2 Z" fill="#b5ddb0" stroke="#111" stroke-width="0.9" stroke-linejoin="round"/>
<path d="M1982.4,1072.4 L1983.2,1072.6 L1984.0,1073.1 L1984.8,1073.8 L1985.6,1074.9 L1986.4,1076.2 L1987.2,1077.8 L1988.0,1079.6 L1988.8,1081.5 L1989.6,1083.7 L1990.4,1086.0 L1991.2,1088.3 L1992.0,1090.7 L1992.8,1093.1 L1993.6,1095.5 L1994.4,1097.8 L1995.2,1100.0 L1996.0,1102.1 L1996.8,1104.0 L1997.6,1105.7 L1998.4,1107.1 L1999.2,1108.3 L2000.0,1109.2 L2000.8,1109.8 L2001.6,1110.0 L2007.6,1110.0 L2006.8,1109.8 L2006.0,1109.2 L2005.2,1108.3 L2004.4,1107.1 L2003.6,1105.7 L2002.8,1104.0 L2002.0,1102.1 L2001.2,1100.0 L2000.4,1097.8 L1999.6,1095.5 L1998.8,1093.1 L1998.0,1090.7 L1997.2,1088.3 L1996.4,1086.0 L1995.6,1083.7 L1994.8,1081.5 L1994.0,1079.6 L1993.2,1077.8 L1992.4,1076.2 L1991.6,1074.9 L1990.8,1073.8 L1990.0,1073.1 L1989.2,1072.6 L1988.4,1072.4 Z" fill="#b5ddb0" stroke="#111" stroke-width="0.9" stroke-linejoin="round"/>
<clipPath id="mh20"><rect x="2121.4" y="1029.4" width="51.0" height="214.5"/></clipPath>
<g clip-path="url(#mh20)">
<rect x="2140.8" y="1046.5" width="10.6" height="3.2" fill="#111"/>
<rect x="2140.8" y="1046.1" width="10.6" height="2.3" fill="#777777"/>
<rect x="2135.2" y="1050.0" width="10.1" height="3.2" fill="#111"/>
<rect x="2135.2" y="1049.6" width="10.1" height="2.3" fill="#e0306a"/>
<rect x="2133.4" y="1053.5" width="6.4" height="3.2" fill="#111"/>
<rect x="2133.4" y="1053.1" width="6.4" height="2.3" fill="#777777"/>
<rect x="2133.4" y="1066.2" width="8.2" height="3.2" fill="#111"/>
<rect x="2133.4" y="1065.8" width="8.2" height="2.3" fill="#f07f10"/>
<rect x="2136.1" y="1070.1" width="10.9" height="3.2" fill="#111"/>
<rect x="2136.1" y="1069.7" width="10.9" height="2.3" fill="#e0306a"/>
<rect x="2144.2" y="1073.9" width="8.1" height="3.2" fill="#111"/>
<rect x="2144.2" y="1073.5" width="8.1" height="2.3" fill="#20a8d0"/>
<rect x="2144.8" y="1077.8" width="13.0" height="3.2" fill="#111"/>
<rect x="2144.8" y="1077.4" width="13.0" height="2.3" fill="#1f2f8f"/>
<path d="M2132.4,1056.9 Q2149.5,1059.7 2162.4,1078.3 L2162.4,1083.3 Q2146.3,1067.2 2132.4,1061.4 Z" fill="#12aee8" stroke="#111" stroke-width="1"/>
<path d="M2162.4,1033.4 Q2141.7,1040.0 2132.4,1054.4 L2133.4,1057.9 Q2144.8,1048.4 2162.4,1040.4 Z" fill="#a2dcf5" stroke="#111" stroke-width="1"/>
<rect x="2143.9" y="1093.4" width="7.5" height="3.2" fill="#111"/>
<rect x="2143.9" y="1093.0" width="7.5" height="2.3" fill="#20a8d0"/>
<rect x="2134.5" y="1096.9" width="10.8" height="3.2" fill="#111"/>
<rect x="2134.5" y="1096.5" width="10.8" height="2.3" fill="#20a8d0"/>
<rect x="2133.4" y="1100.4" width="6.4" height="3.2" fill="#111"/>
<rect x="2133.4" y="1100.0" width="6.4" height="2.3" fill="#e0306a"/>
<rect x="2133.4" y="1113.1" width="8.2" height="3.2" fill="#111"/>
<rect x="2133.4" y="1112.7" width="8.2" height="2.3" fill="#f07f10"/>
<rect x="2137.3" y="1117.0" width="9.6" height="3.2" fill="#111"/>
<rect x="2137.3" y="1116.6" width="9.6" height="2.3" fill="#1f2f8f"/>
<rect x="2141.2" y="1120.8" width="11.1" height="3.2" fill="#111"/>
<rect x="2141.2" y="1120.4" width="11.1" height="2.3" fill="#20a8d0"/>
<rect x="2147.8" y="1124.7" width="10.0" height="3.2" fill="#111"/>
<rect x="2147.8" y="1124.3" width="10.0" height="2.3" fill="#e0306a"/>
<path d="M2132.4,1103.8 Q2149.5,1106.6 2162.4,1125.2 L2162.4,1130.2 Q2146.3,1114.1 2132.4,1108.3 Z" fill="#12aee8" stroke="#111" stroke-width="1"/>
<path d="M2162.4,1080.3 Q2141.7,1086.9 2132.4,1101.3 L2133.4,1104.8 Q2144.8,1095.3 2162.4,1087.3 Z" fill="#a2dcf5" stroke="#111" stroke-width="1"/>
<rect x="2142.1" y="1140.3" width="9.3" height="3.2" fill="#111"/>
<rect x="2142.1" y="1139.9" width="9.3" height="2.3" fill="#1f2f8f"/>
<rect x="2137.5" y="1143.8" width="7.8" height="3.2" fill="#111"/>
<rect x="2137.5" y="1143.4" width="7.8" height="2.3" fill="#1f2f8f"/>
<rect x="2133.4" y="1147.3" width="6.4" height="3.2" fill="#111"/>
<rect x="2133.4" y="1146.9" width="6.4" height="2.3" fill="#777777"/>
<rect x="2133.4" y="1160.0" width="8.2" height="3.2" fill="#111"/>
<rect x="2133.4" y="1159.6" width="8.2" height="2.3" fill="#f07f10"/>
<rect x="2138.2" y="1163.9" width="8.8" height="3.2" fill="#111"/>
<rect x="2138.2" y="1163.5" width="8.8" height="2.3" fill="#1f2f8f"/>
<rect x="2139.9" y="1167.7" width="12.5" height="3.2" fill="#111"/>
<rect x="2139.9" y="1167.3" width="12.5" height="2.3" fill="#f07f10"/>
<rect x="2146.3" y="1171.6" width="11.5" height="3.2" fill="#111"/>
<rect x="2146.3" y="1171.2" width="11.5" height="2.3" fill="#e0306a"/>
<path d="M2132.4,1150.7 Q2149.5,1153.5 2162.4,1172.1 L2162.4,1177.1 Q2146.3,1161.0 2132.4,1155.2 Z" fill="#12aee8" stroke="#111" stroke-width="1"/>
<path d="M2162.4,1127.2 Q2141.7,1133.8 2132.4,1148.2 L2133.4,1151.7 Q2144.8,1142.2 2162.4,1134.2 Z" fill="#a2dcf5" stroke="#111" stroke-width="1"/>
<rect x="2142.1" y="1187.2" width="9.3" height="3.2" fill="#111"/>
<rect x="2142.1" y="1186.8" width="9.3" height="2.3" fill="#1f2f8f"/>
<rect x="2138.3" y="1190.7" width="7.1" height="3.2" fill="#111"/>
<rect x="2138.3" y="1190.3" width="7.1" height="2.3" fill="#777777"/>
<rect x="2133.4" y="1194.2" width="6.4" height="3.2" fill="#111"/>
<rect x="2133.4" y="1193.8" width="6.4" height="2.3" fill="#f07f10"/>
<rect x="2133.4" y="1206.9" width="8.2" height="3.2" fill="#111"/>
<rect x="2133.4" y="1206.5" width="8.2" height="2.3" fill="#3848a0"/>
<rect x="2135.4" y="1210.8" width="11.6" height="3.2" fill="#111"/>
<rect x="2135.4" y="1210.4" width="11.6" height="2.3" fill="#e0306a"/>
<rect x="2139.8" y="1214.6" width="12.6" height="3.2" fill="#111"/>
<rect x="2139.8" y="1214.2" width="12.6" height="2.3" fill="#f07f10"/>
<rect x="2147.0" y="1218.5" width="10.8" height="3.2" fill="#111"/>
<rect x="2147.0" y="1218.1" width="10.8" height="2.3" fill="#20a8d0"/>
<path d="M2132.4,1197.6 Q2149.5,1200.4 2162.4,1219.0 L2162.4,1224.0 Q2146.3,1207.9 2132.4,1202.1 Z" fill="#12aee8" stroke="#111" stroke-width="1"/>
<path d="M2162.4,1174.1 Q2141.7,1180.7 2132.4,1195.1 L2133.4,1198.6 Q2144.8,1189.1 2162.4,1181.1 Z" fill="#a2dcf5" stroke="#111" stroke-width="1"/>
<rect x="2143.8" y="1234.1" width="7.6" height="3.2" fill="#111"/>
<rect x="2143.8" y="1233.7" width="7.6" height="2.3" fill="#20a8d0"/>
<rect x="2134.6" y="1237.6" width="10.7" height="3.2" fill="#111"/>
<rect x="2134.6" y="1237.2" width="10.7" height="2.3" fill="#1f2f8f"/>
<rect x="2133.4" y="1241.1" width="6.4" height="3.2" fill="#111"/>
<rect x="2133.4" y="1240.7" width="6.4" height="2.3" fill="#3848a0"/>
<rect x="2133.4" y="1253.8" width="8.2" height="3.2" fill="#111"/>
<rect x="2133.4" y="1253.4" width="8.2" height="2.3" fill="#3848a0"/>
<rect x="2138.7" y="1257.7" width="8.3" height="3.2" fill="#111"/>
<rect x="2138.7" y="1257.3" width="8.3" height="2.3" fill="#e0306a"/>
<rect x="2142.2" y="1261.5" width="10.2" height="3.2" fill="#111"/>
<rect x="2142.2" y="1261.1" width="10.2" height="2.3" fill="#e0306a"/>
<rect x="2145.6" y="1265.4" width="12.2" height="3.2" fill="#111"/>
<rect x="2145.6" y="1265.0" width="12.2" height="2.3" fill="#1f2f8f"/>
<path d="M2132.4,1244.5 Q2149.5,1247.3 2162.4,1265.9 L2162.4,1270.9 Q2146.3,1254.8 2132.4,1249.0 Z" fill="#12aee8" stroke="#111" stroke-width="1"/>
<path d="M2162.4,1221.0 Q2141.7,1227.6 2132.4,1242.0 L2133.4,1245.5 Q2144.8,1236.0 2162.4,1228.0 Z" fill="#a2dcf5" stroke="#111" stroke-width="1"/>
</g>
<clipPath id="mh21"><rect x="2163.5" y="1029.4" width="51.0" height="191.5999999999999"/></clipPath>
<g clip-path="url(#mh21)">
<rect x="2185.8" y="1046.5" width="7.7" height="3.2" fill="#111"/>
<rect x="2185.8" y="1046.1" width="7.7" height="2.3" fill="#777777"/>
<rect x="2178.8" y="1050.0" width="8.7" height="3.2" fill="#111"/>
<rect x="2178.8" y="1049.6" width="8.7" height="2.3" fill="#f07f10"/>
<rect x="2175.5" y="1053.5" width="6.4" height="3.2" fill="#111"/>
<rect x="2175.5" y="1053.1" width="6.4" height="2.3" fill="#e0306a"/>
<rect x="2175.5" y="1066.2" width="8.2" height="3.2" fill="#111"/>
<rect x="2175.5" y="1065.8" width="8.2" height="2.3" fill="#3848a0"/>
<rect x="2180.2" y="1070.1" width="8.9" height="3.2" fill="#111"/>
<rect x="2180.2" y="1069.7" width="8.9" height="2.3" fill="#3848a0"/>
<rect x="2185.3" y="1073.9" width="9.2" height="3.2" fill="#111"/>
<rect x="2185.3" y="1073.5" width="9.2" height="2.3" fill="#1f2f8f"/>
<rect x="2191.8" y="1077.8" width="8.1" height="3.2" fill="#111"/>
<rect x="2191.8" y="1077.4" width="8.1" height="2.3" fill="#3848a0"/>
<path d="M2174.5,1056.9 Q2191.6,1059.7 2204.5,1078.3 L2204.5,1083.3 Q2188.4,1067.2 2174.5,1061.4 Z" fill="#12aee8" stroke="#111" stroke-width="1"/>
<path d="M2204.5,1033.4 Q2183.8,1040.0 2174.5,1054.4 L2175.5,1057.9 Q2186.9,1048.4 2204.5,1040.4 Z" fill="#a2dcf5" stroke="#111" stroke-width="1"/>
<rect x="2184.8" y="1093.4" width="8.7" height="3.2" fill="#111"/>
<rect x="2184.8" y="1093.0" width="8.7" height="2.3" fill="#e0306a"/>
<rect x="2177.3" y="1096.9" width="10.2" height="3.2" fill="#111"/>
<rect x="2177.3" y="1096.5" width="10.2" height="2.3" fill="#e0306a"/>
<rect x="2175.5" y="1100.4" width="6.4" height="3.2" fill="#111"/>
<rect x="2175.5" y="1100.0" width="6.4" height="2.3" fill="#777777"/>
<rect x="2175.5" y="1113.1" width="8.2" height="3.2" fill="#111"/>
<rect x="2175.5" y="1112.7" width="8.2" height="2.3" fill="#777777"/>
<rect x="2177.2" y="1117.0" width="11.9" height="3.2" fill="#111"/>
<rect x="2177.2" y="1116.6" width="11.9" height="2.3" fill="#20a8d0"/>
<rect x="2183.4" y="1120.8" width="11.1" height="3.2" fill="#111"/>
<rect x="2183.4" y="1120.4" width="11.1" height="2.3" fill="#1f2f8f"/>
<rect x="2187.1" y="1124.7" width="12.8" height="3.2" fill="#111"/>
<rect x="2187.1" y="1124.3" width="12.8" height="2.3" fill="#3848a0"/>
<path d="M2174.5,1103.8 Q2191.6,1106.6 2204.5,1125.2 L2204.5,1130.2 Q2188.4,1114.1 2174.5,1108.3 Z" fill="#12aee8" stroke="#111" stroke-width="1"/>
<path d="M2204.5,1080.3 Q2183.8,1086.9 2174.5,1101.3 L2175.5,1104.8 Q2186.9,1095.3 2204.5,1087.3 Z" fill="#a2dcf5" stroke="#111" stroke-width="1"/>
<rect x="2184.5" y="1140.3" width="9.0" height="3.2" fill="#111"/>
<rect x="2184.5" y="1139.9" width="9.0" height="2.3" fill="#1f2f8f"/>
<rect x="2177.9" y="1143.8" width="9.6" height="3.2" fill="#111"/>
<rect x="2177.9" y="1143.4" width="9.6" height="2.3" fill="#f07f10"/>
<rect x="2175.5" y="1147.3" width="6.4" height="3.2" fill="#111"/>
<rect x="2175.5" y="1146.9" width="6.4" height="2.3" fill="#777777"/>
<rect x="2175.5" y="1160.0" width="8.2" height="3.2" fill="#111"/>
<rect x="2175.5" y="1159.6" width="8.2" height="2.3" fill="#1f2f8f"/>
<rect x="2178.8" y="1163.9" width="10.3" height="3.2" fill="#111"/>
<rect x="2178.8" y="1163.5" width="10.3" height="2.3" fill="#3848a0"/>
<rect x="2182.8" y="1167.7" width="11.6" height="3.2" fill="#111"/>
<rect x="2182.8" y="1167.3" width="11.6" height="2.3" fill="#20a8d0"/>
<rect x="2189.5" y="1171.6" width="10.4" height="3.2" fill="#111"/>
<rect x="2189.5" y="1171.2" width="10.4" height="2.3" fill="#e0306a"/>
<path d="M2174.5,1150.7 Q2191.6,1153.5 2204.5,1172.1 L2204.5,1177.1 Q2188.4,1161.0 2174.5,1155.2 Z" fill="#12aee8" stroke="#111" stroke-width="1"/>
<path d="M2204.5,1127.2 Q2183.8,1133.8 2174.5,1148.2 L2175.5,1151.7 Q2186.9,1142.2 2204.5,1134.2 Z" fill="#a2dcf5" stroke="#111" stroke-width="1"/>
<rect x="2183.8" y="1187.2" width="9.7" height="3.2" fill="#111"/>
<rect x="2183.8" y="1186.8" width="9.7" height="2.3" fill="#20a8d0"/>
<rect x="2177.0" y="1190.7" width="10.5" height="3.2" fill="#111"/>
<rect x="2177.0" y="1190.3" width="10.5" height="2.3" fill="#e0306a"/>
<rect x="2175.5" y="1194.2" width="6.4" height="3.2" fill="#111"/>
<rect x="2175.5" y="1193.8" width="6.4" height="2.3" fill="#e0306a"/>
<rect x="2175.5" y="1206.9" width="8.2" height="3.2" fill="#111"/>
<rect x="2175.5" y="1206.5" width="8.2" height="2.3" fill="#777777"/>
<rect x="2177.3" y="1210.8" width="11.8" height="3.2" fill="#111"/>
<rect x="2177.3" y="1210.4" width="11.8" height="2.3" fill="#3848a0"/>
<rect x="2181.5" y="1214.6" width="12.9" height="3.2" fill="#111"/>
<rect x="2181.5" y="1214.2" width="12.9" height="2.3" fill="#1f2f8f"/>
<rect x="2191.3" y="1218.5" width="8.6" height="3.2" fill="#111"/>
<rect x="2191.3" y="1218.1" width="8.6" height="2.3" fill="#20a8d0"/>
<path d="M2174.5,1197.6 Q2191.6,1200.4 2204.5,1219.0 L2204.5,1224.0 Q2188.4,1207.9 2174.5,1202.1 Z" fill="#12aee8" stroke="#111" stroke-width="1"/>
<path d="M2204.5,1174.1 Q2183.8,1180.7 2174.5,1195.1 L2175.5,1198.6 Q2186.9,1189.1 2204.5,1181.1 Z" fill="#a2dcf5" stroke="#111" stroke-width="1"/>
</g>
<clipPath id="mh22"><rect x="2205.6" y="1029.4" width="51.0" height="147.19999999999982"/></clipPath>
<g clip-path="url(#mh22)">
<rect x="2224.8" y="1046.5" width="10.8" height="3.2" fill="#111"/>
<rect x="2224.8" y="1046.1" width="10.8" height="2.3" fill="#e0306a"/>
<rect x="2221.6" y="1050.0" width="8.0" height="3.2" fill="#111"/>
<rect x="2221.6" y="1049.6" width="8.0" height="2.3" fill="#3848a0"/>
<rect x="2217.6" y="1053.5" width="6.4" height="3.2" fill="#111"/>
<rect x="2217.6" y="1053.1" width="6.4" height="2.3" fill="#e0306a"/>
<rect x="2217.6" y="1066.2" width="8.2" height="3.2" fill="#111"/>
<rect x="2217.6" y="1065.8" width="8.2" height="2.3" fill="#f07f10"/>
<rect x="2219.2" y="1070.1" width="12.0" height="3.2" fill="#111"/>
<rect x="2219.2" y="1069.7" width="12.0" height="2.3" fill="#1f2f8f"/>
<rect x="2227.4" y="1073.9" width="9.2" height="3.2" fill="#111"/>
<rect x="2227.4" y="1073.5" width="9.2" height="2.3" fill="#1f2f8f"/>
<rect x="2232.4" y="1077.8" width="9.6" height="3.2" fill="#111"/>
<rect x="2232.4" y="1077.4" width="9.6" height="2.3" fill="#3848a0"/>
<path d="M2216.6,1056.9 Q2233.7,1059.7 2246.6,1078.3 L2246.6,1083.3 Q2230.5,1067.2 2216.6,1061.4 Z" fill="#12aee8" stroke="#111" stroke-width="1"/>
<path d="M2246.6,1033.4 Q2225.9,1040.0 2216.6,1054.4 L2217.6,1057.9 Q2229.0,1048.4 2246.6,1040.4 Z" fill="#a2dcf5" stroke="#111" stroke-width="1"/>
<rect x="2227.9" y="1093.4" width="7.7" height="3.2" fill="#111"/>
<rect x="2227.9" y="1093.0" width="7.7" height="2.3" fill="#3848a0"/>
<rect x="2219.8" y="1096.9" width="9.7" height="3.2" fill="#111"/>
<rect x="2219.8" y="1096.5" width="9.7" height="2.3" fill="#20a8d0"/>
<rect x="2217.6" y="1100.4" width="6.4" height="3.2" fill="#111"/>
<rect x="2217.6" y="1100.0" width="6.4" height="2.3" fill="#1f2f8f"/>
<rect x="2217.7" y="1113.1" width="8.1" height="3.2" fill="#111"/>
<rect x="2217.7" y="1112.7" width="8.1" height="2.3" fill="#f07f10"/>
<rect x="2221.6" y="1117.0" width="9.6" height="3.2" fill="#111"/>
<rect x="2221.6" y="1116.6" width="9.6" height="2.3" fill="#e0306a"/>
<rect x="2227.7" y="1120.8" width="8.9" height="3.2" fill="#111"/>
<rect x="2227.7" y="1120.4" width="8.9" height="2.3" fill="#1f2f8f"/>
<rect x="2231.1" y="1124.7" width="10.9" height="3.2" fill="#111"/>
<rect x="2231.1" y="1124.3" width="10.9" height="2.3" fill="#777777"/>
<path d="M2216.6,1103.8 Q2233.7,1106.6 2246.6,1125.2 L2246.6,1130.2 Q2230.5,1114.1 2216.6,1108.3 Z" fill="#12aee8" stroke="#111" stroke-width="1"/>
<path d="M2246.6,1080.3 Q2225.9,1086.9 2216.6,1101.3 L2217.6,1104.8 Q2229.0,1095.3 2246.6,1087.3 Z" fill="#a2dcf5" stroke="#111" stroke-width="1"/>
<rect x="2225.5" y="1140.3" width="10.1" height="3.2" fill="#111"/>
<rect x="2225.5" y="1139.9" width="10.1" height="2.3" fill="#3848a0"/>
<rect x="2222.3" y="1143.8" width="7.2" height="3.2" fill="#111"/>
<rect x="2222.3" y="1143.4" width="7.2" height="2.3" fill="#f07f10"/>
<rect x="2217.6" y="1147.3" width="6.4" height="3.2" fill="#111"/>
<rect x="2217.6" y="1146.9" width="6.4" height="2.3" fill="#f07f10"/>
<rect x="2217.6" y="1160.0" width="8.2" height="3.2" fill="#111"/>
<rect x="2217.6" y="1159.6" width="8.2" height="2.3" fill="#777777"/>
<rect x="2220.6" y="1163.9" width="10.6" height="3.2" fill="#111"/>
<rect x="2220.6" y="1163.5" width="10.6" height="2.3" fill="#f07f10"/>
<rect x="2224.5" y="1167.7" width="12.1" height="3.2" fill="#111"/>
<rect x="2224.5" y="1167.3" width="12.1" height="2.3" fill="#777777"/>
<rect x="2230.5" y="1171.6" width="11.5" height="3.2" fill="#111"/>
<rect x="2230.5" y="1171.2" width="11.5" height="2.3" fill="#20a8d0"/>
<path d="M2216.6,1150.7 Q2233.7,1153.5 2246.6,1172.1 L2246.6,1177.1 Q2230.5,1161.0 2216.6,1155.2 Z" fill="#12aee8" stroke="#111" stroke-width="1"/>
<path d="M2246.6,1127.2 Q2225.9,1133.8 2216.6,1148.2 L2217.6,1151.7 Q2229.0,1142.2 2246.6,1134.2 Z" fill="#a2dcf5" stroke="#111" stroke-width="1"/>
<rect x="2228.4" y="1187.2" width="7.2" height="3.2" fill="#111"/>
<rect x="2228.4" y="1186.8" width="7.2" height="2.3" fill="#3848a0"/>
<rect x="2218.9" y="1190.7" width="10.6" height="3.2" fill="#111"/>
<rect x="2218.9" y="1190.3" width="10.6" height="2.3" fill="#20a8d0"/>
<rect x="2217.6" y="1194.2" width="6.4" height="3.2" fill="#111"/>
<rect x="2217.6" y="1193.8" width="6.4" height="2.3" fill="#3848a0"/>
<rect x="2217.6" y="1206.9" width="8.2" height="3.2" fill="#111"/>
<rect x="2217.6" y="1206.5" width="8.2" height="2.3" fill="#20a8d0"/>
<rect x="2219.9" y="1210.8" width="11.3" height="3.2" fill="#111"/>
<rect x="2219.9" y="1210.4" width="11.3" height="2.3" fill="#e0306a"/>
<rect x="2227.0" y="1214.6" width="9.5" height="3.2" fill="#111"/>
<rect x="2227.0" y="1214.2" width="9.5" height="2.3" fill="#f07f10"/>
<rect x="2232.0" y="1218.5" width="10.0" height="3.2" fill="#111"/>
<rect x="2232.0" y="1218.1" width="10.0" height="2.3" fill="#1f2f8f"/>
<path d="M2216.6,1197.6 Q2233.7,1200.4 2246.6,1219.0 L2246.6,1224.0 Q2230.5,1207.9 2216.6,1202.1 Z" fill="#12aee8" stroke="#111" stroke-width="1"/>
<path d="M2246.6,1174.1 Q2225.9,1180.7 2216.6,1195.1 L2217.6,1198.6 Q2229.0,1189.1 2246.6,1181.1 Z" fill="#a2dcf5" stroke="#111" stroke-width="1"/>
</g>
<clipPath id="mh23"><rect x="2254.9" y="1029.4" width="51.0" height="203.69999999999982"/></clipPath>
<g clip-path="url(#mh23)">
<rect x="2274.2" y="1046.5" width="10.7" height="3.2" fill="#111"/>
<rect x="2274.2" y="1046.1" width="10.7" height="2.3" fill="#f07f10"/>
<rect x="2268.3" y="1050.0" width="10.6" height="3.2" fill="#111"/>
<rect x="2268.3" y="1049.6" width="10.6" height="2.3" fill="#1f2f8f"/>
<rect x="2266.9" y="1053.5" width="6.4" height="3.2" fill="#111"/>
<rect x="2266.9" y="1053.1" width="6.4" height="2.3" fill="#f07f10"/>
<rect x="2266.9" y="1066.2" width="8.2" height="3.2" fill="#111"/>
<rect x="2266.9" y="1065.8" width="8.2" height="2.3" fill="#e0306a"/>
<rect x="2268.9" y="1070.1" width="11.6" height="3.2" fill="#111"/>
<rect x="2268.9" y="1069.7" width="11.6" height="2.3" fill="#f07f10"/>
<rect x="2275.7" y="1073.9" width="10.2" height="3.2" fill="#111"/>
<rect x="2275.7" y="1073.5" width="10.2" height="2.3" fill="#e0306a"/>
<rect x="2280.2" y="1077.8" width="11.1" height="3.2" fill="#111"/>
<rect x="2280.2" y="1077.4" width="11.1" height="2.3" fill="#1f2f8f"/>
<path d="M2265.9,1056.9 Q2283.0,1059.7 2295.9,1078.3 L2295.9,1083.3 Q2279.8,1067.2 2265.9,1061.4 Z" fill="#12aee8" stroke="#111" stroke-width="1"/>
<path d="M2295.9,1033.4 Q2275.2,1040.0 2265.9,1054.4 L2266.9,1057.9 Q2278.3,1048.4 2295.9,1040.4 Z" fill="#a2dcf5" stroke="#111" stroke-width="1"/>
<rect x="2277.5" y="1093.4" width="7.4" height="3.2" fill="#111"/>
<rect x="2277.5" y="1093.0" width="7.4" height="2.3" fill="#777777"/>
<rect x="2269.9" y="1096.9" width="9.0" height="3.2" fill="#111"/>
<rect x="2269.9" y="1096.5" width="9.0" height="2.3" fill="#1f2f8f"/>
<rect x="2266.9" y="1100.4" width="6.4" height="3.2" fill="#111"/>
<rect x="2266.9" y="1100.0" width="6.4" height="2.3" fill="#777777"/>
<rect x="2266.9" y="1113.1" width="8.2" height="3.2" fill="#111"/>
<rect x="2266.9" y="1112.7" width="8.2" height="2.3" fill="#e0306a"/>
<rect x="2268.6" y="1117.0" width="11.9" height="3.2" fill="#111"/>
<rect x="2268.6" y="1116.6" width="11.9" height="2.3" fill="#3848a0"/>
<rect x="2276.0" y="1120.8" width="9.8" height="3.2" fill="#111"/>
<rect x="2276.0" y="1120.4" width="9.8" height="2.3" fill="#e0306a"/>
<rect x="2280.2" y="1124.7" width="11.1" height="3.2" fill="#111"/>
<rect x="2280.2" y="1124.3" width="11.1" height="2.3" fill="#777777"/>
<path d="M2265.9,1103.8 Q2283.0,1106.6 2295.9,1125.2 L2295.9,1130.2 Q2279.8,1114.1 2265.9,1108.3 Z" fill="#12aee8" stroke="#111" stroke-width="1"/>
<path d="M2295.9,1080.3 Q2275.2,1086.9 2265.9,1101.3 L2266.9,1104.8 Q2278.3,1095.3 2295.9,1087.3 Z" fill="#a2dcf5" stroke="#111" stroke-width="1"/>
<rect x="2276.4" y="1140.3" width="8.5" height="3.2" fill="#111"/>
<rect x="2276.4" y="1139.9" width="8.5" height="2.3" fill="#f07f10"/>
<rect x="2268.0" y="1143.8" width="10.9" height="3.2" fill="#111"/>
<rect x="2268.0" y="1143.4" width="10.9" height="2.3" fill="#f07f10"/>
<rect x="2266.9" y="1147.3" width="6.4" height="3.2" fill="#111"/>
<rect x="2266.9" y="1146.9" width="6.4" height="2.3" fill="#f07f10"/>
<rect x="2266.9" y="1160.0" width="8.2" height="3.2" fill="#111"/>
<rect x="2266.9" y="1159.6" width="8.2" height="2.3" fill="#e0306a"/>
<rect x="2268.9" y="1163.9" width="11.6" height="3.2" fill="#111"/>
<rect x="2268.9" y="1163.5" width="11.6" height="2.3" fill="#3848a0"/>
<rect x="2273.9" y="1167.7" width="12.0" height="3.2" fill="#111"/>
<rect x="2273.9" y="1167.3" width="12.0" height="2.3" fill="#777777"/>
<rect x="2280.1" y="1171.6" width="11.2" height="3.2" fill="#111"/>
<rect x="2280.1" y="1171.2" width="11.2" height="2.3" fill="#e0306a"/>
<path d="M2265.9,1150.7 Q2283.0,1153.5 2295.9,1172.1 L2295.9,1177.1 Q2279.8,1161.0 2265.9,1155.2 Z" fill="#12aee8" stroke="#111" stroke-width="1"/>
<path d="M2295.9,1127.2 Q2275.2,1133.8 2265.9,1148.2 L2266.9,1151.7 Q2278.3,1142.2 2295.9,1134.2 Z" fill="#a2dcf5" stroke="#111" stroke-width="1"/>
<rect x="2274.7" y="1187.2" width="10.2" height="3.2" fill="#111"/>
<rect x="2274.7" y="1186.8" width="10.2" height="2.3" fill="#3848a0"/>
<rect x="2270.6" y="1190.7" width="8.3" height="3.2" fill="#111"/>
<rect x="2270.6" y="1190.3" width="8.3" height="2.3" fill="#3848a0"/>
<rect x="2266.9" y="1194.2" width="6.4" height="3.2" fill="#111"/>
<rect x="2266.9" y="1193.8" width="6.4" height="2.3" fill="#1f2f8f"/>
<rect x="2266.9" y="1206.9" width="8.2" height="3.2" fill="#111"/>
<rect x="2266.9" y="1206.5" width="8.2" height="2.3" fill="#3848a0"/>
<rect x="2271.1" y="1210.8" width="9.4" height="3.2" fill="#111"/>
<rect x="2271.1" y="1210.4" width="9.4" height="2.3" fill="#3848a0"/>
<rect x="2276.5" y="1214.6" width="9.4" height="3.2" fill="#111"/>
<rect x="2276.5" y="1214.2" width="9.4" height="2.3" fill="#3848a0"/>
<rect x="2281.6" y="1218.5" width="9.7" height="3.2" fill="#111"/>
<rect x="2281.6" y="1218.1" width="9.7" height="2.3" fill="#f07f10"/>
<path d="M2265.9,1197.6 Q2283.0,1200.4 2295.9,1219.0 L2295.9,1224.0 Q2279.8,1207.9 2265.9,1202.1 Z" fill="#12aee8" stroke="#111" stroke-width="1"/>
<path d="M2295.9,1174.1 Q2275.2,1180.7 2265.9,1195.1 L2266.9,1198.6 Q2278.3,1189.1 2295.9,1181.1 Z" fill="#a2dcf5" stroke="#111" stroke-width="1"/>
<rect x="2274.3" y="1234.1" width="10.6" height="3.2" fill="#111"/>
<rect x="2274.3" y="1233.7" width="10.6" height="2.3" fill="#3848a0"/>
<rect x="2270.6" y="1237.6" width="8.2" height="3.2" fill="#111"/>
<rect x="2270.6" y="1237.2" width="8.2" height="2.3" fill="#20a8d0"/>
<rect x="2266.9" y="1241.1" width="6.4" height="3.2" fill="#111"/>
<rect x="2266.9" y="1240.7" width="6.4" height="2.3" fill="#f07f10"/>
<rect x="2266.9" y="1253.8" width="8.2" height="3.2" fill="#111"/>
<rect x="2266.9" y="1253.4" width="8.2" height="2.3" fill="#1f2f8f"/>
<rect x="2268.9" y="1257.7" width="11.5" height="3.2" fill="#111"/>
<rect x="2268.9" y="1257.3" width="11.5" height="2.3" fill="#20a8d0"/>
<rect x="2276.7" y="1261.5" width="9.2" height="3.2" fill="#111"/>
<rect x="2276.7" y="1261.1" width="9.2" height="2.3" fill="#3848a0"/>
<rect x="2282.6" y="1265.4" width="8.7" height="3.2" fill="#111"/>
<rect x="2282.6" y="1265.0" width="8.7" height="2.3" fill="#777777"/>
<path d="M2265.9,1244.5 Q2283.0,1247.3 2295.9,1265.9 L2295.9,1270.9 Q2279.8,1254.8 2265.9,1249.0 Z" fill="#12aee8" stroke="#111" stroke-width="1"/>
<path d="M2295.9,1221.0 Q2275.2,1227.6 2265.9,1242.0 L2266.9,1245.5 Q2278.3,1236.0 2295.9,1228.0 Z" fill="#a2dcf5" stroke="#111" stroke-width="1"/>
</g>
<clipPath id="mh24"><rect x="2309" y="1029.4" width="51.0" height="161.5999999999999"/></clipPath>
<g clip-path="url(#mh24)">
<rect x="2329.1" y="1046.5" width="9.8" height="3.2" fill="#111"/>
<rect x="2329.1" y="1046.1" width="9.8" height="2.3" fill="#3848a0"/>
<rect x="2325.2" y="1050.0" width="7.7" height="3.2" fill="#111"/>
<rect x="2325.2" y="1049.6" width="7.7" height="2.3" fill="#e0306a"/>
<rect x="2321.0" y="1053.5" width="6.4" height="3.2" fill="#111"/>
<rect x="2321.0" y="1053.1" width="6.4" height="2.3" fill="#777777"/>
<rect x="2321.0" y="1066.2" width="8.2" height="3.2" fill="#111"/>
<rect x="2321.0" y="1065.8" width="8.2" height="2.3" fill="#e0306a"/>
<rect x="2322.5" y="1070.1" width="12.0" height="3.2" fill="#111"/>
<rect x="2322.5" y="1069.7" width="12.0" height="2.3" fill="#f07f10"/>
<rect x="2328.4" y="1073.9" width="11.6" height="3.2" fill="#111"/>
<rect x="2328.4" y="1073.5" width="11.6" height="2.3" fill="#1f2f8f"/>
<rect x="2335.2" y="1077.8" width="10.2" height="3.2" fill="#111"/>
<rect x="2335.2" y="1077.4" width="10.2" height="2.3" fill="#777777"/>
<path d="M2320.0,1056.9 Q2337.1,1059.7 2350.0,1078.3 L2350.0,1083.3 Q2333.9,1067.2 2320.0,1061.4 Z" fill="#12aee8" stroke="#111" stroke-width="1"/>
<path d="M2350.0,1033.4 Q2329.3,1040.0 2320.0,1054.4 L2321.0,1057.9 Q2332.4,1048.4 2350.0,1040.4 Z" fill="#a2dcf5" stroke="#111" stroke-width="1"/>
<rect x="2328.0" y="1093.4" width="11.0" height="3.2" fill="#111"/>
<rect x="2328.0" y="1093.0" width="11.0" height="2.3" fill="#1f2f8f"/>
<rect x="2325.8" y="1096.9" width="7.1" height="3.2" fill="#111"/>
<rect x="2325.8" y="1096.5" width="7.1" height="2.3" fill="#e0306a"/>
<rect x="2321.0" y="1100.4" width="6.4" height="3.2" fill="#111"/>
<rect x="2321.0" y="1100.0" width="6.4" height="2.3" fill="#777777"/>
<rect x="2321.0" y="1113.1" width="8.2" height="3.2" fill="#111"/>
<rect x="2321.0" y="1112.7" width="8.2" height="2.3" fill="#20a8d0"/>
<rect x="2321.8" y="1117.0" width="12.8" height="3.2" fill="#111"/>
<rect x="2321.8" y="1116.6" width="12.8" height="2.3" fill="#1f2f8f"/>
<rect x="2328.5" y="1120.8" width="11.4" height="3.2" fill="#111"/>
<rect x="2328.5" y="1120.4" width="11.4" height="2.3" fill="#f07f10"/>
<rect x="2333.2" y="1124.7" width="12.2" height="3.2" fill="#111"/>
<rect x="2333.2" y="1124.3" width="12.2" height="2.3" fill="#e0306a"/>
<path d="M2320.0,1103.8 Q2337.1,1106.6 2350.0,1125.2 L2350.0,1130.2 Q2333.9,1114.1 2320.0,1108.3 Z" fill="#12aee8" stroke="#111" stroke-width="1"/>
<path d="M2350.0,1080.3 Q2329.3,1086.9 2320.0,1101.3 L2321.0,1104.8 Q2332.4,1095.3 2350.0,1087.3 Z" fill="#a2dcf5" stroke="#111" stroke-width="1"/>
<rect x="2329.3" y="1140.3" width="9.7" height="3.2" fill="#111"/>
<rect x="2329.3" y="1139.9" width="9.7" height="2.3" fill="#f07f10"/>
<rect x="2325.7" y="1143.8" width="7.3" height="3.2" fill="#111"/>
<rect x="2325.7" y="1143.4" width="7.3" height="2.3" fill="#777777"/>
<rect x="2321.0" y="1147.3" width="6.4" height="3.2" fill="#111"/>
<rect x="2321.0" y="1146.9" width="6.4" height="2.3" fill="#1f2f8f"/>
<rect x="2321.0" y="1160.0" width="8.2" height="3.2" fill="#111"/>
<rect x="2321.0" y="1159.6" width="8.2" height="2.3" fill="#777777"/>
<rect x="2326.2" y="1163.9" width="8.3" height="3.2" fill="#111"/>
<rect x="2326.2" y="1163.5" width="8.3" height="2.3" fill="#1f2f8f"/>
<rect x="2330.8" y="1167.7" width="9.2" height="3.2" fill="#111"/>
<rect x="2330.8" y="1167.3" width="9.2" height="2.3" fill="#3848a0"/>
<rect x="2333.4" y="1171.6" width="12.0" height="3.2" fill="#111"/>
<rect x="2333.4" y="1171.2" width="12.0" height="2.3" fill="#20a8d0"/>
<path d="M2320.0,1150.7 Q2337.1,1153.5 2350.0,1172.1 L2350.0,1177.1 Q2333.9,1161.0 2320.0,1155.2 Z" fill="#12aee8" stroke="#111" stroke-width="1"/>
<path d="M2350.0,1127.2 Q2329.3,1133.8 2320.0,1148.2 L2321.0,1151.7 Q2332.4,1142.2 2350.0,1134.2 Z" fill="#a2dcf5" stroke="#111" stroke-width="1"/>
<rect x="2328.6" y="1187.2" width="10.4" height="3.2" fill="#111"/>
<rect x="2328.6" y="1186.8" width="10.4" height="2.3" fill="#f07f10"/>
<rect x="2323.7" y="1190.7" width="9.2" height="3.2" fill="#111"/>
<rect x="2323.7" y="1190.3" width="9.2" height="2.3" fill="#f07f10"/>
<rect x="2321.0" y="1194.2" width="6.4" height="3.2" fill="#111"/>
<rect x="2321.0" y="1193.8" width="6.4" height="2.3" fill="#1f2f8f"/>
<rect x="2321.0" y="1206.9" width="8.2" height="3.2" fill="#111"/>
<rect x="2321.0" y="1206.5" width="8.2" height="2.3" fill="#777777"/>
<rect x="2325.9" y="1210.8" width="8.7" height="3.2" fill="#111"/>
<rect x="2325.9" y="1210.4" width="8.7" height="2.3" fill="#20a8d0"/>
<rect x="2331.0" y="1214.6" width="9.0" height="3.2" fill="#111"/>
<rect x="2331.0" y="1214.2" width="9.0" height="2.3" fill="#3848a0"/>
<rect x="2332.5" y="1218.5" width="12.9" height="3.2" fill="#111"/>
<rect x="2332.5" y="1218.1" width="12.9" height="2.3" fill="#e0306a"/>
<path d="M2320.0,1197.6 Q2337.1,1200.4 2350.0,1219.0 L2350.0,1224.0 Q2333.9,1207.9 2320.0,1202.1 Z" fill="#12aee8" stroke="#111" stroke-width="1"/>
<path d="M2350.0,1174.1 Q2329.3,1180.7 2320.0,1195.1 L2321.0,1198.6 Q2332.4,1189.1 2350.0,1181.1 Z" fill="#a2dcf5" stroke="#111" stroke-width="1"/>
</g>
<clipPath id="mh25"><rect x="2360.8" y="1029.4" width="51.0" height="174.79999999999995"/></clipPath>
<g clip-path="url(#mh25)">
<rect x="2382.3" y="1046.5" width="8.5" height="3.2" fill="#111"/>
<rect x="2382.3" y="1046.1" width="8.5" height="2.3" fill="#1f2f8f"/>
<rect x="2376.9" y="1050.0" width="7.9" height="3.2" fill="#111"/>
<rect x="2376.9" y="1049.6" width="7.9" height="2.3" fill="#f07f10"/>
<rect x="2372.8" y="1053.5" width="6.4" height="3.2" fill="#111"/>
<rect x="2372.8" y="1053.1" width="6.4" height="2.3" fill="#1f2f8f"/>
<rect x="2372.8" y="1066.2" width="8.2" height="3.2" fill="#111"/>
<rect x="2372.8" y="1065.8" width="8.2" height="2.3" fill="#1f2f8f"/>
<rect x="2376.9" y="1070.1" width="9.5" height="3.2" fill="#111"/>
<rect x="2376.9" y="1069.7" width="9.5" height="2.3" fill="#20a8d0"/>
<rect x="2383.3" y="1073.9" width="8.5" height="3.2" fill="#111"/>
<rect x="2383.3" y="1073.5" width="8.5" height="2.3" fill="#1f2f8f"/>
<rect x="2386.3" y="1077.8" width="10.9" height="3.2" fill="#111"/>
<rect x="2386.3" y="1077.4" width="10.9" height="2.3" fill="#777777"/>
<path d="M2371.8,1056.9 Q2388.9,1059.7 2401.8,1078.3 L2401.8,1083.3 Q2385.8,1067.2 2371.8,1061.4 Z" fill="#12aee8" stroke="#111" stroke-width="1"/>
<path d="M2401.8,1033.4 Q2381.1,1040.0 2371.8,1054.4 L2372.8,1057.9 Q2384.2,1048.4 2401.8,1040.4 Z" fill="#a2dcf5" stroke="#111" stroke-width="1"/>
<rect x="2380.5" y="1093.4" width="10.3" height="3.2" fill="#111"/>
<rect x="2380.5" y="1093.0" width="10.3" height="2.3" fill="#3848a0"/>
<rect x="2373.9" y="1096.9" width="10.9" height="3.2" fill="#111"/>
<rect x="2373.9" y="1096.5" width="10.9" height="2.3" fill="#3848a0"/>
<rect x="2372.8" y="1100.4" width="6.4" height="3.2" fill="#111"/>
<rect x="2372.8" y="1100.0" width="6.4" height="2.3" fill="#e0306a"/>
<rect x="2372.8" y="1113.1" width="8.2" height="3.2" fill="#111"/>
<rect x="2372.8" y="1112.7" width="8.2" height="2.3" fill="#3848a0"/>
<rect x="2377.9" y="1117.0" width="8.5" height="3.2" fill="#111"/>
<rect x="2377.9" y="1116.6" width="8.5" height="2.3" fill="#777777"/>
<rect x="2380.4" y="1120.8" width="11.4" height="3.2" fill="#111"/>
<rect x="2380.4" y="1120.4" width="11.4" height="2.3" fill="#3848a0"/>
<rect x="2386.3" y="1124.7" width="10.9" height="3.2" fill="#111"/>
<rect x="2386.3" y="1124.3" width="10.9" height="2.3" fill="#20a8d0"/>
<path d="M2371.8,1103.8 Q2388.9,1106.6 2401.8,1125.2 L2401.8,1130.2 Q2385.8,1114.1 2371.8,1108.3 Z" fill="#12aee8" stroke="#111" stroke-width="1"/>
<path d="M2401.8,1080.3 Q2381.1,1086.9 2371.8,1101.3 L2372.8,1104.8 Q2384.2,1095.3 2401.8,1087.3 Z" fill="#a2dcf5" stroke="#111" stroke-width="1"/>
<rect x="2382.4" y="1140.3" width="8.4" height="3.2" fill="#111"/>
<rect x="2382.4" y="1139.9" width="8.4" height="2.3" fill="#777777"/>
<rect x="2377.1" y="1143.8" width="7.6" height="3.2" fill="#111"/>
<rect x="2377.1" y="1143.4" width="7.6" height="2.3" fill="#20a8d0"/>
<rect x="2372.8" y="1147.3" width="6.4" height="3.2" fill="#111"/>
<rect x="2372.8" y="1146.9" width="6.4" height="2.3" fill="#20a8d0"/>
<rect x="2372.8" y="1160.0" width="8.2" height="3.2" fill="#111"/>
<rect x="2372.8" y="1159.6" width="8.2" height="2.3" fill="#e0306a"/>
<rect x="2374.7" y="1163.9" width="11.6" height="3.2" fill="#111"/>
<rect x="2374.7" y="1163.5" width="11.6" height="2.3" fill="#1f2f8f"/>
<rect x="2381.1" y="1167.7" width="10.7" height="3.2" fill="#111"/>
<rect x="2381.1" y="1167.3" width="10.7" height="2.3" fill="#1f2f8f"/>
<rect x="2385.1" y="1171.6" width="12.1" height="3.2" fill="#111"/>
<rect x="2385.1" y="1171.2" width="12.1" height="2.3" fill="#e0306a"/>
<path d="M2371.8,1150.7 Q2388.9,1153.5 2401.8,1172.1 L2401.8,1177.1 Q2385.8,1161.0 2371.8,1155.2 Z" fill="#12aee8" stroke="#111" stroke-width="1"/>
<path d="M2401.8,1127.2 Q2381.1,1133.8 2371.8,1148.2 L2372.8,1151.7 Q2384.2,1142.2 2401.8,1134.2 Z" fill="#a2dcf5" stroke="#111" stroke-width="1"/>
<rect x="2380.7" y="1187.2" width="10.1" height="3.2" fill="#111"/>
<rect x="2380.7" y="1186.8" width="10.1" height="2.3" fill="#3848a0"/>
<rect x="2376.0" y="1190.7" width="8.8" height="3.2" fill="#111"/>
<rect x="2376.0" y="1190.3" width="8.8" height="2.3" fill="#20a8d0"/>
<rect x="2372.8" y="1194.2" width="6.4" height="3.2" fill="#111"/>
<rect x="2372.8" y="1193.8" width="6.4" height="2.3" fill="#777777"/>
<rect x="2372.8" y="1206.9" width="8.2" height="3.2" fill="#111"/>
<rect x="2372.8" y="1206.5" width="8.2" height="2.3" fill="#20a8d0"/>
<rect x="2377.0" y="1210.8" width="9.4" height="3.2" fill="#111"/>
<rect x="2377.0" y="1210.4" width="9.4" height="2.3" fill="#1f2f8f"/>
<rect x="2378.8" y="1214.6" width="12.9" height="3.2" fill="#111"/>
<rect x="2378.8" y="1214.2" width="12.9" height="2.3" fill="#20a8d0"/>
<rect x="2386.0" y="1218.5" width="11.1" height="3.2" fill="#111"/>
<rect x="2386.0" y="1218.1" width="11.1" height="2.3" fill="#20a8d0"/>
<path d="M2371.8,1197.6 Q2388.9,1200.4 2401.8,1219.0 L2401.8,1224.0 Q2385.8,1207.9 2371.8,1202.1 Z" fill="#12aee8" stroke="#111" stroke-width="1"/>
<path d="M2401.8,1174.1 Q2381.1,1180.7 2371.8,1195.1 L2372.8,1198.6 Q2384.2,1189.1 2401.8,1181.1 Z" fill="#a2dcf5" stroke="#111" stroke-width="1"/>
</g>
<line x1="2437" y1="1082" x2="2495" y2="1153" stroke="#4c6e9c" stroke-width="13.5"/>
<line x1="2495" y1="1082" x2="2437" y2="1153" stroke="#4c6e9c" stroke-width="13.5"/>
<line x1="2437" y1="1082" x2="2495" y2="1153" stroke="#ff0000" stroke-width="11"/>
<line x1="2495" y1="1082" x2="2437" y2="1153" stroke="#ff0000" stroke-width="11"/>
<path d="M2629.0,1062.7 C2634.9,1062.7 2640.7,1064.1 2645.0,1067.0 C2649.3,1069.9 2650.3,1072.4 2652.4,1078.4 C2654.5,1084.5 2655.9,1093.8 2656.2,1100.0 C2656.5,1106.2 2655.5,1106.7 2654.0,1112.0 C2652.5,1117.3 2650.7,1123.5 2648.1,1129.0 C2645.5,1134.5 2643.5,1138.8 2640.0,1142.0 C2636.5,1145.2 2633.0,1146.2 2629.0,1146.2 C2625.0,1146.2 2621.5,1145.2 2618.0,1142.0 C2614.5,1138.8 2612.5,1134.5 2609.9,1129.0 C2607.3,1123.5 2605.4,1117.3 2604.0,1112.0 C2602.6,1106.7 2601.8,1106.2 2602.2,1100.0 C2602.6,1093.8 2604.0,1084.5 2606.0,1078.4 C2608.0,1072.4 2608.8,1069.9 2613.0,1067.0 C2617.2,1064.1 2623.1,1062.7 2629.0,1062.7 Z" fill="#8d7db0" stroke="#111" stroke-width="1.3"/>
<path d="M2609,1076 Q2615,1066 2629,1065 Q2620,1070 2612,1080 Z" fill="#c9bfe0" opacity="0.8"/>
<path d="M2606,1098 Q2605,1112 2611,1128" fill="none" stroke="#c9bfe0" stroke-width="1.5" opacity="0.8"/>
<path d="M2614,1120.5 L2644.3,1120.5 L2644.3,1135.7 L2633,1135.7 Q2629,1130 2625,1135.7 L2613.7,1135.7 Z" fill="#d4a9be" stroke="#111" stroke-width="1.4" stroke-linejoin="round"/>
<line x1="2617.3" y1="1087" x2="2617.3" y2="1120" stroke="#111" stroke-width="3"/>
<line x1="2617.3" y1="1087" x2="2617.3" y2="1103" stroke="#2a3a8a" stroke-width="1.6"/><line x1="2617.3" y1="1104" x2="2617.3" y2="1119" stroke="#3ab0c8" stroke-width="1.6"/>
<line x1="2628.8" y1="1087" x2="2628.8" y2="1120" stroke="#111" stroke-width="3"/>
<line x1="2628.8" y1="1087" x2="2628.8" y2="1103" stroke="#d8305a" stroke-width="1.6"/><line x1="2628.8" y1="1104" x2="2628.8" y2="1119" stroke="#f08a1e" stroke-width="1.6"/>
<line x1="2640" y1="1087" x2="2640" y2="1120" stroke="#111" stroke-width="3"/>
<line x1="2640" y1="1087" x2="2640" y2="1103" stroke="#f08a1e" stroke-width="1.6"/><line x1="2640" y1="1104" x2="2640" y2="1119" stroke="#d8305a" stroke-width="1.6"/>
<line x1="2577" y1="1070.9" x2="2574" y2="1082.9" stroke="#111" stroke-width="3"/><line x1="2577" y1="1070.9" x2="2574" y2="1082.4" stroke="#2a3a8a" stroke-width="1.6"/>
<line x1="2590" y1="1076.5" x2="2587" y2="1088.5" stroke="#111" stroke-width="3"/><line x1="2590" y1="1076.5" x2="2587" y2="1088.0" stroke="#d8305a" stroke-width="1.6"/>
<line x1="2603" y1="1084.1" x2="2600" y2="1096.1" stroke="#111" stroke-width="3"/><line x1="2603" y1="1084.1" x2="2600" y2="1095.6" stroke="#d8305a" stroke-width="1.6"/>
<line x1="2653.8" y1="1084.2" x2="2654.8" y2="1096.2" stroke="#111" stroke-width="3"/><line x1="2653.8" y1="1084.2" x2="2654.8" y2="1095.7" stroke="#f08a1e" stroke-width="1.6"/>
<line x1="2668.6" y1="1080.2" x2="2669.6" y2="1092.2" stroke="#111" stroke-width="3"/><line x1="2668.6" y1="1080.2" x2="2669.6" y2="1091.7" stroke="#f08a1e" stroke-width="1.6"/>
<line x1="2682" y1="1076.6" x2="2683" y2="1088.6" stroke="#111" stroke-width="3"/><line x1="2682" y1="1076.6" x2="2683" y2="1088.1" stroke="#3ab0c8" stroke-width="1.6"/>
<line x1="2695.4" y1="1073.3" x2="2696.4" y2="1085.3" stroke="#111" stroke-width="3"/><line x1="2695.4" y1="1073.3" x2="2696.4" y2="1084.8" stroke="#d8305a" stroke-width="1.6"/>
<line x1="2709.7" y1="1070.0" x2="2710.7" y2="1082.0" stroke="#111" stroke-width="3"/><line x1="2709.7" y1="1070.0" x2="2710.7" y2="1081.5" stroke="#2a3a8a" stroke-width="1.6"/>
<line x1="2723" y1="1067.1" x2="2724" y2="1079.1" stroke="#111" stroke-width="3"/><line x1="2723" y1="1067.1" x2="2724" y2="1078.6" stroke="#3ab0c8" stroke-width="1.6"/>
<line x1="2737.8" y1="1070.0" x2="2738.8" y2="1082.0" stroke="#111" stroke-width="3"/><line x1="2737.8" y1="1070.0" x2="2738.8" y2="1081.5" stroke="#d8305a" stroke-width="1.6"/>
<line x1="2753.6" y1="1072.4" x2="2754.6" y2="1084.4" stroke="#111" stroke-width="3"/><line x1="2753.6" y1="1072.4" x2="2754.6" y2="1083.9" stroke="#3ab0c8" stroke-width="1.6"/>
<line x1="2768.9" y1="1070.7" x2="2769.9" y2="1082.7" stroke="#111" stroke-width="3"/><line x1="2768.9" y1="1070.7" x2="2769.9" y2="1082.2" stroke="#2a3a8a" stroke-width="1.6"/>
<path d="M2572.6,1069.4 C2574.3,1069.6 2575.1,1067.5 2581.2,1070.3 C2587.3,1073.1 2593.6,1080.1 2603.2,1083.2 C2612.8,1086.3 2618.9,1086.0 2629.0,1086.0 C2639.1,1086.0 2641.8,1085.7 2653.8,1083.2 C2665.8,1080.7 2675.4,1077.1 2689.2,1073.7 C2703.0,1070.3 2710.2,1066.4 2722.6,1066.0 C2735.0,1065.6 2738.8,1071.3 2751.2,1071.7 C2763.6,1072.1 2778.0,1068.7 2784.7,1067.9" fill="none" stroke="#111" stroke-width="5" stroke-linecap="round"/><path d="M2572.6,1069.4 C2574.3,1069.6 2575.1,1067.5 2581.2,1070.3 C2587.3,1073.1 2593.6,1080.1 2603.2,1083.2 C2612.8,1086.3 2618.9,1086.0 2629.0,1086.0 C2639.1,1086.0 2641.8,1085.7 2653.8,1083.2 C2665.8,1080.7 2675.4,1077.1 2689.2,1073.7 C2703.0,1070.3 2710.2,1066.4 2722.6,1066.0 C2735.0,1065.6 2738.8,1071.3 2751.2,1071.7 C2763.6,1072.1 2778.0,1068.7 2784.7,1067.9" fill="none" stroke="#8fd4f0" stroke-width="3.4" stroke-linecap="round"/>
<path d="M1004.0,1462.5 L1000.2,1462.5 L996.4,1462.3 L992.7,1462.0 L988.9,1461.4 L985.2,1460.6 L981.5,1459.7 L977.9,1458.6 L974.3,1457.2 L970.9,1455.7 L967.5,1454.0 L964.2,1452.1 L961.0,1450.1 L957.9,1447.9 L954.9,1445.5 L952.1,1443.0 L949.3,1440.4 L946.8,1437.6 L944.4,1434.6 L942.1,1431.6 L940.0,1428.4 L938.1,1425.1 L960.4,1412.8 L961.6,1414.9 L963.0,1417.0 L964.5,1418.9 L966.0,1420.8 L967.7,1422.6 L969.4,1424.4 L971.3,1426.0 L973.2,1427.5 L975.2,1429.0 L977.3,1430.3 L979.4,1431.5 L981.6,1432.6 L983.9,1433.6 L986.2,1434.4 L988.5,1435.2 L990.9,1435.8 L993.3,1436.3 L995.8,1436.6 L998.2,1436.9 L1000.7,1437.0 L1003.1,1437.0 Z" fill="#a9d18e"/>
<path d="M938.7,1426.2 L936.9,1422.9 L935.2,1419.4 L933.8,1415.9 L932.5,1412.2 L931.4,1408.6 L930.5,1404.8 L929.8,1401.1 L929.4,1397.3 L929.1,1393.4 L929.0,1389.6 L929.1,1385.8 L929.5,1381.9 L930.0,1378.1 L930.7,1374.4 L931.6,1370.6 L932.8,1367.0 L934.1,1363.4 L935.6,1359.8 L937.3,1356.4 L939.1,1353.0 L941.2,1349.8 L943.4,1346.7 L945.8,1343.6 L948.3,1340.8 L951.0,1338.0 L953.8,1335.4 L956.7,1333.0 L959.8,1330.7 L963.0,1328.6 L966.3,1326.6 L969.7,1324.8 L980.9,1347.8 L978.7,1348.9 L976.5,1350.2 L974.5,1351.5 L972.5,1353.0 L970.6,1354.6 L968.7,1356.3 L967.0,1358.1 L965.4,1360.0 L963.8,1361.9 L962.4,1363.9 L961.1,1366.0 L959.9,1368.2 L958.8,1370.4 L957.8,1372.7 L956.9,1375.1 L956.2,1377.5 L955.6,1379.9 L955.1,1382.3 L954.8,1384.8 L954.6,1387.2 L954.5,1389.7 L954.6,1392.2 L954.7,1394.7 L955.1,1397.2 L955.5,1399.6 L956.1,1402.0 L956.8,1404.4 L957.6,1406.8 L958.5,1409.1 L959.6,1411.3 L960.8,1413.5 Z" fill="#ffff00"/>
<path d="M968.6,1325.4 L972.0,1323.8 L975.5,1322.3 L979.1,1321.0 L982.7,1320.0 L986.4,1319.1 L990.2,1318.4 L993.9,1317.9 L997.7,1317.6 L1001.5,1317.5 L1005.3,1317.6 L1009.1,1317.9 L1012.8,1318.4 L1016.6,1319.1 L1020.3,1320.0 L1023.9,1321.0 L1016.0,1345.3 L1013.7,1344.6 L1011.3,1344.0 L1008.9,1343.6 L1006.4,1343.3 L1004.0,1343.1 L1001.5,1343.0 L999.0,1343.1 L996.6,1343.3 L994.1,1343.6 L991.7,1344.0 L989.3,1344.6 L987.0,1345.3 L984.7,1346.1 L982.4,1347.1 L980.2,1348.1 Z" fill="#ff0000"/>
<path d="M1022.7,1320.7 L1026.3,1321.9 L1029.8,1323.3 L1033.3,1324.8 L1036.6,1326.6 L1039.9,1328.5 L1043.1,1330.6 L1046.1,1332.9 L1049.1,1335.3 L1051.9,1337.8 L1054.5,1340.6 L1057.0,1343.4 L1059.4,1346.4 L1061.6,1349.5 L1063.6,1352.7 L1065.5,1356.0 L1067.2,1359.4 L1068.7,1362.8 L1070.1,1366.4 L1071.2,1370.0 L1072.1,1373.7 L1072.9,1377.4 L1073.5,1381.2 L1073.8,1384.9 L1074.0,1388.7 L1074.0,1392.5 L1073.7,1396.3 L1073.3,1400.1 L1072.7,1403.8 L1071.8,1407.5 L1070.8,1411.2 L1069.6,1414.8 L1068.2,1418.3 L1066.7,1421.8 L1064.9,1425.1 L1063.0,1428.4 L1060.9,1431.6 L1058.6,1434.6 L1056.2,1437.6 L1053.7,1440.4 L1050.9,1443.0 L1048.1,1445.5 L1045.1,1447.9 L1042.0,1450.1 L1038.8,1452.1 L1035.5,1454.0 L1032.1,1455.7 L1028.7,1457.2 L1025.1,1458.6 L1021.5,1459.7 L1017.8,1460.6 L1014.1,1461.4 L1010.3,1462.0 L1006.6,1462.3 L1002.8,1462.5 L1002.3,1437.0 L1004.8,1436.9 L1007.2,1436.6 L1009.7,1436.3 L1012.1,1435.8 L1014.5,1435.2 L1016.8,1434.4 L1019.1,1433.6 L1021.4,1432.6 L1023.6,1431.5 L1025.7,1430.3 L1027.8,1429.0 L1029.8,1427.5 L1031.7,1426.0 L1033.6,1424.4 L1035.3,1422.6 L1037.0,1420.8 L1038.5,1418.9 L1040.0,1417.0 L1041.4,1414.9 L1042.6,1412.8 L1043.7,1410.6 L1044.8,1408.4 L1045.7,1406.1 L1046.4,1403.7 L1047.1,1401.4 L1047.6,1399.0 L1048.0,1396.5 L1048.3,1394.1 L1048.5,1391.6 L1048.5,1389.2 L1048.4,1386.7 L1048.1,1384.3 L1047.8,1381.8 L1047.3,1379.4 L1046.7,1377.0 L1045.9,1374.7 L1045.1,1372.4 L1044.1,1370.1 L1043.0,1367.9 L1041.8,1365.8 L1040.5,1363.7 L1039.0,1361.7 L1037.5,1359.8 L1035.9,1357.9 L1034.1,1356.2 L1032.3,1354.5 L1030.4,1353.0 L1028.5,1351.5 L1026.4,1350.1 L1024.3,1348.9 L1022.1,1347.8 L1019.9,1346.7 L1017.6,1345.8 L1015.2,1345.1 Z" fill="#5b9bd5"/>
<path d="M1007.2,1471.3 L978.9,1452.0 L1004.3,1430.4 Z" fill="#5b9bd5"/>
<path d="M933.7,1432.4 L941.7,1395.2 L966.7,1411.7 Z" fill="#a9d18e"/>
<path d="M962.2,1319.2 L998.3,1329.1 L980.9,1352.8 Z" fill="#ffff00"/>
<path d="M1022.2,1312.7 L1042.4,1339.5 L1012.0,1351.0 Z" fill="#ff0000"/>
<path d="M1057,1438 Q1061,1451 1069,1455 L1066,1468 Q1052,1463 1044,1449 Z" fill="#bdd7ee"/>
<path d="M1070.3,1448.2 L1075.8,1464.8 L1063.7,1476.9 Z" fill="#bdd7ee"/>
<text x="1002.30" y="1339.30" font-size="27.33" font-weight="bold" fill="#000" textLength="21.60" lengthAdjust="spacingAndGlyphs" >M</text>
<text x="941.00" y="1364.20" font-size="25.73" font-weight="bold" fill="#000" textLength="17.10" lengthAdjust="spacingAndGlyphs" >G</text>
<text x="960.30" y="1371.30" font-size="15.99" font-weight="normal" fill="#000" textLength="8.30" lengthAdjust="spacingAndGlyphs" >2</text>
<text x="1048.80" y="1399.00" font-size="25.00" font-weight="bold" fill="#000" textLength="17.10" lengthAdjust="spacingAndGlyphs" >G</text>
<text x="1068.10" y="1406.20" font-size="16.13" font-weight="normal" fill="#000" textLength="8.30" lengthAdjust="spacingAndGlyphs" >1</text>
<text x="954.80" y="1442.60" font-size="25.58" font-weight="bold" fill="#000" textLength="11.60" lengthAdjust="spacingAndGlyphs" >S</text>
<text x="1075.90" y="1448.70" font-size="25.73" font-weight="normal" fill="#000" textLength="16.50" lengthAdjust="spacingAndGlyphs" >G</text>
<text x="1094.10" y="1454.80" font-size="17.73" font-weight="normal" fill="#000" textLength="8.80" lengthAdjust="spacingAndGlyphs" >0</text>
<path d="M1303.3,1436.7 L1301.0,1433.7 L1298.9,1430.6 L1296.9,1427.4 L1295.2,1424.1 L1293.6,1420.7 L1292.2,1417.3 L1291.0,1413.8 L1290.0,1410.2 L1289.2,1406.6 L1288.7,1403.0 L1314.1,1400.1 L1314.5,1402.5 L1315.0,1404.9 L1315.6,1407.2 L1316.4,1409.5 L1317.3,1411.8 L1318.4,1414.1 L1319.6,1416.2 L1320.8,1418.3 L1322.2,1420.4 L1323.8,1422.4 Z" fill="#a9d18e"/>
<path d="M1288.8,1404.2 L1288.4,1400.5 L1288.1,1396.9 L1288.1,1393.2 L1288.3,1389.5 L1288.7,1385.8 L1289.2,1382.2 L1290.0,1378.6 L1291.0,1375.0 L1292.2,1371.5 L1293.6,1368.1 L1295.2,1364.7 L1318.4,1374.7 L1317.3,1377.0 L1316.4,1379.3 L1315.6,1381.6 L1315.0,1383.9 L1314.5,1386.3 L1314.1,1388.7 L1313.8,1391.2 L1313.7,1393.6 L1313.7,1396.0 L1313.9,1398.5 L1314.2,1400.9 Z" fill="#ffff00"/>
<path d="M1294.6,1365.8 L1296.4,1362.4 L1298.4,1359.0 L1300.5,1355.8 L1302.9,1352.6 L1305.4,1349.6 L1308.1,1346.8 L1311.0,1344.0 L1314.0,1341.4 L1317.2,1339.0 L1332.9,1357.8 L1330.8,1359.4 L1328.8,1361.1 L1326.9,1362.9 L1325.1,1364.8 L1323.5,1366.8 L1321.9,1368.8 L1320.5,1371.0 L1319.2,1373.2 L1318.0,1375.5 Z" fill="#ff0000"/>
<path d="M1316.1,1339.8 L1319.3,1337.5 L1322.5,1335.4 L1325.9,1333.5 L1329.4,1331.8 L1333.0,1330.2 L1336.6,1328.8 L1340.3,1327.5 L1344.1,1326.5 L1348.0,1325.6 L1351.9,1325.0 L1355.8,1324.5 L1359.7,1324.2 L1363.7,1324.1 L1367.7,1324.2 L1371.6,1324.5 L1375.5,1325.0 L1379.4,1325.6 L1383.3,1326.5 L1387.1,1327.5 L1390.8,1328.8 L1394.4,1330.2 L1398.0,1331.8 L1401.5,1333.5 L1404.9,1335.4 L1408.1,1337.5 L1411.3,1339.8 L1414.3,1342.2 L1417.2,1344.7 L1419.9,1347.4 L1422.5,1350.2 L1424.9,1353.1 L1427.1,1356.1 L1429.2,1359.2 L1431.1,1362.5 L1432.8,1365.8 L1434.3,1369.2 L1435.6,1372.7 L1436.7,1376.2 L1437.6,1379.8 L1438.4,1383.4 L1438.9,1387.1 L1439.2,1390.7 L1439.3,1394.4 L1439.2,1398.1 L1438.9,1401.7 L1438.4,1405.4 L1437.6,1409.0 L1436.7,1412.6 L1435.6,1416.1 L1434.3,1419.6 L1432.8,1423.0 L1431.1,1426.3 L1429.2,1429.6 L1427.1,1432.7 L1424.9,1435.7 L1422.5,1438.6 L1419.9,1441.4 L1417.2,1444.1 L1414.3,1446.6 L1411.3,1449.0 L1408.1,1451.3 L1404.9,1453.4 L1401.5,1455.3 L1398.0,1457.0 L1394.4,1458.6 L1390.8,1460.0 L1387.1,1461.3 L1383.3,1462.3 L1379.4,1463.2 L1375.5,1463.8 L1371.6,1464.3 L1367.7,1464.6 L1363.7,1464.7 L1359.7,1464.6 L1355.8,1464.3 L1351.9,1463.8 L1348.0,1463.2 L1344.1,1462.3 L1340.3,1461.3 L1336.6,1460.0 L1333.0,1458.6 L1329.4,1457.0 L1325.9,1455.3 L1322.5,1453.4 L1319.3,1451.3 L1316.1,1449.0 L1313.1,1446.6 L1310.2,1444.1 L1307.5,1441.4 L1304.9,1438.6 L1302.5,1435.7 L1323.2,1421.7 L1324.8,1423.7 L1326.5,1425.5 L1328.3,1427.3 L1330.2,1429.0 L1332.2,1430.5 L1334.3,1432.0 L1336.5,1433.4 L1338.7,1434.7 L1341.0,1435.8 L1343.4,1436.9 L1345.8,1437.8 L1348.2,1438.6 L1350.8,1439.3 L1353.3,1439.9 L1355.9,1440.3 L1358.5,1440.6 L1361.1,1440.8 L1363.7,1440.9 L1366.3,1440.8 L1368.9,1440.6 L1371.5,1440.3 L1374.1,1439.9 L1376.6,1439.3 L1379.2,1438.6 L1381.6,1437.8 L1384.0,1436.9 L1386.4,1435.8 L1388.7,1434.7 L1390.9,1433.4 L1393.1,1432.0 L1395.2,1430.5 L1397.2,1429.0 L1399.1,1427.3 L1400.9,1425.5 L1402.6,1423.7 L1404.2,1421.7 L1405.6,1419.7 L1407.0,1417.7 L1408.3,1415.5 L1409.4,1413.3 L1410.4,1411.1 L1411.3,1408.8 L1412.0,1406.4 L1412.6,1404.1 L1413.1,1401.7 L1413.4,1399.3 L1413.6,1396.8 L1413.7,1394.4 L1413.6,1392.0 L1413.4,1389.5 L1413.1,1387.1 L1412.6,1384.7 L1412.0,1382.4 L1411.3,1380.0 L1410.4,1377.7 L1409.4,1375.5 L1408.3,1373.3 L1407.0,1371.2 L1405.6,1369.1 L1404.2,1367.1 L1402.6,1365.1 L1400.9,1363.3 L1399.1,1361.5 L1397.2,1359.8 L1395.2,1358.3 L1393.1,1356.8 L1390.9,1355.4 L1388.7,1354.1 L1386.4,1353.0 L1384.0,1351.9 L1381.6,1351.0 L1379.2,1350.2 L1376.6,1349.5 L1374.1,1348.9 L1371.5,1348.5 L1368.9,1348.2 L1366.3,1348.0 L1363.7,1347.9 L1361.1,1348.0 L1358.5,1348.2 L1355.9,1348.5 L1353.3,1348.9 L1350.8,1349.5 L1348.2,1350.2 L1345.8,1351.0 L1343.4,1351.9 L1341.0,1353.0 L1338.7,1354.1 L1336.5,1355.4 L1334.3,1356.8 L1332.2,1358.3 Z" fill="#5b9bd5"/>
<path d="M1300.8,1441.8 L1303.5,1408.3 L1332.6,1417.8 Z" fill="#5b9bd5"/>
<path d="M1281.0,1408.0 L1304.1,1378.5 L1321.4,1401.3 Z" fill="#a9d18e"/>
<path d="M1287.7,1365.8 L1317.6,1355.8 L1324.8,1379.8 Z" fill="#ffff00"/>
<path d="M1311.2,1338.2 L1346.6,1339.0 L1338.1,1367.0 Z" fill="#ff0000"/>
<path d="M1417,1445 Q1422,1458 1432,1463 L1426,1477 Q1410,1470 1403,1454 Z" fill="#bdd7ee"/>
<path d="M1431.2,1455.8 L1436.2,1473 L1423.8,1485.4 Z" fill="#bdd7ee"/>
<text x="1318.80" y="1354.50" font-size="26.02" font-weight="bold" fill="#000" textLength="22.20" lengthAdjust="spacingAndGlyphs" >M</text>
<text x="1296.00" y="1377.30" font-size="26.02" font-weight="bold" fill="#000" textLength="17.20" lengthAdjust="spacingAndGlyphs" >G</text>
<text x="1315.10" y="1384.10" font-size="16.13" font-weight="normal" fill="#000" textLength="8.60" lengthAdjust="spacingAndGlyphs" >2</text>
<text x="1292.20" y="1411.30" font-size="26.89" font-weight="bold" fill="#000" textLength="11.80" lengthAdjust="spacingAndGlyphs" >S</text>
<text x="1413.30" y="1400.80" font-size="26.02" font-weight="bold" fill="#000" textLength="17.30" lengthAdjust="spacingAndGlyphs" >G</text>
<text x="1431.80" y="1408.80" font-size="17.01" font-weight="normal" fill="#000" textLength="8.70" lengthAdjust="spacingAndGlyphs" >1</text>
<text x="1443.60" y="1457.00" font-size="26.89" font-weight="normal" fill="#000" textLength="18.50" lengthAdjust="spacingAndGlyphs" >G</text>
<text x="1462.70" y="1464.40" font-size="17.88" font-weight="normal" fill="#000" textLength="8.70" lengthAdjust="spacingAndGlyphs" >0</text>
<path d="M938.8,1496.1 L938.8,1619.6 L1090,1619.6" fill="none" stroke="#5b9bd5" stroke-width="7"/>
<path d="M961.8,1616.2 C965.0,1602.5 967.8,1594.5 973.9,1565.0 C980.0,1535.5 979.3,1516.4 984.7,1505.6 C990.1,1494.8 988.8,1504.4 994.2,1524.5 C999.6,1544.6 997.8,1562.8 1005.0,1581.1 C1012.2,1599.4 1012.6,1591.1 1021.2,1593.3 C1029.8,1595.5 1030.9,1595.7 1037.4,1589.2 C1043.9,1582.7 1041.2,1571.2 1045.5,1569.0 C1049.8,1566.8 1048.6,1568.5 1053.6,1581.1 C1058.6,1593.7 1061.5,1606.8 1064.4,1616.2" fill="none" stroke="#41719c" stroke-width="5" stroke-linejoin="round"/>
<path d="M1316,1501.5 L1316,1625 L1466.6,1625" fill="none" stroke="#5b9bd5" stroke-width="7"/>
<path d="M1328.9,1622.0 C1333.3,1619.8 1341.5,1625.8 1347.8,1612.5 C1354.1,1599.2 1352.8,1587.5 1355.9,1564.9 C1359.1,1542.3 1358.8,1515.5 1361.3,1515.5 C1363.8,1515.5 1362.9,1543.3 1366.7,1564.9 C1370.5,1586.5 1369.9,1594.8 1377.5,1608.1 C1385.1,1621.4 1394.1,1618.8 1399.1,1622.0" fill="none" stroke="#41719c" stroke-width="5" stroke-linejoin="round"/>
<path d="M1167.7,1388.9 L1211.5,1388.9 L1211.5,1376.7 L1233.7,1399.6 L1211.5,1422.5 L1211.5,1410.3 L1167.7,1410.3 Z" fill="#fff" stroke="#000" stroke-width="4.2" stroke-linejoin="miter"/>
<text x="1168.30" y="1512.30" font-size="31.40" font-weight="bold" fill="#000" textLength="73.69" lengthAdjust="spacingAndGlyphs" >Ciclo</text>
<text x="1152.00" y="1558.20" font-size="33.43" font-weight="bold" fill="#000" textLength="106.70" lengthAdjust="spacingAndGlyphs" >celular</text>
<text x="1121.00" y="1604.00" font-size="37.21" font-weight="bold" fill="#000" textLength="168.81" lengthAdjust="spacingAndGlyphs" >bloqueado</text>
<path d="M1684.1,1408.0 Q1713.0,1421.6 1745.5,1411.9 Q1739.0,1431.2 1768.5,1453.4 Q1744.0,1465.9 1743.6,1510.4 Q1689.1,1500.0 1687.0,1523.6 Q1669.7,1505.2 1645.6,1503.6 Q1661.5,1485.3 1645.1,1464.1 Q1677.4,1443.4 1684.1,1408.0 Z" fill="#d9d9d9"/>
<path d="M1725.1,1438.3 C1728.9,1441.0 1728.5,1446.1 1727.0,1452.4 C1725.5,1458.7 1722.0,1464.5 1717.8,1470.0 C1713.6,1475.5 1711.1,1477.7 1706.0,1479.7 C1700.9,1481.7 1697.8,1482.0 1692.4,1480.2 C1687.0,1478.4 1680.9,1475.3 1678.8,1470.9 C1676.7,1466.5 1677.8,1464.1 1681.7,1458.3 C1685.6,1452.5 1693.0,1445.6 1698.3,1441.7 C1703.6,1437.8 1702.6,1439.5 1708.0,1438.8 C1713.4,1438.1 1721.3,1435.6 1725.1,1438.3 Z" fill="#767171"/>
<path d="M1819.1,1444.5 L1859.7,1444.5 L1859.7,1429.6 L1887.3,1458.6 L1859.7,1487.6 L1859.7,1472.8 L1819.1,1472.8 Z" fill="#fff" stroke="#000" stroke-width="4.2" stroke-linejoin="miter"/>
<defs><radialGradient id="seng" gradientUnits="userSpaceOnUse" cx="2022" cy="1462" r="98" fx="2022" fy="1462"><stop offset="0" stop-color="#ffffff"/><stop offset="0.28" stop-color="#f4f6fc"/><stop offset="0.55" stop-color="#b5c6e8"/><stop offset="0.8" stop-color="#7d9dd5"/><stop offset="1" stop-color="#7898d3"/></radialGradient><radialGradient id="nucg" cx="0.55" cy="0.55" r="0.6"><stop offset="0" stop-color="#8496fb"/><stop offset="0.6" stop-color="#889bfa"/><stop offset="1" stop-color="#aab6fc"/></radialGradient></defs>
<path d="M2016.0,1367.1 C2032.4,1365.5 2049.3,1367.1 2063.8,1369.8 C2078.3,1372.5 2078.6,1375.4 2088.4,1380.7 C2098.2,1386.0 2106.2,1389.4 2113.0,1396.4 C2119.8,1403.4 2120.3,1407.9 2122.5,1415.5 C2124.7,1423.1 2125.8,1425.3 2123.9,1434.6 C2122.0,1443.9 2117.4,1452.7 2113.0,1462.0 C2108.6,1471.3 2109.1,1472.8 2102.0,1481.0 C2094.9,1489.2 2089.0,1493.3 2077.5,1502.9 C2066.0,1512.5 2060.0,1520.3 2044.7,1528.8 C2029.4,1537.3 2019.0,1543.3 2001.0,1545.2 C1983.0,1547.1 1968.2,1541.7 1954.6,1538.4 C1941.0,1535.1 1939.9,1536.4 1932.8,1528.8 C1925.7,1521.2 1919.9,1510.8 1919.1,1500.2 C1918.3,1489.6 1926.5,1487.1 1928.7,1475.6 C1930.9,1464.1 1928.4,1454.8 1930.0,1442.8 C1931.6,1430.8 1932.0,1425.1 1936.9,1415.5 C1941.8,1405.9 1945.6,1402.5 1954.6,1395.0 C1963.6,1387.5 1969.6,1383.6 1981.9,1378.0 C1994.2,1372.4 1999.6,1368.7 2016.0,1367.1 Z" fill="url(#seng)" stroke="#b9d8ea" stroke-width="2"/>
<filter id="nblur" x="-20%" y="-20%" width="140%" height="140%"><feGaussianBlur stdDeviation="1.6"/></filter>
<path d="M2024.2,1422.4 C2032.8,1420.2 2053.0,1435.5 2052.2,1444.2 C2051.4,1452.9 2027.4,1478.2 2018.8,1480.4 C2010.2,1482.7 1994.1,1467.9 1994.9,1459.2 C1995.7,1450.5 2015.6,1424.7 2024.2,1422.4 Z" fill="#a7b3fc" stroke="#a7b3fc" stroke-width="3" stroke-linejoin="round" filter="url(#nblur)"/>
<path d="M2024.2,1422.4 C2032.8,1420.2 2053.0,1435.5 2052.2,1444.2 C2051.4,1452.9 2027.4,1478.2 2018.8,1480.4 C2010.2,1482.7 1994.1,1467.9 1994.9,1459.2 C1995.7,1450.5 2015.6,1424.7 2024.2,1422.4 Z" fill="#8698fa" transform="translate(2023 1452) scale(0.82) translate(-2023 -1452)" filter="url(#nblur)"/>
<text x="1653.30" y="1617.90" font-size="34.30" font-weight="bold" fill="#000" textLength="397.89" lengthAdjust="spacingAndGlyphs" >Inducción de senescencia</text>
<path d="M2353.3,1382.4 Q2339.6,1395.3 2339.5,1414.7 Q2326.6,1407.4 2310.1,1417.9 Q2308.5,1403.6 2287.8,1397.9 Q2300.5,1385.1 2287.8,1374.7 Q2310.0,1368.2 2307.2,1351.6 Q2325.6,1363.8 2343.4,1362.6 Q2338.8,1375.9 2353.3,1382.4 Z" fill="#d9d9d9"/>
<path d="M2394.4,1383.6 Q2381.1,1383.8 2370.0,1406.2 Q2363.0,1390.9 2344.7,1398.8 Q2345.4,1378.7 2332.7,1374.4 Q2345.1,1360.2 2340.3,1345.4 Q2361.6,1351.1 2368.4,1333.9 Q2381.0,1354.8 2391.3,1351.6 Q2389.0,1370.5 2394.4,1383.6 Z" fill="#d9d9d9"/>
<path d="M2428.4,1412.1 Q2405.8,1410.3 2400.7,1424.8 Q2389.1,1406.9 2372.9,1406.1 Q2381.7,1392.8 2370.2,1376.7 Q2387.9,1372.9 2387.2,1358.9 Q2406.5,1366.2 2421.6,1361.8 Q2419.9,1376.1 2437.3,1390.1 Q2420.2,1396.4 2428.4,1412.1 Z" fill="#d9d9d9"/>
<path d="M2363.8,1440.4 Q2357.5,1430.2 2336.3,1436.8 Q2339.4,1417.5 2325.1,1414.5 Q2333.8,1399.8 2333.4,1384.9 Q2348.2,1389.4 2357.8,1371.4 Q2366.8,1389.1 2384.2,1392.6 Q2378.0,1404.5 2387.9,1413.6 Q2373.4,1423.1 2363.8,1440.4 Z" fill="#d9d9d9"/>
<path d="M2436.6,1449.9 Q2434.0,1435.7 2415.2,1432.0 Q2421.4,1419.2 2408.1,1407.0 Q2425.2,1399.1 2432.4,1384.7 Q2442.5,1394.2 2456.3,1381.0 Q2461.5,1404.6 2475.8,1404.2 Q2463.4,1422.4 2470.0,1435.7 Q2452.7,1433.7 2436.6,1449.9 Z" fill="#d9d9d9"/>
<path d="M2285.0,1464.1 Q2288.3,1451.7 2266.1,1441.4 Q2283.8,1432.1 2273.0,1415.4 Q2294.3,1415.0 2300.2,1403.6 Q2312.7,1414.5 2328.5,1412.2 Q2324.4,1432.8 2336.7,1439.6 Q2317.6,1451.1 2317.6,1463.9 Q2303.6,1462.0 2285.0,1464.1 Z" fill="#d9d9d9"/>
<path d="M2366.3,1450.3 Q2375.5,1432.0 2358.2,1426.6 Q2377.1,1413.0 2381.7,1398.8 Q2389.7,1405.6 2410.9,1396.0 Q2407.3,1416.1 2428.7,1414.4 Q2414.3,1433.6 2422.9,1446.1 Q2405.7,1446.8 2395.2,1462.7 Q2389.2,1445.8 2366.3,1450.3 Z" fill="#d9d9d9"/>
<path d="M2311.1,1471.0 Q2320.6,1455.9 2316.1,1435.1 Q2331.0,1441.6 2339.1,1424.7 Q2350.7,1438.2 2366.1,1429.2 Q2366.4,1450.9 2374.9,1463.6 Q2363.1,1468.0 2360.6,1487.8 Q2346.6,1478.3 2328.4,1487.0 Q2328.9,1472.6 2311.1,1471.0 Z" fill="#d9d9d9"/>
<path d="M2409.4,1457.3 Q2426.8,1445.0 2429.2,1426.8 Q2441.4,1435.4 2452.5,1424.6 Q2464.0,1439.4 2473.6,1440.7 Q2466.5,1459.9 2477.7,1471.3 Q2455.1,1476.5 2452.8,1487.5 Q2439.6,1479.6 2417.6,1479.7 Q2427.4,1463.4 2409.4,1457.3 Z" fill="#d9d9d9"/>
<path d="M2358.8,1453.3 Q2375.5,1446.1 2383.8,1435.5 Q2394.0,1445.3 2413.2,1438.8 Q2408.9,1458.4 2423.9,1468.2 Q2408.8,1474.9 2408.0,1495.2 Q2394.2,1485.1 2383.2,1502.0 Q2374.4,1481.4 2358.4,1484.7 Q2367.5,1463.4 2358.8,1453.3 Z" fill="#d9d9d9"/>
<path d="M2268.8,1453.9 Q2278.4,1460.1 2296.3,1450.6 Q2299.6,1463.1 2316.1,1466.8 Q2310.3,1481.5 2315.7,1495.3 Q2302.2,1499.8 2295.9,1513.7 Q2280.9,1502.6 2269.3,1512.9 Q2266.0,1491.4 2255.0,1479.0 Q2264.8,1476.0 2268.8,1453.9 Z" fill="#d9d9d9"/>
<path d="M2324.8,1462.3 Q2331.2,1472.0 2353.9,1468.7 Q2349.2,1482.0 2365.9,1490.6 Q2352.6,1505.0 2355.4,1515.7 Q2336.7,1516.8 2327.2,1526.4 Q2318.0,1514.7 2301.5,1509.4 Q2310.2,1495.7 2300.5,1483.0 Q2313.8,1476.1 2324.8,1462.3 Z" fill="#d9d9d9"/>
<path d="M2374.2,1474.6 Q2380.9,1491.9 2400.9,1491.4 Q2392.2,1504.4 2402.7,1524.4 Q2386.5,1525.2 2384.5,1538.7 Q2367.1,1531.1 2353.5,1537.9 Q2352.8,1523.3 2335.5,1509.0 Q2351.2,1504.3 2346.8,1486.2 Q2363.0,1488.3 2374.2,1474.6 Z" fill="#d9d9d9"/>
<path d="M2435.7,1467.0 Q2443.1,1488.6 2453.7,1497.2 Q2447.2,1506.2 2446.5,1522.6 Q2433.9,1521.2 2416.6,1535.9 Q2414.4,1516.3 2395.5,1522.0 Q2400.6,1502.9 2391.0,1491.4 Q2404.3,1484.0 2409.2,1469.8 Q2425.6,1479.0 2435.7,1467.0 Z" fill="#d9d9d9"/>
<path d="M2486.6,1471.3 Q2475.6,1482.3 2471.3,1493.9 Q2463.0,1490.1 2447.1,1493.7 Q2447.1,1480.9 2434.6,1481.1 Q2442.6,1463.7 2437.7,1456.9 Q2452.1,1452.6 2456.9,1442.4 Q2468.4,1454.1 2480.4,1448.6 Q2478.1,1468.4 2486.6,1471.3 Z" fill="#d9d9d9"/>
<ellipse cx="2317.7" cy="1382.7" rx="16" ry="11" transform="rotate(-52 2317.7 1382.7)" fill="#767171"/>
<ellipse cx="2362.9" cy="1367.3" rx="16" ry="11" transform="rotate(-52 2362.9 1367.3)" fill="#767171"/>
<ellipse cx="2400.0" cy="1386.7" rx="16" ry="11" transform="rotate(-52 2400.0 1386.7)" fill="#767171"/>
<ellipse cx="2354.0" cy="1404.5" rx="16" ry="11" transform="rotate(-52 2354.0 1404.5)" fill="#767171"/>
<ellipse cx="2440.5" cy="1411.4" rx="16" ry="11" transform="rotate(-52 2440.5 1411.4)" fill="#767171"/>
<ellipse cx="2300.1" cy="1432.7" rx="16" ry="11" transform="rotate(-52 2300.1 1432.7)" fill="#767171"/>
<ellipse cx="2392.6" cy="1424.7" rx="16" ry="11" transform="rotate(-52 2392.6 1424.7)" fill="#767171"/>
<ellipse cx="2340.8" cy="1454.5" rx="16" ry="11" transform="rotate(-52 2340.8 1454.5)" fill="#767171"/>
<ellipse cx="2443.1" cy="1453.1" rx="16" ry="11" transform="rotate(-52 2443.1 1453.1)" fill="#767171"/>
<ellipse cx="2387.8" cy="1463.8" rx="16" ry="11" transform="rotate(-52 2387.8 1463.8)" fill="#767171"/>
<ellipse cx="2285.0" cy="1478.9" rx="16" ry="11" transform="rotate(-52 2285.0 1478.9)" fill="#767171"/>
<ellipse cx="2329.4" cy="1491.1" rx="16" ry="11" transform="rotate(-52 2329.4 1491.1)" fill="#767171"/>
<ellipse cx="2368.7" cy="1506.3" rx="16" ry="11" transform="rotate(-52 2368.7 1506.3)" fill="#767171"/>
<ellipse cx="2420.5" cy="1497.5" rx="16" ry="11" transform="rotate(-52 2420.5 1497.5)" fill="#767171"/>
<path d="M2624.9,1445.5 Q2608.7,1454.8 2613.3,1467.8 Q2592.9,1467.1 2576.1,1474.2 Q2573.8,1460.6 2557.9,1452.8 Q2565.1,1439.6 2559.3,1424.1 Q2579.2,1421.4 2581.9,1407.9 Q2600.2,1418.9 2613.0,1411.1 Q2613.3,1434.9 2624.9,1445.5 Z" fill="#d9d9d9"/>
<path d="M2664.9,1448.2 Q2644.5,1448.7 2635.5,1462.6 Q2624.4,1446.2 2607.8,1453.2 Q2611.9,1430.8 2595.3,1422.6 Q2617.1,1411.7 2613.1,1394.3 Q2636.6,1406.2 2644.0,1392.7 Q2652.9,1411.3 2671.2,1417.2 Q2655.6,1431.3 2664.9,1448.2 Z" fill="#d9d9d9"/>
<path d="M2681.3,1480.4 Q2672.9,1466.7 2654.1,1476.8 Q2652.8,1457.1 2639.4,1454.2 Q2645.9,1437.1 2643.9,1422.5 Q2661.3,1422.5 2675.9,1410.7 Q2681.1,1421.8 2701.3,1429.5 Q2697.3,1438.3 2703.2,1455.8 Q2694.2,1460.9 2681.3,1480.4 Z" fill="#d9d9d9"/>
<path d="M2617.6,1503.6 Q2602.8,1480.9 2586.3,1487.4 Q2595.3,1466.3 2587.3,1448.6 Q2600.6,1449.9 2607.3,1431.1 Q2620.9,1442.7 2638.0,1433.0 Q2640.1,1451.5 2652.5,1465.1 Q2641.3,1471.5 2643.1,1492.1 Q2622.7,1485.6 2617.6,1503.6 Z" fill="#d9d9d9"/>
<ellipse cx="2588.0" cy="1438.5" rx="16" ry="11" transform="rotate(-52 2588.0 1438.5)" fill="#767171"/>
<ellipse cx="2631.8" cy="1423.9" rx="16" ry="11" transform="rotate(-52 2631.8 1423.9)" fill="#767171"/>
<ellipse cx="2669.6" cy="1442.5" rx="16" ry="11" transform="rotate(-52 2669.6 1442.5)" fill="#767171"/>
<ellipse cx="2615.9" cy="1461.9" rx="16" ry="11" transform="rotate(-52 2615.9 1461.9)" fill="#767171"/>
<path d="M2493.6,1445.9 L2522.9,1445.9 L2522.9,1436.6 L2539.4,1454.2 L2522.9,1471.8 L2522.9,1461.7 L2493.6,1461.7 Z" fill="#fff" stroke="#000" stroke-width="4.2" stroke-linejoin="miter"/>
<text x="2314.20" y="1616.60" font-size="34.30" font-weight="bold" fill="#000" textLength="382.57" lengthAdjust="spacingAndGlyphs" >Proliferación disminuida</text>
</svg></body></html>
